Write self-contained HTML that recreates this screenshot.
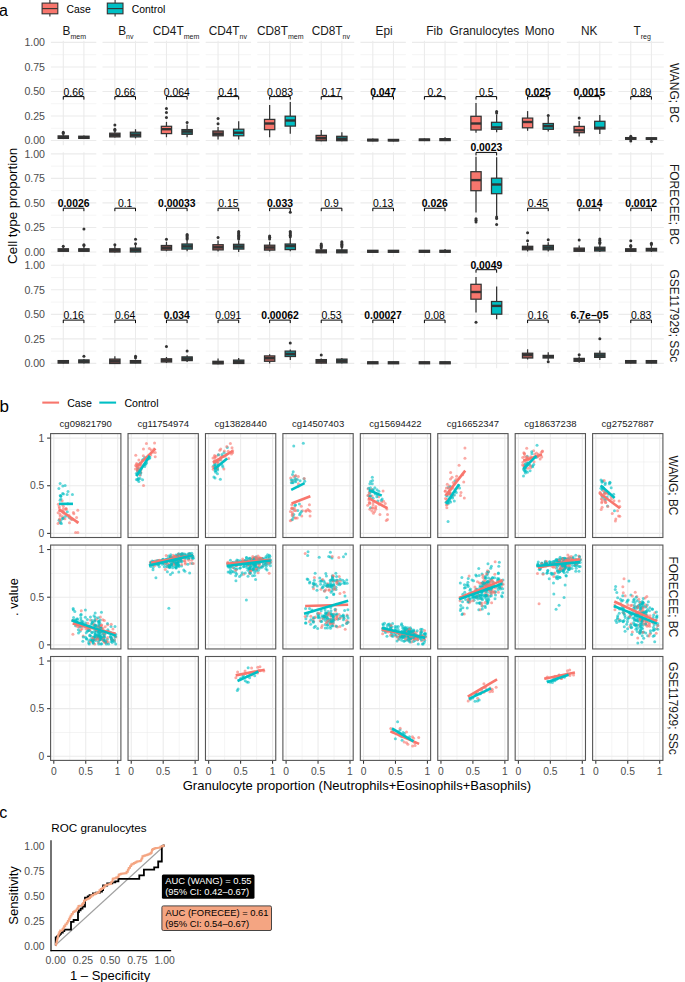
<!DOCTYPE html>
<html><head><meta charset="utf-8"><style>
html,body{margin:0;padding:0;background:#fff;}
svg{display:block;}
text{font-family:"Liberation Sans",sans-serif;}
.r{fill:#F8766D;fill-opacity:.62}
.t{fill:#00BFC4;fill-opacity:.62}
</style></head><body>
<svg width="685" height="982" viewBox="0 0 685 982">
<rect width="685" height="982" fill="#fff"/>
<path d="M50.9 140.5H96.3M50.9 115.97H96.3M50.9 91.45H96.3M50.9 66.92H96.3M50.9 42.4H96.3M63.28 40.7V145.3M83.92 40.7V145.3M102.49 140.5H147.89M102.49 115.97H147.89M102.49 91.45H147.89M102.49 66.92H147.89M102.49 42.4H147.89M114.87 40.7V145.3M135.51 40.7V145.3M154.08 140.5H199.48M154.08 115.97H199.48M154.08 91.45H199.48M154.08 66.92H199.48M154.08 42.4H199.48M166.46 40.7V145.3M187.1 40.7V145.3M205.67 140.5H251.07M205.67 115.97H251.07M205.67 91.45H251.07M205.67 66.92H251.07M205.67 42.4H251.07M218.05 40.7V145.3M238.69 40.7V145.3M257.26 140.5H302.66M257.26 115.97H302.66M257.26 91.45H302.66M257.26 66.92H302.66M257.26 42.4H302.66M269.64 40.7V145.3M290.28 40.7V145.3M308.85 140.5H354.25M308.85 115.97H354.25M308.85 91.45H354.25M308.85 66.92H354.25M308.85 42.4H354.25M321.23 40.7V145.3M341.87 40.7V145.3M360.44 140.5H405.84M360.44 115.97H405.84M360.44 91.45H405.84M360.44 66.92H405.84M360.44 42.4H405.84M372.82 40.7V145.3M393.46 40.7V145.3M412.03 140.5H457.43M412.03 115.97H457.43M412.03 91.45H457.43M412.03 66.92H457.43M412.03 42.4H457.43M424.41 40.7V145.3M445.05 40.7V145.3M463.62 140.5H509.02M463.62 115.97H509.02M463.62 91.45H509.02M463.62 66.92H509.02M463.62 42.4H509.02M476 40.7V145.3M496.64 40.7V145.3M515.21 140.5H560.61M515.21 115.97H560.61M515.21 91.45H560.61M515.21 66.92H560.61M515.21 42.4H560.61M527.59 40.7V145.3M548.23 40.7V145.3M566.8 140.5H612.2M566.8 115.97H612.2M566.8 91.45H612.2M566.8 66.92H612.2M566.8 42.4H612.2M579.18 40.7V145.3M599.82 40.7V145.3M618.39 140.5H663.79M618.39 115.97H663.79M618.39 91.45H663.79M618.39 66.92H663.79M618.39 42.4H663.79M630.77 40.7V145.3M651.41 40.7V145.3M50.9 251.95H96.3M50.9 227.42H96.3M50.9 202.9H96.3M50.9 178.38H96.3M50.9 153.85H96.3M63.28 152.15V256.75M83.92 152.15V256.75M102.49 251.95H147.89M102.49 227.42H147.89M102.49 202.9H147.89M102.49 178.38H147.89M102.49 153.85H147.89M114.87 152.15V256.75M135.51 152.15V256.75M154.08 251.95H199.48M154.08 227.42H199.48M154.08 202.9H199.48M154.08 178.38H199.48M154.08 153.85H199.48M166.46 152.15V256.75M187.1 152.15V256.75M205.67 251.95H251.07M205.67 227.42H251.07M205.67 202.9H251.07M205.67 178.38H251.07M205.67 153.85H251.07M218.05 152.15V256.75M238.69 152.15V256.75M257.26 251.95H302.66M257.26 227.42H302.66M257.26 202.9H302.66M257.26 178.38H302.66M257.26 153.85H302.66M269.64 152.15V256.75M290.28 152.15V256.75M308.85 251.95H354.25M308.85 227.42H354.25M308.85 202.9H354.25M308.85 178.38H354.25M308.85 153.85H354.25M321.23 152.15V256.75M341.87 152.15V256.75M360.44 251.95H405.84M360.44 227.42H405.84M360.44 202.9H405.84M360.44 178.38H405.84M360.44 153.85H405.84M372.82 152.15V256.75M393.46 152.15V256.75M412.03 251.95H457.43M412.03 227.42H457.43M412.03 202.9H457.43M412.03 178.38H457.43M412.03 153.85H457.43M424.41 152.15V256.75M445.05 152.15V256.75M463.62 251.95H509.02M463.62 227.42H509.02M463.62 202.9H509.02M463.62 178.38H509.02M463.62 153.85H509.02M476 152.15V256.75M496.64 152.15V256.75M515.21 251.95H560.61M515.21 227.42H560.61M515.21 202.9H560.61M515.21 178.38H560.61M515.21 153.85H560.61M527.59 152.15V256.75M548.23 152.15V256.75M566.8 251.95H612.2M566.8 227.42H612.2M566.8 202.9H612.2M566.8 178.38H612.2M566.8 153.85H612.2M579.18 152.15V256.75M599.82 152.15V256.75M618.39 251.95H663.79M618.39 227.42H663.79M618.39 202.9H663.79M618.39 178.38H663.79M618.39 153.85H663.79M630.77 152.15V256.75M651.41 152.15V256.75M50.9 363.4H96.3M50.9 338.88H96.3M50.9 314.35H96.3M50.9 289.82H96.3M50.9 265.3H96.3M63.28 263.6V368.2M83.92 263.6V368.2M102.49 363.4H147.89M102.49 338.88H147.89M102.49 314.35H147.89M102.49 289.82H147.89M102.49 265.3H147.89M114.87 263.6V368.2M135.51 263.6V368.2M154.08 363.4H199.48M154.08 338.88H199.48M154.08 314.35H199.48M154.08 289.82H199.48M154.08 265.3H199.48M166.46 263.6V368.2M187.1 263.6V368.2M205.67 363.4H251.07M205.67 338.88H251.07M205.67 314.35H251.07M205.67 289.82H251.07M205.67 265.3H251.07M218.05 263.6V368.2M238.69 263.6V368.2M257.26 363.4H302.66M257.26 338.88H302.66M257.26 314.35H302.66M257.26 289.82H302.66M257.26 265.3H302.66M269.64 263.6V368.2M290.28 263.6V368.2M308.85 363.4H354.25M308.85 338.88H354.25M308.85 314.35H354.25M308.85 289.82H354.25M308.85 265.3H354.25M321.23 263.6V368.2M341.87 263.6V368.2M360.44 363.4H405.84M360.44 338.88H405.84M360.44 314.35H405.84M360.44 289.82H405.84M360.44 265.3H405.84M372.82 263.6V368.2M393.46 263.6V368.2M412.03 363.4H457.43M412.03 338.88H457.43M412.03 314.35H457.43M412.03 289.82H457.43M412.03 265.3H457.43M424.41 263.6V368.2M445.05 263.6V368.2M463.62 363.4H509.02M463.62 338.88H509.02M463.62 314.35H509.02M463.62 289.82H509.02M463.62 265.3H509.02M476 263.6V368.2M496.64 263.6V368.2M515.21 363.4H560.61M515.21 338.88H560.61M515.21 314.35H560.61M515.21 289.82H560.61M515.21 265.3H560.61M527.59 263.6V368.2M548.23 263.6V368.2M566.8 363.4H612.2M566.8 338.88H612.2M566.8 314.35H612.2M566.8 289.82H612.2M566.8 265.3H612.2M579.18 263.6V368.2M599.82 263.6V368.2M618.39 363.4H663.79M618.39 338.88H663.79M618.39 314.35H663.79M618.39 289.82H663.79M618.39 265.3H663.79M630.77 263.6V368.2M651.41 263.6V368.2M50.6 533.4H120.9M53.8 433.6V537.5M50.6 485.75H120.9M85.75 433.6V537.5M50.6 438.1H120.9M117.7 433.6V537.5M128.03 533.4H198.33M131.23 433.6V537.5M128.03 485.75H198.33M163.18 433.6V537.5M128.03 438.1H198.33M195.13 433.6V537.5M205.46 533.4H275.76M208.66 433.6V537.5M205.46 485.75H275.76M240.61 433.6V537.5M205.46 438.1H275.76M272.56 433.6V537.5M282.89 533.4H353.19M286.09 433.6V537.5M282.89 485.75H353.19M318.04 433.6V537.5M282.89 438.1H353.19M349.99 433.6V537.5M360.32 533.4H430.62M363.52 433.6V537.5M360.32 485.75H430.62M395.47 433.6V537.5M360.32 438.1H430.62M427.42 433.6V537.5M437.75 533.4H508.05M440.95 433.6V537.5M437.75 485.75H508.05M472.9 433.6V537.5M437.75 438.1H508.05M504.85 433.6V537.5M515.18 533.4H585.48M518.38 433.6V537.5M515.18 485.75H585.48M550.33 433.6V537.5M515.18 438.1H585.48M582.28 433.6V537.5M592.61 533.4H662.91M595.81 433.6V537.5M592.61 485.75H662.91M627.76 433.6V537.5M592.61 438.1H662.91M659.71 433.6V537.5M50.6 644.85H120.9M53.8 545.05V648.95M50.6 597.2H120.9M85.75 545.05V648.95M50.6 549.55H120.9M117.7 545.05V648.95M128.03 644.85H198.33M131.23 545.05V648.95M128.03 597.2H198.33M163.18 545.05V648.95M128.03 549.55H198.33M195.13 545.05V648.95M205.46 644.85H275.76M208.66 545.05V648.95M205.46 597.2H275.76M240.61 545.05V648.95M205.46 549.55H275.76M272.56 545.05V648.95M282.89 644.85H353.19M286.09 545.05V648.95M282.89 597.2H353.19M318.04 545.05V648.95M282.89 549.55H353.19M349.99 545.05V648.95M360.32 644.85H430.62M363.52 545.05V648.95M360.32 597.2H430.62M395.47 545.05V648.95M360.32 549.55H430.62M427.42 545.05V648.95M437.75 644.85H508.05M440.95 545.05V648.95M437.75 597.2H508.05M472.9 545.05V648.95M437.75 549.55H508.05M504.85 545.05V648.95M515.18 644.85H585.48M518.38 545.05V648.95M515.18 597.2H585.48M550.33 545.05V648.95M515.18 549.55H585.48M582.28 545.05V648.95M592.61 644.85H662.91M595.81 545.05V648.95M592.61 597.2H662.91M627.76 545.05V648.95M592.61 549.55H662.91M659.71 545.05V648.95M50.6 756.3H120.9M53.8 656.5V760.4M50.6 708.65H120.9M85.75 656.5V760.4M50.6 661H120.9M117.7 656.5V760.4M128.03 756.3H198.33M131.23 656.5V760.4M128.03 708.65H198.33M163.18 656.5V760.4M128.03 661H198.33M195.13 656.5V760.4M205.46 756.3H275.76M208.66 656.5V760.4M205.46 708.65H275.76M240.61 656.5V760.4M205.46 661H275.76M272.56 656.5V760.4M282.89 756.3H353.19M286.09 656.5V760.4M282.89 708.65H353.19M318.04 656.5V760.4M282.89 661H353.19M349.99 656.5V760.4M360.32 756.3H430.62M363.52 656.5V760.4M360.32 708.65H430.62M395.47 656.5V760.4M360.32 661H430.62M427.42 656.5V760.4M437.75 756.3H508.05M440.95 656.5V760.4M437.75 708.65H508.05M472.9 656.5V760.4M437.75 661H508.05M504.85 656.5V760.4M515.18 756.3H585.48M518.38 656.5V760.4M515.18 708.65H585.48M550.33 656.5V760.4M515.18 661H585.48M582.28 656.5V760.4M592.61 756.3H662.91M595.81 656.5V760.4M592.61 708.65H662.91M627.76 656.5V760.4M592.61 661H662.91M659.71 656.5V760.4" fill="none" stroke="#EBEBEB" stroke-width="1.07"/>
<path d="M50.9 128.24H96.3M50.9 103.71H96.3M50.9 79.19H96.3M50.9 54.66H96.3M102.49 128.24H147.89M102.49 103.71H147.89M102.49 79.19H147.89M102.49 54.66H147.89M154.08 128.24H199.48M154.08 103.71H199.48M154.08 79.19H199.48M154.08 54.66H199.48M205.67 128.24H251.07M205.67 103.71H251.07M205.67 79.19H251.07M205.67 54.66H251.07M257.26 128.24H302.66M257.26 103.71H302.66M257.26 79.19H302.66M257.26 54.66H302.66M308.85 128.24H354.25M308.85 103.71H354.25M308.85 79.19H354.25M308.85 54.66H354.25M360.44 128.24H405.84M360.44 103.71H405.84M360.44 79.19H405.84M360.44 54.66H405.84M412.03 128.24H457.43M412.03 103.71H457.43M412.03 79.19H457.43M412.03 54.66H457.43M463.62 128.24H509.02M463.62 103.71H509.02M463.62 79.19H509.02M463.62 54.66H509.02M515.21 128.24H560.61M515.21 103.71H560.61M515.21 79.19H560.61M515.21 54.66H560.61M566.8 128.24H612.2M566.8 103.71H612.2M566.8 79.19H612.2M566.8 54.66H612.2M618.39 128.24H663.79M618.39 103.71H663.79M618.39 79.19H663.79M618.39 54.66H663.79M50.9 239.69H96.3M50.9 215.16H96.3M50.9 190.64H96.3M50.9 166.11H96.3M102.49 239.69H147.89M102.49 215.16H147.89M102.49 190.64H147.89M102.49 166.11H147.89M154.08 239.69H199.48M154.08 215.16H199.48M154.08 190.64H199.48M154.08 166.11H199.48M205.67 239.69H251.07M205.67 215.16H251.07M205.67 190.64H251.07M205.67 166.11H251.07M257.26 239.69H302.66M257.26 215.16H302.66M257.26 190.64H302.66M257.26 166.11H302.66M308.85 239.69H354.25M308.85 215.16H354.25M308.85 190.64H354.25M308.85 166.11H354.25M360.44 239.69H405.84M360.44 215.16H405.84M360.44 190.64H405.84M360.44 166.11H405.84M412.03 239.69H457.43M412.03 215.16H457.43M412.03 190.64H457.43M412.03 166.11H457.43M463.62 239.69H509.02M463.62 215.16H509.02M463.62 190.64H509.02M463.62 166.11H509.02M515.21 239.69H560.61M515.21 215.16H560.61M515.21 190.64H560.61M515.21 166.11H560.61M566.8 239.69H612.2M566.8 215.16H612.2M566.8 190.64H612.2M566.8 166.11H612.2M618.39 239.69H663.79M618.39 215.16H663.79M618.39 190.64H663.79M618.39 166.11H663.79M50.9 351.14H96.3M50.9 326.61H96.3M50.9 302.09H96.3M50.9 277.56H96.3M102.49 351.14H147.89M102.49 326.61H147.89M102.49 302.09H147.89M102.49 277.56H147.89M154.08 351.14H199.48M154.08 326.61H199.48M154.08 302.09H199.48M154.08 277.56H199.48M205.67 351.14H251.07M205.67 326.61H251.07M205.67 302.09H251.07M205.67 277.56H251.07M257.26 351.14H302.66M257.26 326.61H302.66M257.26 302.09H302.66M257.26 277.56H302.66M308.85 351.14H354.25M308.85 326.61H354.25M308.85 302.09H354.25M308.85 277.56H354.25M360.44 351.14H405.84M360.44 326.61H405.84M360.44 302.09H405.84M360.44 277.56H405.84M412.03 351.14H457.43M412.03 326.61H457.43M412.03 302.09H457.43M412.03 277.56H457.43M463.62 351.14H509.02M463.62 326.61H509.02M463.62 302.09H509.02M463.62 277.56H509.02M515.21 351.14H560.61M515.21 326.61H560.61M515.21 302.09H560.61M515.21 277.56H560.61M566.8 351.14H612.2M566.8 326.61H612.2M566.8 302.09H612.2M566.8 277.56H612.2M618.39 351.14H663.79M618.39 326.61H663.79M618.39 302.09H663.79M618.39 277.56H663.79M50.6 509.58H120.9M69.78 433.6V537.5M50.6 461.93H120.9M101.72 433.6V537.5M128.03 509.58H198.33M147.2 433.6V537.5M128.03 461.93H198.33M179.15 433.6V537.5M205.46 509.58H275.76M224.63 433.6V537.5M205.46 461.93H275.76M256.58 433.6V537.5M282.89 509.58H353.19M302.07 433.6V537.5M282.89 461.93H353.19M334.02 433.6V537.5M360.32 509.58H430.62M379.5 433.6V537.5M360.32 461.93H430.62M411.45 433.6V537.5M437.75 509.58H508.05M456.93 433.6V537.5M437.75 461.93H508.05M488.88 433.6V537.5M515.18 509.58H585.48M534.36 433.6V537.5M515.18 461.93H585.48M566.31 433.6V537.5M592.61 509.58H662.91M611.79 433.6V537.5M592.61 461.93H662.91M643.74 433.6V537.5M50.6 621.03H120.9M69.78 545.05V648.95M50.6 573.38H120.9M101.72 545.05V648.95M128.03 621.03H198.33M147.2 545.05V648.95M128.03 573.38H198.33M179.15 545.05V648.95M205.46 621.03H275.76M224.63 545.05V648.95M205.46 573.38H275.76M256.58 545.05V648.95M282.89 621.03H353.19M302.07 545.05V648.95M282.89 573.38H353.19M334.02 545.05V648.95M360.32 621.03H430.62M379.5 545.05V648.95M360.32 573.38H430.62M411.45 545.05V648.95M437.75 621.03H508.05M456.93 545.05V648.95M437.75 573.38H508.05M488.88 545.05V648.95M515.18 621.03H585.48M534.36 545.05V648.95M515.18 573.38H585.48M566.31 545.05V648.95M592.61 621.03H662.91M611.79 545.05V648.95M592.61 573.38H662.91M643.74 545.05V648.95M50.6 732.48H120.9M69.78 656.5V760.4M50.6 684.83H120.9M101.72 656.5V760.4M128.03 732.48H198.33M147.2 656.5V760.4M128.03 684.83H198.33M179.15 656.5V760.4M205.46 732.48H275.76M224.63 656.5V760.4M205.46 684.83H275.76M256.58 656.5V760.4M282.89 732.48H353.19M302.07 656.5V760.4M282.89 684.83H353.19M334.02 656.5V760.4M360.32 732.48H430.62M379.5 656.5V760.4M360.32 684.83H430.62M411.45 656.5V760.4M437.75 732.48H508.05M456.93 656.5V760.4M437.75 684.83H508.05M488.88 656.5V760.4M515.18 732.48H585.48M534.36 656.5V760.4M515.18 684.83H585.48M566.31 656.5V760.4M592.61 732.48H662.91M611.79 656.5V760.4M592.61 684.83H662.91M643.74 656.5V760.4" fill="none" stroke="#EBEBEB" stroke-width="0.55"/>
<text x="45" y="144.3" font-size="10.6" fill="#4D4D4D" text-anchor="end">0.00</text>
<text x="45" y="119.77" font-size="10.6" fill="#4D4D4D" text-anchor="end">0.25</text>
<text x="45" y="95.25" font-size="10.6" fill="#4D4D4D" text-anchor="end">0.50</text>
<text x="45" y="70.72" font-size="10.6" fill="#4D4D4D" text-anchor="end">0.75</text>
<text x="45" y="46.2" font-size="10.6" fill="#4D4D4D" text-anchor="end">1.00</text>
<text x="45" y="255.75" font-size="10.6" fill="#4D4D4D" text-anchor="end">0.00</text>
<text x="45" y="231.22" font-size="10.6" fill="#4D4D4D" text-anchor="end">0.25</text>
<text x="45" y="206.7" font-size="10.6" fill="#4D4D4D" text-anchor="end">0.50</text>
<text x="45" y="182.18" font-size="10.6" fill="#4D4D4D" text-anchor="end">0.75</text>
<text x="45" y="157.65" font-size="10.6" fill="#4D4D4D" text-anchor="end">1.00</text>
<text x="45" y="367.2" font-size="10.6" fill="#4D4D4D" text-anchor="end">0.00</text>
<text x="45" y="342.68" font-size="10.6" fill="#4D4D4D" text-anchor="end">0.25</text>
<text x="45" y="318.15" font-size="10.6" fill="#4D4D4D" text-anchor="end">0.50</text>
<text x="45" y="293.62" font-size="10.6" fill="#4D4D4D" text-anchor="end">0.75</text>
<text x="45" y="269.1" font-size="10.6" fill="#4D4D4D" text-anchor="end">1.00</text>
<text x="74.3" y="34.5" font-size="11.85" fill="#1A1A1A" text-anchor="middle">B<tspan font-size="7" dy="4.3">mem</tspan></text>
<text x="125.8" y="34.5" font-size="11.85" fill="#1A1A1A" text-anchor="middle">B<tspan font-size="7" dy="4.3">nv</tspan></text>
<text x="176" y="34.5" font-size="11.85" fill="#1A1A1A" text-anchor="middle">CD4T<tspan font-size="7" dy="4.3">mem</tspan></text>
<text x="227.8" y="34.5" font-size="11.85" fill="#1A1A1A" text-anchor="middle">CD4T<tspan font-size="7" dy="4.3">nv</tspan></text>
<text x="280.25" y="34.5" font-size="11.85" fill="#1A1A1A" text-anchor="middle">CD8T<tspan font-size="7" dy="4.3">mem</tspan></text>
<text x="330.8" y="34.5" font-size="11.85" fill="#1A1A1A" text-anchor="middle">CD8T<tspan font-size="7" dy="4.3">nv</tspan></text>
<text x="384.05" y="34.5" font-size="11.85" fill="#1A1A1A" text-anchor="middle">Epi</text>
<text x="434.6" y="34.5" font-size="11.85" fill="#1A1A1A" text-anchor="middle">Fib</text>
<text x="484.4" y="34.5" font-size="11.85" fill="#1A1A1A" text-anchor="middle">Granulocytes</text>
<text x="539.5" y="34.5" font-size="11.85" fill="#1A1A1A" text-anchor="middle">Mono</text>
<text x="589.2" y="34.5" font-size="11.85" fill="#1A1A1A" text-anchor="middle">NK</text>
<text x="642.1" y="34.5" font-size="11.85" fill="#1A1A1A" text-anchor="middle">T<tspan font-size="7" dy="4.3">reg</tspan></text>
<text x="670.1" y="93" font-size="11.95" fill="#1A1A1A" text-anchor="middle" transform="rotate(90 670.1 93)">WANG; BC</text>
<text x="670.1" y="204.45" font-size="11.95" fill="#1A1A1A" text-anchor="middle" transform="rotate(90 670.1 204.45)">FORECEE; BC</text>
<text x="670.1" y="315.9" font-size="11.95" fill="#1A1A1A" text-anchor="middle" transform="rotate(90 670.1 315.9)">GSE117929; SSc</text>
<text x="17.2" y="205.9" font-size="13.4" fill="#000" text-anchor="middle" transform="rotate(-90 17.2 205.9)">Cell type proportion</text>
<text x="-1.1" y="15.5" font-size="16" fill="#000" text-anchor="start">a</text>
<line x1="63.28" y1="135" x2="63.28" y2="135.9" stroke="#333" stroke-width="1.25"/>
<line x1="63.28" y1="138.4" x2="63.28" y2="138.9" stroke="#333" stroke-width="1.25"/>
<rect x="58.13" y="135.9" width="10.3" height="2.5" fill="#814D4A" stroke="#333" stroke-width="1.25"/>
<line x1="58.13" y1="137.2" x2="68.43" y2="137.2" stroke="#333" stroke-width="2.4"/>
<circle cx="63.28" cy="132.3" r="1.5" fill="#333"/>
<circle cx="63.28" cy="133.6" r="1.5" fill="#333"/>
<line x1="83.92" y1="135.4" x2="83.92" y2="136.2" stroke="#333" stroke-width="1.25"/>
<line x1="83.92" y1="138.4" x2="83.92" y2="138.9" stroke="#333" stroke-width="1.25"/>
<rect x="78.77" y="136.2" width="10.3" height="2.2" fill="#1E6B6D" stroke="#333" stroke-width="1.25"/>
<line x1="78.77" y1="137.3" x2="89.07" y2="137.3" stroke="#333" stroke-width="2.4"/>
<line x1="114.87" y1="132" x2="114.87" y2="133.2" stroke="#333" stroke-width="1.25"/>
<line x1="114.87" y1="136.9" x2="114.87" y2="137.6" stroke="#333" stroke-width="1.25"/>
<rect x="109.72" y="133.2" width="10.3" height="3.7" fill="#814D4A" stroke="#333" stroke-width="1.25"/>
<line x1="109.72" y1="135.2" x2="120.02" y2="135.2" stroke="#333" stroke-width="2.4"/>
<circle cx="114.87" cy="124.9" r="1.5" fill="#333"/>
<circle cx="114.87" cy="129.2" r="1.5" fill="#333"/>
<circle cx="114.87" cy="130.4" r="1.5" fill="#333"/>
<line x1="135.51" y1="129.2" x2="135.51" y2="132.2" stroke="#333" stroke-width="1.25"/>
<line x1="135.51" y1="136.9" x2="135.51" y2="138.4" stroke="#333" stroke-width="1.25"/>
<rect x="130.36" y="132.2" width="10.3" height="4.7" fill="#1A7779" stroke="#333" stroke-width="1.25"/>
<line x1="130.36" y1="134.8" x2="140.66" y2="134.8" stroke="#333" stroke-width="2.4"/>
<line x1="166.46" y1="121.9" x2="166.46" y2="126.3" stroke="#333" stroke-width="1.25"/>
<line x1="166.46" y1="133.6" x2="166.46" y2="137.2" stroke="#333" stroke-width="1.25"/>
<rect x="161.31" y="126.3" width="10.3" height="7.3" fill="#F8766D" stroke="#333" stroke-width="1.25"/>
<line x1="161.31" y1="129.2" x2="171.61" y2="129.2" stroke="#333" stroke-width="2.4"/>
<circle cx="166.46" cy="108.5" r="1.5" fill="#333"/>
<circle cx="166.46" cy="112.4" r="1.5" fill="#333"/>
<circle cx="166.46" cy="117.5" r="1.5" fill="#333"/>
<line x1="187.1" y1="124.5" x2="187.1" y2="129.6" stroke="#333" stroke-width="1.25"/>
<line x1="187.1" y1="134.3" x2="187.1" y2="137.2" stroke="#333" stroke-width="1.25"/>
<rect x="181.95" y="129.6" width="10.3" height="4.7" fill="#1A7779" stroke="#333" stroke-width="1.25"/>
<line x1="181.95" y1="131.5" x2="192.25" y2="131.5" stroke="#333" stroke-width="2.4"/>
<circle cx="187.1" cy="122.6" r="1.5" fill="#333"/>
<line x1="218.05" y1="127" x2="218.05" y2="131" stroke="#333" stroke-width="1.25"/>
<line x1="218.05" y1="135.8" x2="218.05" y2="139.4" stroke="#333" stroke-width="1.25"/>
<rect x="212.9" y="131" width="10.3" height="4.8" fill="#985550" stroke="#333" stroke-width="1.25"/>
<line x1="212.9" y1="133.9" x2="223.2" y2="133.9" stroke="#333" stroke-width="2.4"/>
<circle cx="218.05" cy="118.5" r="1.5" fill="#333"/>
<circle cx="218.05" cy="123.8" r="1.5" fill="#333"/>
<line x1="238.69" y1="121.2" x2="238.69" y2="129.2" stroke="#333" stroke-width="1.25"/>
<line x1="238.69" y1="135.8" x2="238.69" y2="139.4" stroke="#333" stroke-width="1.25"/>
<rect x="233.54" y="129.2" width="10.3" height="6.6" fill="#00BFC4" stroke="#333" stroke-width="1.25"/>
<line x1="233.54" y1="132.7" x2="243.84" y2="132.7" stroke="#333" stroke-width="2.4"/>
<line x1="269.64" y1="104.9" x2="269.64" y2="119.4" stroke="#333" stroke-width="1.25"/>
<line x1="269.64" y1="129.7" x2="269.64" y2="137.3" stroke="#333" stroke-width="1.25"/>
<rect x="264.49" y="119.4" width="10.3" height="10.3" fill="#F8766D" stroke="#333" stroke-width="1.25"/>
<line x1="264.49" y1="123.5" x2="274.79" y2="123.5" stroke="#333" stroke-width="2.4"/>
<line x1="290.28" y1="102" x2="290.28" y2="116.2" stroke="#333" stroke-width="1.25"/>
<line x1="290.28" y1="126.1" x2="290.28" y2="133.7" stroke="#333" stroke-width="1.25"/>
<rect x="285.13" y="116.2" width="10.3" height="9.9" fill="#00BFC4" stroke="#333" stroke-width="1.25"/>
<line x1="285.13" y1="120.5" x2="295.43" y2="120.5" stroke="#333" stroke-width="2.4"/>
<line x1="321.23" y1="130" x2="321.23" y2="135.4" stroke="#333" stroke-width="1.25"/>
<line x1="321.23" y1="140.7" x2="321.23" y2="141.2" stroke="#333" stroke-width="1.25"/>
<rect x="316.08" y="135.4" width="10.3" height="5.3" fill="#B45F59" stroke="#333" stroke-width="1.25"/>
<line x1="316.08" y1="138.2" x2="326.38" y2="138.2" stroke="#333" stroke-width="2.4"/>
<line x1="341.87" y1="132.2" x2="341.87" y2="136.3" stroke="#333" stroke-width="1.25"/>
<line x1="341.87" y1="140.7" x2="341.87" y2="141.2" stroke="#333" stroke-width="1.25"/>
<rect x="336.72" y="136.3" width="10.3" height="4.4" fill="#1E6B6D" stroke="#333" stroke-width="1.25"/>
<line x1="336.72" y1="139.2" x2="347.02" y2="139.2" stroke="#333" stroke-width="2.4"/>
<line x1="372.82" y1="138.4" x2="372.82" y2="139.2" stroke="#333" stroke-width="1.25"/>
<line x1="372.82" y1="140.9" x2="372.82" y2="141.3" stroke="#333" stroke-width="1.25"/>
<rect x="367.67" y="139.2" width="10.3" height="1.7" fill="#814D4A" stroke="#333" stroke-width="1.25"/>
<line x1="367.67" y1="140.1" x2="377.97" y2="140.1" stroke="#333" stroke-width="2.4"/>
<line x1="393.46" y1="139.1" x2="393.46" y2="139.4" stroke="#333" stroke-width="1.25"/>
<line x1="393.46" y1="140.9" x2="393.46" y2="141.3" stroke="#333" stroke-width="1.25"/>
<rect x="388.31" y="139.4" width="10.3" height="1.5" fill="#1E6B6D" stroke="#333" stroke-width="1.25"/>
<line x1="388.31" y1="140.2" x2="398.61" y2="140.2" stroke="#333" stroke-width="2.4"/>
<line x1="424.41" y1="138.5" x2="424.41" y2="139" stroke="#333" stroke-width="1.25"/>
<line x1="424.41" y1="140.6" x2="424.41" y2="141.1" stroke="#333" stroke-width="1.25"/>
<rect x="419.26" y="139" width="10.3" height="1.6" fill="#814D4A" stroke="#333" stroke-width="1.25"/>
<line x1="419.26" y1="139.8" x2="429.56" y2="139.8" stroke="#333" stroke-width="2.4"/>
<line x1="445.05" y1="137.3" x2="445.05" y2="138.7" stroke="#333" stroke-width="1.25"/>
<line x1="445.05" y1="140.6" x2="445.05" y2="141.1" stroke="#333" stroke-width="1.25"/>
<rect x="439.9" y="138.7" width="10.3" height="1.9" fill="#1E6B6D" stroke="#333" stroke-width="1.25"/>
<line x1="439.9" y1="139.6" x2="450.2" y2="139.6" stroke="#333" stroke-width="2.4"/>
<line x1="476" y1="103" x2="476" y2="116.3" stroke="#333" stroke-width="1.25"/>
<line x1="476" y1="130" x2="476" y2="132.7" stroke="#333" stroke-width="1.25"/>
<rect x="470.85" y="116.3" width="10.3" height="13.7" fill="#F8766D" stroke="#333" stroke-width="1.25"/>
<line x1="470.85" y1="123.5" x2="481.15" y2="123.5" stroke="#333" stroke-width="2.4"/>
<line x1="496.64" y1="114.5" x2="496.64" y2="122.3" stroke="#333" stroke-width="1.25"/>
<line x1="496.64" y1="129.3" x2="496.64" y2="132.2" stroke="#333" stroke-width="1.25"/>
<rect x="491.49" y="122.3" width="10.3" height="7" fill="#00BFC4" stroke="#333" stroke-width="1.25"/>
<line x1="491.49" y1="127.4" x2="501.79" y2="127.4" stroke="#333" stroke-width="2.4"/>
<circle cx="496.64" cy="111.6" r="1.5" fill="#333"/>
<circle cx="496.64" cy="113" r="1.5" fill="#333"/>
<line x1="527.59" y1="111.1" x2="527.59" y2="118.1" stroke="#333" stroke-width="1.25"/>
<line x1="527.59" y1="127.8" x2="527.59" y2="130.8" stroke="#333" stroke-width="1.25"/>
<rect x="522.44" y="118.1" width="10.3" height="9.7" fill="#F8766D" stroke="#333" stroke-width="1.25"/>
<line x1="522.44" y1="122" x2="532.74" y2="122" stroke="#333" stroke-width="2.4"/>
<line x1="548.23" y1="117" x2="548.23" y2="123.5" stroke="#333" stroke-width="1.25"/>
<line x1="548.23" y1="129.3" x2="548.23" y2="131.5" stroke="#333" stroke-width="1.25"/>
<rect x="543.08" y="123.5" width="10.3" height="5.8" fill="#0AA3A7" stroke="#333" stroke-width="1.25"/>
<line x1="543.08" y1="126.1" x2="553.38" y2="126.1" stroke="#333" stroke-width="2.4"/>
<circle cx="548.23" cy="115.4" r="1.5" fill="#333"/>
<line x1="579.18" y1="121" x2="579.18" y2="126.4" stroke="#333" stroke-width="1.25"/>
<line x1="579.18" y1="132.7" x2="579.18" y2="136.6" stroke="#333" stroke-width="1.25"/>
<rect x="574.03" y="126.4" width="10.3" height="6.3" fill="#EC7269" stroke="#333" stroke-width="1.25"/>
<line x1="574.03" y1="130.3" x2="584.33" y2="130.3" stroke="#333" stroke-width="2.4"/>
<circle cx="579.18" cy="118.1" r="1.5" fill="#333"/>
<line x1="599.82" y1="115.1" x2="599.82" y2="121.3" stroke="#333" stroke-width="1.25"/>
<line x1="599.82" y1="129" x2="599.82" y2="134.1" stroke="#333" stroke-width="1.25"/>
<rect x="594.67" y="121.3" width="10.3" height="7.7" fill="#00BFC4" stroke="#333" stroke-width="1.25"/>
<line x1="594.67" y1="127.8" x2="604.97" y2="127.8" stroke="#333" stroke-width="2.4"/>
<line x1="630.77" y1="136.8" x2="630.77" y2="137.6" stroke="#333" stroke-width="1.25"/>
<line x1="630.77" y1="139.3" x2="630.77" y2="140.5" stroke="#333" stroke-width="1.25"/>
<rect x="625.62" y="137.6" width="10.3" height="1.7" fill="#814D4A" stroke="#333" stroke-width="1.25"/>
<line x1="625.62" y1="138.4" x2="635.92" y2="138.4" stroke="#333" stroke-width="2.4"/>
<circle cx="630.77" cy="136.3" r="1.5" fill="#333"/>
<circle cx="630.77" cy="141" r="1.5" fill="#333"/>
<line x1="651.41" y1="137.6" x2="651.41" y2="137.8" stroke="#333" stroke-width="1.25"/>
<line x1="651.41" y1="139.3" x2="651.41" y2="140.8" stroke="#333" stroke-width="1.25"/>
<rect x="646.26" y="137.8" width="10.3" height="1.5" fill="#1E6B6D" stroke="#333" stroke-width="1.25"/>
<line x1="646.26" y1="138.6" x2="656.56" y2="138.6" stroke="#333" stroke-width="2.4"/>
<circle cx="651.41" cy="141.4" r="1.5" fill="#333"/>
<line x1="63.28" y1="247" x2="63.28" y2="248.8" stroke="#333" stroke-width="1.25"/>
<line x1="63.28" y1="251.3" x2="63.28" y2="251.8" stroke="#333" stroke-width="1.25"/>
<rect x="58.13" y="248.8" width="10.3" height="2.5" fill="#814D4A" stroke="#333" stroke-width="1.25"/>
<line x1="58.13" y1="250" x2="68.43" y2="250" stroke="#333" stroke-width="2.4"/>
<circle cx="63.28" cy="246.2" r="1.5" fill="#333"/>
<line x1="83.92" y1="246.5" x2="83.92" y2="248.8" stroke="#333" stroke-width="1.25"/>
<line x1="83.92" y1="251.3" x2="83.92" y2="251.8" stroke="#333" stroke-width="1.25"/>
<rect x="78.77" y="248.8" width="10.3" height="2.5" fill="#1E6B6D" stroke="#333" stroke-width="1.25"/>
<line x1="78.77" y1="250" x2="89.07" y2="250" stroke="#333" stroke-width="2.4"/>
<circle cx="83.92" cy="229" r="1.5" fill="#333"/>
<circle cx="83.92" cy="244.7" r="1.5" fill="#333"/>
<circle cx="83.92" cy="245.5" r="1.5" fill="#333"/>
<line x1="114.87" y1="246" x2="114.87" y2="248.8" stroke="#333" stroke-width="1.25"/>
<line x1="114.87" y1="252" x2="114.87" y2="252.4" stroke="#333" stroke-width="1.25"/>
<rect x="109.72" y="248.8" width="10.3" height="3.2" fill="#814D4A" stroke="#333" stroke-width="1.25"/>
<line x1="109.72" y1="250.3" x2="120.02" y2="250.3" stroke="#333" stroke-width="2.4"/>
<circle cx="114.87" cy="244.7" r="1.5" fill="#333"/>
<line x1="135.51" y1="245" x2="135.51" y2="248.1" stroke="#333" stroke-width="1.25"/>
<line x1="135.51" y1="252" x2="135.51" y2="252.4" stroke="#333" stroke-width="1.25"/>
<rect x="130.36" y="248.1" width="10.3" height="3.9" fill="#1E6B6D" stroke="#333" stroke-width="1.25"/>
<line x1="130.36" y1="250" x2="140.66" y2="250" stroke="#333" stroke-width="2.4"/>
<circle cx="135.51" cy="239.3" r="1.5" fill="#333"/>
<circle cx="135.51" cy="243.7" r="1.5" fill="#333"/>
<line x1="166.46" y1="241.8" x2="166.46" y2="245.5" stroke="#333" stroke-width="1.25"/>
<line x1="166.46" y1="250.1" x2="166.46" y2="251.3" stroke="#333" stroke-width="1.25"/>
<rect x="161.31" y="245.5" width="10.3" height="4.6" fill="#8D514D" stroke="#333" stroke-width="1.25"/>
<line x1="161.31" y1="247.8" x2="171.61" y2="247.8" stroke="#333" stroke-width="2.4"/>
<circle cx="166.46" cy="239.3" r="1.5" fill="#333"/>
<line x1="187.1" y1="240" x2="187.1" y2="244" stroke="#333" stroke-width="1.25"/>
<line x1="187.1" y1="249.1" x2="187.1" y2="251.3" stroke="#333" stroke-width="1.25"/>
<rect x="181.95" y="244" width="10.3" height="5.1" fill="#148689" stroke="#333" stroke-width="1.25"/>
<line x1="181.95" y1="246.4" x2="192.25" y2="246.4" stroke="#333" stroke-width="2.4"/>
<circle cx="187.1" cy="234.5" r="1.5" fill="#333"/>
<circle cx="187.1" cy="235.6" r="1.5" fill="#333"/>
<circle cx="187.1" cy="236.8" r="1.5" fill="#333"/>
<circle cx="187.1" cy="237.9" r="1.5" fill="#333"/>
<circle cx="187.1" cy="238.9" r="1.5" fill="#333"/>
<line x1="218.05" y1="240.4" x2="218.05" y2="244.7" stroke="#333" stroke-width="1.25"/>
<line x1="218.05" y1="249.9" x2="218.05" y2="251.5" stroke="#333" stroke-width="1.25"/>
<rect x="212.9" y="244.7" width="10.3" height="5.2" fill="#AE5D57" stroke="#333" stroke-width="1.25"/>
<line x1="212.9" y1="247.3" x2="223.2" y2="247.3" stroke="#333" stroke-width="2.4"/>
<circle cx="218.05" cy="237.4" r="1.5" fill="#333"/>
<line x1="238.69" y1="240.5" x2="238.69" y2="244.3" stroke="#333" stroke-width="1.25"/>
<line x1="238.69" y1="249.1" x2="238.69" y2="252" stroke="#333" stroke-width="1.25"/>
<rect x="233.54" y="244.3" width="10.3" height="4.8" fill="#187A7D" stroke="#333" stroke-width="1.25"/>
<line x1="233.54" y1="246.6" x2="243.84" y2="246.6" stroke="#333" stroke-width="2.4"/>
<circle cx="238.69" cy="231.6" r="1.5" fill="#333"/>
<circle cx="238.69" cy="232.8" r="1.5" fill="#333"/>
<circle cx="238.69" cy="234" r="1.5" fill="#333"/>
<circle cx="238.69" cy="235.3" r="1.5" fill="#333"/>
<circle cx="238.69" cy="236.5" r="1.5" fill="#333"/>
<circle cx="238.69" cy="237.8" r="1.5" fill="#333"/>
<circle cx="238.69" cy="239" r="1.5" fill="#333"/>
<line x1="269.64" y1="241.8" x2="269.64" y2="245.2" stroke="#333" stroke-width="1.25"/>
<line x1="269.64" y1="250.1" x2="269.64" y2="251.5" stroke="#333" stroke-width="1.25"/>
<rect x="264.49" y="245.2" width="10.3" height="4.9" fill="#9D5752" stroke="#333" stroke-width="1.25"/>
<line x1="264.49" y1="247.5" x2="274.79" y2="247.5" stroke="#333" stroke-width="2.4"/>
<circle cx="269.64" cy="236" r="1.5" fill="#333"/>
<circle cx="269.64" cy="237.3" r="1.5" fill="#333"/>
<circle cx="269.64" cy="238.9" r="1.5" fill="#333"/>
<line x1="290.28" y1="238" x2="290.28" y2="244" stroke="#333" stroke-width="1.25"/>
<line x1="290.28" y1="249.6" x2="290.28" y2="251.3" stroke="#333" stroke-width="1.25"/>
<rect x="285.13" y="244" width="10.3" height="5.6" fill="#0D9A9E" stroke="#333" stroke-width="1.25"/>
<line x1="285.13" y1="246" x2="295.43" y2="246" stroke="#333" stroke-width="2.4"/>
<circle cx="290.28" cy="212.2" r="1.5" fill="#333"/>
<circle cx="290.28" cy="231.6" r="1.5" fill="#333"/>
<circle cx="290.28" cy="232.8" r="1.5" fill="#333"/>
<circle cx="290.28" cy="234" r="1.5" fill="#333"/>
<circle cx="290.28" cy="235.3" r="1.5" fill="#333"/>
<circle cx="290.28" cy="236.7" r="1.5" fill="#333"/>
<line x1="321.23" y1="247.5" x2="321.23" y2="249.9" stroke="#333" stroke-width="1.25"/>
<line x1="321.23" y1="252.8" x2="321.23" y2="253" stroke="#333" stroke-width="1.25"/>
<rect x="316.08" y="249.9" width="10.3" height="2.9" fill="#814D4A" stroke="#333" stroke-width="1.25"/>
<line x1="316.08" y1="251.3" x2="326.38" y2="251.3" stroke="#333" stroke-width="2.4"/>
<circle cx="321.23" cy="244" r="1.5" fill="#333"/>
<circle cx="321.23" cy="245.3" r="1.5" fill="#333"/>
<circle cx="321.23" cy="246.5" r="1.5" fill="#333"/>
<circle cx="321.23" cy="247.8" r="1.5" fill="#333"/>
<line x1="341.87" y1="247.5" x2="341.87" y2="249.9" stroke="#333" stroke-width="1.25"/>
<line x1="341.87" y1="252.8" x2="341.87" y2="253" stroke="#333" stroke-width="1.25"/>
<rect x="336.72" y="249.9" width="10.3" height="2.9" fill="#1E6B6D" stroke="#333" stroke-width="1.25"/>
<line x1="336.72" y1="251.3" x2="347.02" y2="251.3" stroke="#333" stroke-width="2.4"/>
<circle cx="341.87" cy="241.8" r="1.5" fill="#333"/>
<circle cx="341.87" cy="243" r="1.5" fill="#333"/>
<circle cx="341.87" cy="244.3" r="1.5" fill="#333"/>
<circle cx="341.87" cy="245.5" r="1.5" fill="#333"/>
<circle cx="341.87" cy="246.8" r="1.5" fill="#333"/>
<line x1="372.82" y1="250.1" x2="372.82" y2="250.3" stroke="#333" stroke-width="1.25"/>
<line x1="372.82" y1="252.3" x2="372.82" y2="252.5" stroke="#333" stroke-width="1.25"/>
<rect x="367.67" y="250.3" width="10.3" height="2" fill="#814D4A" stroke="#333" stroke-width="1.25"/>
<line x1="367.67" y1="251.3" x2="377.97" y2="251.3" stroke="#333" stroke-width="2.4"/>
<line x1="393.46" y1="250.1" x2="393.46" y2="250.3" stroke="#333" stroke-width="1.25"/>
<line x1="393.46" y1="252.3" x2="393.46" y2="252.5" stroke="#333" stroke-width="1.25"/>
<rect x="388.31" y="250.3" width="10.3" height="2" fill="#1E6B6D" stroke="#333" stroke-width="1.25"/>
<line x1="388.31" y1="251.3" x2="398.61" y2="251.3" stroke="#333" stroke-width="2.4"/>
<line x1="424.41" y1="250.1" x2="424.41" y2="250.3" stroke="#333" stroke-width="1.25"/>
<line x1="424.41" y1="252.3" x2="424.41" y2="252.5" stroke="#333" stroke-width="1.25"/>
<rect x="419.26" y="250.3" width="10.3" height="2" fill="#814D4A" stroke="#333" stroke-width="1.25"/>
<line x1="419.26" y1="251.3" x2="429.56" y2="251.3" stroke="#333" stroke-width="2.4"/>
<line x1="445.05" y1="249.1" x2="445.05" y2="250.3" stroke="#333" stroke-width="1.25"/>
<line x1="445.05" y1="252.3" x2="445.05" y2="252.5" stroke="#333" stroke-width="1.25"/>
<rect x="439.9" y="250.3" width="10.3" height="2" fill="#1E6B6D" stroke="#333" stroke-width="1.25"/>
<line x1="439.9" y1="251.3" x2="450.2" y2="251.3" stroke="#333" stroke-width="2.4"/>
<line x1="476" y1="156.8" x2="476" y2="171.7" stroke="#333" stroke-width="1.25"/>
<line x1="476" y1="190.7" x2="476" y2="212.6" stroke="#333" stroke-width="1.25"/>
<rect x="470.85" y="171.7" width="10.3" height="19" fill="#F8766D" stroke="#333" stroke-width="1.25"/>
<line x1="470.85" y1="180.1" x2="481.15" y2="180.1" stroke="#333" stroke-width="2.4"/>
<circle cx="476" cy="218.8" r="1.5" fill="#333"/>
<circle cx="476" cy="220.2" r="1.5" fill="#333"/>
<circle cx="476" cy="222" r="1.5" fill="#333"/>
<line x1="496.64" y1="157.2" x2="496.64" y2="178.2" stroke="#333" stroke-width="1.25"/>
<line x1="496.64" y1="193.7" x2="496.64" y2="215.9" stroke="#333" stroke-width="1.25"/>
<rect x="491.49" y="178.2" width="10.3" height="15.5" fill="#00BFC4" stroke="#333" stroke-width="1.25"/>
<line x1="491.49" y1="184.5" x2="501.79" y2="184.5" stroke="#333" stroke-width="2.4"/>
<circle cx="496.64" cy="216.9" r="1.5" fill="#333"/>
<circle cx="496.64" cy="218.5" r="1.5" fill="#333"/>
<circle cx="496.64" cy="224.4" r="1.5" fill="#333"/>
<line x1="527.59" y1="242.9" x2="527.59" y2="246.3" stroke="#333" stroke-width="1.25"/>
<line x1="527.59" y1="249.8" x2="527.59" y2="251.5" stroke="#333" stroke-width="1.25"/>
<rect x="522.44" y="246.3" width="10.3" height="3.5" fill="#814D4A" stroke="#333" stroke-width="1.25"/>
<line x1="522.44" y1="248" x2="532.74" y2="248" stroke="#333" stroke-width="2.4"/>
<circle cx="527.59" cy="232.7" r="1.5" fill="#333"/>
<circle cx="527.59" cy="240.7" r="1.5" fill="#333"/>
<line x1="548.23" y1="242.2" x2="548.23" y2="245.4" stroke="#333" stroke-width="1.25"/>
<line x1="548.23" y1="249.8" x2="548.23" y2="251.5" stroke="#333" stroke-width="1.25"/>
<rect x="543.08" y="245.4" width="10.3" height="4.4" fill="#1E6B6D" stroke="#333" stroke-width="1.25"/>
<line x1="543.08" y1="247.6" x2="553.38" y2="247.6" stroke="#333" stroke-width="2.4"/>
<circle cx="548.23" cy="239.7" r="1.5" fill="#333"/>
<line x1="579.18" y1="245.5" x2="579.18" y2="248.1" stroke="#333" stroke-width="1.25"/>
<line x1="579.18" y1="251.3" x2="579.18" y2="252" stroke="#333" stroke-width="1.25"/>
<rect x="574.03" y="248.1" width="10.3" height="3.2" fill="#814D4A" stroke="#333" stroke-width="1.25"/>
<line x1="574.03" y1="249.7" x2="584.33" y2="249.7" stroke="#333" stroke-width="2.4"/>
<circle cx="579.18" cy="240.1" r="1.5" fill="#333"/>
<line x1="599.82" y1="245" x2="599.82" y2="247.2" stroke="#333" stroke-width="1.25"/>
<line x1="599.82" y1="251" x2="599.82" y2="252" stroke="#333" stroke-width="1.25"/>
<rect x="594.67" y="247.2" width="10.3" height="3.8" fill="#1E6B6D" stroke="#333" stroke-width="1.25"/>
<line x1="594.67" y1="249.1" x2="604.97" y2="249.1" stroke="#333" stroke-width="2.4"/>
<circle cx="599.82" cy="238.9" r="1.5" fill="#333"/>
<circle cx="599.82" cy="240.5" r="1.5" fill="#333"/>
<circle cx="599.82" cy="242.2" r="1.5" fill="#333"/>
<circle cx="599.82" cy="243.5" r="1.5" fill="#333"/>
<line x1="630.77" y1="247.2" x2="630.77" y2="248.8" stroke="#333" stroke-width="1.25"/>
<line x1="630.77" y1="251.3" x2="630.77" y2="252" stroke="#333" stroke-width="1.25"/>
<rect x="625.62" y="248.8" width="10.3" height="2.5" fill="#814D4A" stroke="#333" stroke-width="1.25"/>
<line x1="625.62" y1="250" x2="635.92" y2="250" stroke="#333" stroke-width="2.4"/>
<circle cx="630.77" cy="240.8" r="1.5" fill="#333"/>
<circle cx="630.77" cy="245.5" r="1.5" fill="#333"/>
<circle cx="630.77" cy="246.5" r="1.5" fill="#333"/>
<line x1="651.41" y1="245.5" x2="651.41" y2="248.4" stroke="#333" stroke-width="1.25"/>
<line x1="651.41" y1="251" x2="651.41" y2="252" stroke="#333" stroke-width="1.25"/>
<rect x="646.26" y="248.4" width="10.3" height="2.6" fill="#1E6B6D" stroke="#333" stroke-width="1.25"/>
<line x1="646.26" y1="249.7" x2="656.56" y2="249.7" stroke="#333" stroke-width="2.4"/>
<circle cx="651.41" cy="243.3" r="1.5" fill="#333"/>
<circle cx="651.41" cy="244.6" r="1.5" fill="#333"/>
<line x1="63.28" y1="360" x2="63.28" y2="360.6" stroke="#333" stroke-width="1.25"/>
<line x1="63.28" y1="363.1" x2="63.28" y2="363.5" stroke="#333" stroke-width="1.25"/>
<rect x="58.13" y="360.6" width="10.3" height="2.5" fill="#814D4A" stroke="#333" stroke-width="1.25"/>
<line x1="58.13" y1="361.9" x2="68.43" y2="361.9" stroke="#333" stroke-width="2.4"/>
<line x1="83.92" y1="359" x2="83.92" y2="359.9" stroke="#333" stroke-width="1.25"/>
<line x1="83.92" y1="362.8" x2="83.92" y2="363.5" stroke="#333" stroke-width="1.25"/>
<rect x="78.77" y="359.9" width="10.3" height="2.9" fill="#1E6B6D" stroke="#333" stroke-width="1.25"/>
<line x1="78.77" y1="361.4" x2="89.07" y2="361.4" stroke="#333" stroke-width="2.4"/>
<circle cx="83.92" cy="356.2" r="1.5" fill="#333"/>
<line x1="114.87" y1="356.2" x2="114.87" y2="359.1" stroke="#333" stroke-width="1.25"/>
<line x1="114.87" y1="363.5" x2="114.87" y2="363.8" stroke="#333" stroke-width="1.25"/>
<rect x="109.72" y="359.1" width="10.3" height="4.4" fill="#814D4A" stroke="#333" stroke-width="1.25"/>
<line x1="109.72" y1="361.3" x2="120.02" y2="361.3" stroke="#333" stroke-width="2.4"/>
<line x1="135.51" y1="359.5" x2="135.51" y2="360.6" stroke="#333" stroke-width="1.25"/>
<line x1="135.51" y1="363.1" x2="135.51" y2="363.5" stroke="#333" stroke-width="1.25"/>
<rect x="130.36" y="360.6" width="10.3" height="2.5" fill="#1E6B6D" stroke="#333" stroke-width="1.25"/>
<line x1="130.36" y1="361.8" x2="140.66" y2="361.8" stroke="#333" stroke-width="2.4"/>
<circle cx="135.51" cy="356.2" r="1.5" fill="#333"/>
<circle cx="135.51" cy="357.7" r="1.5" fill="#333"/>
<line x1="166.46" y1="357" x2="166.46" y2="358.8" stroke="#333" stroke-width="1.25"/>
<line x1="166.46" y1="362" x2="166.46" y2="363.1" stroke="#333" stroke-width="1.25"/>
<rect x="161.31" y="358.8" width="10.3" height="3.2" fill="#814D4A" stroke="#333" stroke-width="1.25"/>
<line x1="161.31" y1="360.4" x2="171.61" y2="360.4" stroke="#333" stroke-width="2.4"/>
<circle cx="166.46" cy="346.4" r="1.5" fill="#333"/>
<line x1="187.1" y1="355.2" x2="187.1" y2="356.9" stroke="#333" stroke-width="1.25"/>
<line x1="187.1" y1="360.6" x2="187.1" y2="362" stroke="#333" stroke-width="1.25"/>
<rect x="181.95" y="356.9" width="10.3" height="3.7" fill="#1E6B6D" stroke="#333" stroke-width="1.25"/>
<line x1="181.95" y1="358.7" x2="192.25" y2="358.7" stroke="#333" stroke-width="2.4"/>
<circle cx="187.1" cy="351.1" r="1.5" fill="#333"/>
<line x1="218.05" y1="358.4" x2="218.05" y2="361.3" stroke="#333" stroke-width="1.25"/>
<line x1="218.05" y1="363.9" x2="218.05" y2="364.2" stroke="#333" stroke-width="1.25"/>
<rect x="212.9" y="361.3" width="10.3" height="2.6" fill="#814D4A" stroke="#333" stroke-width="1.25"/>
<line x1="212.9" y1="362.6" x2="223.2" y2="362.6" stroke="#333" stroke-width="2.4"/>
<line x1="238.69" y1="358.1" x2="238.69" y2="360.1" stroke="#333" stroke-width="1.25"/>
<line x1="238.69" y1="363.5" x2="238.69" y2="364" stroke="#333" stroke-width="1.25"/>
<rect x="233.54" y="360.1" width="10.3" height="3.4" fill="#1E6B6D" stroke="#333" stroke-width="1.25"/>
<line x1="233.54" y1="361.8" x2="243.84" y2="361.8" stroke="#333" stroke-width="2.4"/>
<line x1="269.64" y1="354.3" x2="269.64" y2="355.9" stroke="#333" stroke-width="1.25"/>
<line x1="269.64" y1="361.3" x2="269.64" y2="363.5" stroke="#333" stroke-width="1.25"/>
<rect x="264.49" y="355.9" width="10.3" height="5.4" fill="#BA605A" stroke="#333" stroke-width="1.25"/>
<line x1="264.49" y1="358.2" x2="274.79" y2="358.2" stroke="#333" stroke-width="2.4"/>
<line x1="290.28" y1="349.6" x2="290.28" y2="351.1" stroke="#333" stroke-width="1.25"/>
<line x1="290.28" y1="356.5" x2="290.28" y2="360.1" stroke="#333" stroke-width="1.25"/>
<rect x="285.13" y="351.1" width="10.3" height="5.4" fill="#109296" stroke="#333" stroke-width="1.25"/>
<line x1="285.13" y1="354" x2="295.43" y2="354" stroke="#333" stroke-width="2.4"/>
<circle cx="290.28" cy="343.1" r="1.5" fill="#333"/>
<line x1="321.23" y1="358.4" x2="321.23" y2="359.6" stroke="#333" stroke-width="1.25"/>
<line x1="321.23" y1="363.1" x2="321.23" y2="363.6" stroke="#333" stroke-width="1.25"/>
<rect x="316.08" y="359.6" width="10.3" height="3.5" fill="#814D4A" stroke="#333" stroke-width="1.25"/>
<line x1="316.08" y1="361.3" x2="326.38" y2="361.3" stroke="#333" stroke-width="2.4"/>
<circle cx="321.23" cy="355" r="1.5" fill="#333"/>
<line x1="341.87" y1="358.1" x2="341.87" y2="359.1" stroke="#333" stroke-width="1.25"/>
<line x1="341.87" y1="362.8" x2="341.87" y2="363.5" stroke="#333" stroke-width="1.25"/>
<rect x="336.72" y="359.1" width="10.3" height="3.7" fill="#1E6B6D" stroke="#333" stroke-width="1.25"/>
<line x1="336.72" y1="360.9" x2="347.02" y2="360.9" stroke="#333" stroke-width="2.4"/>
<line x1="372.82" y1="361.6" x2="372.82" y2="361.8" stroke="#333" stroke-width="1.25"/>
<line x1="372.82" y1="363.8" x2="372.82" y2="364" stroke="#333" stroke-width="1.25"/>
<rect x="367.67" y="361.8" width="10.3" height="2" fill="#814D4A" stroke="#333" stroke-width="1.25"/>
<line x1="367.67" y1="362.8" x2="377.97" y2="362.8" stroke="#333" stroke-width="2.4"/>
<line x1="393.46" y1="361.6" x2="393.46" y2="361.8" stroke="#333" stroke-width="1.25"/>
<line x1="393.46" y1="363.8" x2="393.46" y2="364" stroke="#333" stroke-width="1.25"/>
<rect x="388.31" y="361.8" width="10.3" height="2" fill="#1E6B6D" stroke="#333" stroke-width="1.25"/>
<line x1="388.31" y1="362.8" x2="398.61" y2="362.8" stroke="#333" stroke-width="2.4"/>
<line x1="424.41" y1="361.6" x2="424.41" y2="361.8" stroke="#333" stroke-width="1.25"/>
<line x1="424.41" y1="363.8" x2="424.41" y2="364" stroke="#333" stroke-width="1.25"/>
<rect x="419.26" y="361.8" width="10.3" height="2" fill="#814D4A" stroke="#333" stroke-width="1.25"/>
<line x1="419.26" y1="362.8" x2="429.56" y2="362.8" stroke="#333" stroke-width="2.4"/>
<line x1="445.05" y1="361.6" x2="445.05" y2="361.8" stroke="#333" stroke-width="1.25"/>
<line x1="445.05" y1="363.8" x2="445.05" y2="364" stroke="#333" stroke-width="1.25"/>
<rect x="439.9" y="361.8" width="10.3" height="2" fill="#1E6B6D" stroke="#333" stroke-width="1.25"/>
<line x1="439.9" y1="362.8" x2="450.2" y2="362.8" stroke="#333" stroke-width="2.4"/>
<line x1="476" y1="277" x2="476" y2="284.3" stroke="#333" stroke-width="1.25"/>
<line x1="476" y1="299.2" x2="476" y2="312.5" stroke="#333" stroke-width="1.25"/>
<rect x="470.85" y="284.3" width="10.3" height="14.9" fill="#F8766D" stroke="#333" stroke-width="1.25"/>
<line x1="470.85" y1="292" x2="481.15" y2="292" stroke="#333" stroke-width="2.4"/>
<circle cx="476" cy="322.3" r="1.5" fill="#333"/>
<line x1="496.64" y1="286.5" x2="496.64" y2="301.5" stroke="#333" stroke-width="1.25"/>
<line x1="496.64" y1="314.2" x2="496.64" y2="319.3" stroke="#333" stroke-width="1.25"/>
<rect x="491.49" y="301.5" width="10.3" height="12.7" fill="#00BFC4" stroke="#333" stroke-width="1.25"/>
<line x1="491.49" y1="305.9" x2="501.79" y2="305.9" stroke="#333" stroke-width="2.4"/>
<line x1="527.59" y1="349.3" x2="527.59" y2="353.2" stroke="#333" stroke-width="1.25"/>
<line x1="527.59" y1="358" x2="527.59" y2="359.5" stroke="#333" stroke-width="1.25"/>
<rect x="522.44" y="353.2" width="10.3" height="4.8" fill="#985550" stroke="#333" stroke-width="1.25"/>
<line x1="522.44" y1="354.8" x2="532.74" y2="354.8" stroke="#333" stroke-width="2.4"/>
<line x1="548.23" y1="352.2" x2="548.23" y2="355.4" stroke="#333" stroke-width="1.25"/>
<line x1="548.23" y1="358" x2="548.23" y2="360.5" stroke="#333" stroke-width="1.25"/>
<rect x="543.08" y="355.4" width="10.3" height="2.6" fill="#1E6B6D" stroke="#333" stroke-width="1.25"/>
<line x1="543.08" y1="356.7" x2="553.38" y2="356.7" stroke="#333" stroke-width="2.4"/>
<circle cx="548.23" cy="361.7" r="1.5" fill="#333"/>
<line x1="579.18" y1="356.5" x2="579.18" y2="358.4" stroke="#333" stroke-width="1.25"/>
<line x1="579.18" y1="361.3" x2="579.18" y2="362.8" stroke="#333" stroke-width="1.25"/>
<rect x="574.03" y="358.4" width="10.3" height="2.9" fill="#814D4A" stroke="#333" stroke-width="1.25"/>
<line x1="574.03" y1="360" x2="584.33" y2="360" stroke="#333" stroke-width="2.4"/>
<circle cx="579.18" cy="354.7" r="1.5" fill="#333"/>
<line x1="599.82" y1="350.4" x2="599.82" y2="353.3" stroke="#333" stroke-width="1.25"/>
<line x1="599.82" y1="357.4" x2="599.82" y2="360.1" stroke="#333" stroke-width="1.25"/>
<rect x="594.67" y="353.3" width="10.3" height="4.1" fill="#1E6B6D" stroke="#333" stroke-width="1.25"/>
<line x1="594.67" y1="355.5" x2="604.97" y2="355.5" stroke="#333" stroke-width="2.4"/>
<circle cx="599.82" cy="338.7" r="1.5" fill="#333"/>
<line x1="630.77" y1="360" x2="630.77" y2="360.6" stroke="#333" stroke-width="1.25"/>
<line x1="630.77" y1="363.1" x2="630.77" y2="363.5" stroke="#333" stroke-width="1.25"/>
<rect x="625.62" y="360.6" width="10.3" height="2.5" fill="#814D4A" stroke="#333" stroke-width="1.25"/>
<line x1="625.62" y1="361.9" x2="635.92" y2="361.9" stroke="#333" stroke-width="2.4"/>
<line x1="651.41" y1="360" x2="651.41" y2="360.6" stroke="#333" stroke-width="1.25"/>
<line x1="651.41" y1="363.1" x2="651.41" y2="363.5" stroke="#333" stroke-width="1.25"/>
<rect x="646.26" y="360.6" width="10.3" height="2.5" fill="#1E6B6D" stroke="#333" stroke-width="1.25"/>
<line x1="646.26" y1="361.9" x2="656.56" y2="361.9" stroke="#333" stroke-width="2.4"/>
<path d="M63.28 99.6V96.6H83.92V99.6" fill="none" stroke="#000" stroke-width="1"/>
<text x="73.6" y="95.6" font-size="10.4" fill="#000" text-anchor="middle">0.66</text>
<path d="M114.87 99.6V96.6H135.51V99.6" fill="none" stroke="#000" stroke-width="1"/>
<text x="125.19" y="95.6" font-size="10.4" fill="#000" text-anchor="middle">0.66</text>
<path d="M166.46 99.6V96.6H187.1V99.6" fill="none" stroke="#000" stroke-width="1"/>
<text x="176.78" y="95.6" font-size="10.4" fill="#000" text-anchor="middle">0.064</text>
<path d="M218.05 99.6V96.6H238.69V99.6" fill="none" stroke="#000" stroke-width="1"/>
<text x="228.37" y="95.6" font-size="10.4" fill="#000" text-anchor="middle">0.41</text>
<path d="M269.64 99.6V96.6H290.28V99.6" fill="none" stroke="#000" stroke-width="1"/>
<text x="279.96" y="95.6" font-size="10.4" fill="#000" text-anchor="middle">0.083</text>
<path d="M321.23 99.6V96.6H341.87V99.6" fill="none" stroke="#000" stroke-width="1"/>
<text x="331.55" y="95.6" font-size="10.4" fill="#000" text-anchor="middle">0.17</text>
<path d="M372.82 99.6V96.6H393.46V99.6" fill="none" stroke="#000" stroke-width="1"/>
<text x="383.14" y="95.6" font-size="10.4" fill="#000" text-anchor="middle" font-weight="bold">0.047</text>
<path d="M424.41 99.6V96.6H445.05V99.6" fill="none" stroke="#000" stroke-width="1"/>
<text x="434.73" y="95.6" font-size="10.4" fill="#000" text-anchor="middle">0.2</text>
<path d="M476 99.6V96.6H496.64V99.6" fill="none" stroke="#000" stroke-width="1"/>
<text x="486.32" y="95.6" font-size="10.4" fill="#000" text-anchor="middle">0.5</text>
<path d="M527.59 99.6V96.6H548.23V99.6" fill="none" stroke="#000" stroke-width="1"/>
<text x="537.91" y="95.6" font-size="10.4" fill="#000" text-anchor="middle" font-weight="bold">0.025</text>
<path d="M579.18 99.6V96.6H599.82V99.6" fill="none" stroke="#000" stroke-width="1"/>
<text x="589.5" y="95.6" font-size="10.4" fill="#000" text-anchor="middle" font-weight="bold">0.0015</text>
<path d="M630.77 99.6V96.6H651.41V99.6" fill="none" stroke="#000" stroke-width="1"/>
<text x="641.09" y="95.6" font-size="10.4" fill="#000" text-anchor="middle">0.89</text>
<path d="M63.28 211.2V208.2H83.92V211.2" fill="none" stroke="#000" stroke-width="1"/>
<text x="73.6" y="207.2" font-size="10.4" fill="#000" text-anchor="middle" font-weight="bold">0.0026</text>
<path d="M114.87 211.2V208.2H135.51V211.2" fill="none" stroke="#000" stroke-width="1"/>
<text x="125.19" y="207.2" font-size="10.4" fill="#000" text-anchor="middle">0.1</text>
<path d="M166.46 211.2V208.2H187.1V211.2" fill="none" stroke="#000" stroke-width="1"/>
<text x="176.78" y="207.2" font-size="10.4" fill="#000" text-anchor="middle" font-weight="bold">0.00033</text>
<path d="M218.05 211.2V208.2H238.69V211.2" fill="none" stroke="#000" stroke-width="1"/>
<text x="228.37" y="207.2" font-size="10.4" fill="#000" text-anchor="middle">0.15</text>
<path d="M269.64 211.2V208.2H290.28V211.2" fill="none" stroke="#000" stroke-width="1"/>
<text x="279.96" y="207.2" font-size="10.4" fill="#000" text-anchor="middle" font-weight="bold">0.033</text>
<path d="M321.23 211.2V208.2H341.87V211.2" fill="none" stroke="#000" stroke-width="1"/>
<text x="331.55" y="207.2" font-size="10.4" fill="#000" text-anchor="middle">0.9</text>
<path d="M372.82 211.2V208.2H393.46V211.2" fill="none" stroke="#000" stroke-width="1"/>
<text x="383.14" y="207.2" font-size="10.4" fill="#000" text-anchor="middle">0.13</text>
<path d="M424.41 211.2V208.2H445.05V211.2" fill="none" stroke="#000" stroke-width="1"/>
<text x="434.73" y="207.2" font-size="10.4" fill="#000" text-anchor="middle" font-weight="bold">0.026</text>
<path d="M476 155.4V152.4H496.64V155.4" fill="none" stroke="#000" stroke-width="1"/>
<text x="486.32" y="151.4" font-size="10.4" fill="#000" text-anchor="middle" font-weight="bold">0.0023</text>
<path d="M527.59 211.2V208.2H548.23V211.2" fill="none" stroke="#000" stroke-width="1"/>
<text x="537.91" y="207.2" font-size="10.4" fill="#000" text-anchor="middle">0.45</text>
<path d="M579.18 211.2V208.2H599.82V211.2" fill="none" stroke="#000" stroke-width="1"/>
<text x="589.5" y="207.2" font-size="10.4" fill="#000" text-anchor="middle" font-weight="bold">0.014</text>
<path d="M630.77 211.2V208.2H651.41V211.2" fill="none" stroke="#000" stroke-width="1"/>
<text x="641.09" y="207.2" font-size="10.4" fill="#000" text-anchor="middle" font-weight="bold">0.0012</text>
<path d="M63.28 323.1V320.1H83.92V323.1" fill="none" stroke="#000" stroke-width="1"/>
<text x="73.6" y="319.1" font-size="10.4" fill="#000" text-anchor="middle">0.16</text>
<path d="M114.87 323.1V320.1H135.51V323.1" fill="none" stroke="#000" stroke-width="1"/>
<text x="125.19" y="319.1" font-size="10.4" fill="#000" text-anchor="middle">0.64</text>
<path d="M166.46 323.1V320.1H187.1V323.1" fill="none" stroke="#000" stroke-width="1"/>
<text x="176.78" y="319.1" font-size="10.4" fill="#000" text-anchor="middle" font-weight="bold">0.034</text>
<path d="M218.05 323.1V320.1H238.69V323.1" fill="none" stroke="#000" stroke-width="1"/>
<text x="228.37" y="319.1" font-size="10.4" fill="#000" text-anchor="middle">0.091</text>
<path d="M269.64 323.1V320.1H290.28V323.1" fill="none" stroke="#000" stroke-width="1"/>
<text x="279.96" y="319.1" font-size="10.4" fill="#000" text-anchor="middle" font-weight="bold">0.00062</text>
<path d="M321.23 323.1V320.1H341.87V323.1" fill="none" stroke="#000" stroke-width="1"/>
<text x="331.55" y="319.1" font-size="10.4" fill="#000" text-anchor="middle">0.53</text>
<path d="M372.82 323.1V320.1H393.46V323.1" fill="none" stroke="#000" stroke-width="1"/>
<text x="383.14" y="319.1" font-size="10.4" fill="#000" text-anchor="middle" font-weight="bold">0.00027</text>
<path d="M424.41 323.1V320.1H445.05V323.1" fill="none" stroke="#000" stroke-width="1"/>
<text x="434.73" y="319.1" font-size="10.4" fill="#000" text-anchor="middle">0.08</text>
<path d="M476 272.7V269.7H496.64V272.7" fill="none" stroke="#000" stroke-width="1"/>
<text x="486.32" y="268.7" font-size="10.4" fill="#000" text-anchor="middle" font-weight="bold">0.0049</text>
<path d="M527.59 323.1V320.1H548.23V323.1" fill="none" stroke="#000" stroke-width="1"/>
<text x="537.91" y="319.1" font-size="10.4" fill="#000" text-anchor="middle">0.16</text>
<path d="M579.18 323.1V320.1H599.82V323.1" fill="none" stroke="#000" stroke-width="1"/>
<text x="589.5" y="319.1" font-size="10.4" fill="#000" text-anchor="middle" font-weight="bold">6.7e−05</text>
<path d="M630.77 323.1V320.1H651.41V323.1" fill="none" stroke="#000" stroke-width="1"/>
<text x="641.09" y="319.1" font-size="10.4" fill="#000" text-anchor="middle">0.83</text>
<line x1="49.9" y1="0" x2="49.9" y2="16.5" stroke="#333" stroke-width="1.1"/>
<rect x="42.1" y="3.1" width="15.7" height="10.7" fill="#F8766D" stroke="#333" stroke-width="1.1"/>
<line x1="42.1" y1="8.6" x2="57.8" y2="8.6" stroke="#333" stroke-width="1.1"/>
<text x="66.5" y="12.5" font-size="10.4" fill="#000" text-anchor="start">Case</text>
<line x1="115.1" y1="0" x2="115.1" y2="16.5" stroke="#333" stroke-width="1.1"/>
<rect x="107.3" y="3.1" width="15.7" height="10.7" fill="#00BFC4" stroke="#333" stroke-width="1.1"/>
<line x1="107.3" y1="8.6" x2="123" y2="8.6" stroke="#333" stroke-width="1.1"/>
<text x="131.8" y="12.5" font-size="10.4" fill="#000" text-anchor="start">Control</text>
<line x1="47.1" y1="533.4" x2="50.5" y2="533.4" stroke="#333" stroke-width="1.07"/>
<text x="44.3" y="537.1" font-size="10.3" fill="#4D4D4D" text-anchor="end">0</text>
<line x1="47.1" y1="485.75" x2="50.5" y2="485.75" stroke="#333" stroke-width="1.07"/>
<text x="44.3" y="489.45" font-size="10.3" fill="#4D4D4D" text-anchor="end">0.5</text>
<line x1="47.1" y1="438.1" x2="50.5" y2="438.1" stroke="#333" stroke-width="1.07"/>
<text x="44.3" y="441.8" font-size="10.3" fill="#4D4D4D" text-anchor="end">1</text>
<line x1="47.1" y1="644.85" x2="50.5" y2="644.85" stroke="#333" stroke-width="1.07"/>
<text x="44.3" y="648.55" font-size="10.3" fill="#4D4D4D" text-anchor="end">0</text>
<line x1="47.1" y1="597.2" x2="50.5" y2="597.2" stroke="#333" stroke-width="1.07"/>
<text x="44.3" y="600.9" font-size="10.3" fill="#4D4D4D" text-anchor="end">0.5</text>
<line x1="47.1" y1="549.55" x2="50.5" y2="549.55" stroke="#333" stroke-width="1.07"/>
<text x="44.3" y="553.25" font-size="10.3" fill="#4D4D4D" text-anchor="end">1</text>
<line x1="47.1" y1="756.3" x2="50.5" y2="756.3" stroke="#333" stroke-width="1.07"/>
<text x="44.3" y="760" font-size="10.3" fill="#4D4D4D" text-anchor="end">0</text>
<line x1="47.1" y1="708.65" x2="50.5" y2="708.65" stroke="#333" stroke-width="1.07"/>
<text x="44.3" y="712.35" font-size="10.3" fill="#4D4D4D" text-anchor="end">0.5</text>
<line x1="47.1" y1="661" x2="50.5" y2="661" stroke="#333" stroke-width="1.07"/>
<text x="44.3" y="664.7" font-size="10.3" fill="#4D4D4D" text-anchor="end">1</text>
<line x1="53.8" y1="760.4" x2="53.8" y2="763.8" stroke="#333" stroke-width="1.07"/>
<text x="53.8" y="775" font-size="10.3" fill="#4D4D4D" text-anchor="middle">0</text>
<line x1="85.75" y1="760.4" x2="85.75" y2="763.8" stroke="#333" stroke-width="1.07"/>
<text x="85.75" y="775" font-size="10.3" fill="#4D4D4D" text-anchor="middle">0.5</text>
<line x1="117.7" y1="760.4" x2="117.7" y2="763.8" stroke="#333" stroke-width="1.07"/>
<text x="117.7" y="775" font-size="10.3" fill="#4D4D4D" text-anchor="middle">1</text>
<line x1="131.23" y1="760.4" x2="131.23" y2="763.8" stroke="#333" stroke-width="1.07"/>
<text x="131.23" y="775" font-size="10.3" fill="#4D4D4D" text-anchor="middle">0</text>
<line x1="163.18" y1="760.4" x2="163.18" y2="763.8" stroke="#333" stroke-width="1.07"/>
<text x="163.18" y="775" font-size="10.3" fill="#4D4D4D" text-anchor="middle">0.5</text>
<line x1="195.13" y1="760.4" x2="195.13" y2="763.8" stroke="#333" stroke-width="1.07"/>
<text x="195.13" y="775" font-size="10.3" fill="#4D4D4D" text-anchor="middle">1</text>
<line x1="208.66" y1="760.4" x2="208.66" y2="763.8" stroke="#333" stroke-width="1.07"/>
<text x="208.66" y="775" font-size="10.3" fill="#4D4D4D" text-anchor="middle">0</text>
<line x1="240.61" y1="760.4" x2="240.61" y2="763.8" stroke="#333" stroke-width="1.07"/>
<text x="240.61" y="775" font-size="10.3" fill="#4D4D4D" text-anchor="middle">0.5</text>
<line x1="272.56" y1="760.4" x2="272.56" y2="763.8" stroke="#333" stroke-width="1.07"/>
<text x="272.56" y="775" font-size="10.3" fill="#4D4D4D" text-anchor="middle">1</text>
<line x1="286.09" y1="760.4" x2="286.09" y2="763.8" stroke="#333" stroke-width="1.07"/>
<text x="286.09" y="775" font-size="10.3" fill="#4D4D4D" text-anchor="middle">0</text>
<line x1="318.04" y1="760.4" x2="318.04" y2="763.8" stroke="#333" stroke-width="1.07"/>
<text x="318.04" y="775" font-size="10.3" fill="#4D4D4D" text-anchor="middle">0.5</text>
<line x1="349.99" y1="760.4" x2="349.99" y2="763.8" stroke="#333" stroke-width="1.07"/>
<text x="349.99" y="775" font-size="10.3" fill="#4D4D4D" text-anchor="middle">1</text>
<line x1="363.52" y1="760.4" x2="363.52" y2="763.8" stroke="#333" stroke-width="1.07"/>
<text x="363.52" y="775" font-size="10.3" fill="#4D4D4D" text-anchor="middle">0</text>
<line x1="395.47" y1="760.4" x2="395.47" y2="763.8" stroke="#333" stroke-width="1.07"/>
<text x="395.47" y="775" font-size="10.3" fill="#4D4D4D" text-anchor="middle">0.5</text>
<line x1="427.42" y1="760.4" x2="427.42" y2="763.8" stroke="#333" stroke-width="1.07"/>
<text x="427.42" y="775" font-size="10.3" fill="#4D4D4D" text-anchor="middle">1</text>
<line x1="440.95" y1="760.4" x2="440.95" y2="763.8" stroke="#333" stroke-width="1.07"/>
<text x="440.95" y="775" font-size="10.3" fill="#4D4D4D" text-anchor="middle">0</text>
<line x1="472.9" y1="760.4" x2="472.9" y2="763.8" stroke="#333" stroke-width="1.07"/>
<text x="472.9" y="775" font-size="10.3" fill="#4D4D4D" text-anchor="middle">0.5</text>
<line x1="504.85" y1="760.4" x2="504.85" y2="763.8" stroke="#333" stroke-width="1.07"/>
<text x="504.85" y="775" font-size="10.3" fill="#4D4D4D" text-anchor="middle">1</text>
<line x1="518.38" y1="760.4" x2="518.38" y2="763.8" stroke="#333" stroke-width="1.07"/>
<text x="518.38" y="775" font-size="10.3" fill="#4D4D4D" text-anchor="middle">0</text>
<line x1="550.33" y1="760.4" x2="550.33" y2="763.8" stroke="#333" stroke-width="1.07"/>
<text x="550.33" y="775" font-size="10.3" fill="#4D4D4D" text-anchor="middle">0.5</text>
<line x1="582.28" y1="760.4" x2="582.28" y2="763.8" stroke="#333" stroke-width="1.07"/>
<text x="582.28" y="775" font-size="10.3" fill="#4D4D4D" text-anchor="middle">1</text>
<line x1="595.81" y1="760.4" x2="595.81" y2="763.8" stroke="#333" stroke-width="1.07"/>
<text x="595.81" y="775" font-size="10.3" fill="#4D4D4D" text-anchor="middle">0</text>
<line x1="627.76" y1="760.4" x2="627.76" y2="763.8" stroke="#333" stroke-width="1.07"/>
<text x="627.76" y="775" font-size="10.3" fill="#4D4D4D" text-anchor="middle">0.5</text>
<line x1="659.71" y1="760.4" x2="659.71" y2="763.8" stroke="#333" stroke-width="1.07"/>
<text x="659.71" y="775" font-size="10.3" fill="#4D4D4D" text-anchor="middle">1</text>
<text x="85.75" y="426.8" font-size="9.5" fill="#1A1A1A" text-anchor="middle">cg09821790</text>
<text x="163.18" y="426.8" font-size="9.5" fill="#1A1A1A" text-anchor="middle">cg11754974</text>
<text x="240.61" y="426.8" font-size="9.5" fill="#1A1A1A" text-anchor="middle">cg13828440</text>
<text x="318.04" y="426.8" font-size="9.5" fill="#1A1A1A" text-anchor="middle">cg14507403</text>
<text x="395.47" y="426.8" font-size="9.5" fill="#1A1A1A" text-anchor="middle">cg15694422</text>
<text x="472.9" y="426.8" font-size="9.5" fill="#1A1A1A" text-anchor="middle">cg16652347</text>
<text x="550.33" y="426.8" font-size="9.5" fill="#1A1A1A" text-anchor="middle">cg18637238</text>
<text x="627.76" y="426.8" font-size="9.5" fill="#1A1A1A" text-anchor="middle">cg27527887</text>
<text x="669.1" y="485.55" font-size="11.95" fill="#1A1A1A" text-anchor="middle" transform="rotate(90 669.1 485.55)">WANG; BC</text>
<text x="669.1" y="597" font-size="11.95" fill="#1A1A1A" text-anchor="middle" transform="rotate(90 669.1 597)">FORECEE; BC</text>
<text x="669.1" y="708.45" font-size="11.95" fill="#1A1A1A" text-anchor="middle" transform="rotate(90 669.1 708.45)">GSE117929; SSc</text>
<text x="356.9" y="789.7" font-size="13" fill="#000" text-anchor="middle">Granulocyte proportion (Neutrophils+Eosinophils+Basophils)</text>
<text x="18.3" y="597.1" font-size="12.8" fill="#000" text-anchor="middle" transform="rotate(-90 18.3 597.1)">. value</text>
<text x="-0.5" y="412.1" font-size="17" fill="#000" text-anchor="start">b</text>
<line x1="42.3" y1="402.6" x2="59.1" y2="402.6" stroke="#F8766D" stroke-width="2.1"/>
<text x="67.2" y="406.7" font-size="10.6" fill="#000" text-anchor="start">Case</text>
<line x1="99.3" y1="402.6" x2="116.1" y2="402.6" stroke="#00BFC4" stroke-width="2.1"/>
<text x="124.4" y="406.7" font-size="10.6" fill="#000" text-anchor="start">Control</text>
<circle class="r" cx="76.58" cy="517.4" r="1.5"/>
<circle class="r" cx="58.12" cy="512.87" r="1.5"/>
<circle class="r" cx="62.18" cy="500.64" r="1.5"/>
<circle class="r" cx="63.37" cy="508.77" r="1.5"/>
<circle class="t" cx="62.83" cy="485.97" r="1.5"/>
<circle class="t" cx="58.89" cy="488.6" r="1.5"/>
<circle class="t" cx="71.65" cy="519.06" r="1.5"/>
<circle class="t" cx="62.55" cy="518.2" r="1.5"/>
<circle class="r" cx="69.48" cy="522.84" r="1.5"/>
<circle class="r" cx="59.71" cy="522.35" r="1.5"/>
<circle class="r" cx="73.36" cy="512.5" r="1.5"/>
<circle class="t" cx="67.3" cy="511.66" r="1.5"/>
<circle class="t" cx="61.44" cy="523.61" r="1.5"/>
<circle class="t" cx="60.91" cy="520.52" r="1.5"/>
<circle class="r" cx="59.2" cy="506.5" r="1.5"/>
<circle class="t" cx="72.44" cy="494.45" r="1.5"/>
<circle class="r" cx="60.09" cy="514.22" r="1.5"/>
<circle class="t" cx="63.04" cy="518.61" r="1.5"/>
<circle class="r" cx="59.5" cy="519.11" r="1.5"/>
<circle class="t" cx="60.15" cy="483.61" r="1.5"/>
<circle class="r" cx="62.41" cy="516.56" r="1.5"/>
<circle class="r" cx="61.46" cy="510.7" r="1.5"/>
<circle class="r" cx="69" cy="515.53" r="1.5"/>
<circle class="r" cx="60.13" cy="516" r="1.5"/>
<circle class="t" cx="68.01" cy="491.46" r="1.5"/>
<circle class="t" cx="60.91" cy="498.67" r="1.5"/>
<circle class="t" cx="60.87" cy="495.73" r="1.5"/>
<circle class="t" cx="67.15" cy="494.5" r="1.5"/>
<circle class="r" cx="70.23" cy="518.32" r="1.5"/>
<circle class="t" cx="67.8" cy="503.8" r="1.5"/>
<circle class="t" cx="60.08" cy="500.29" r="1.5"/>
<circle class="t" cx="59.01" cy="520.14" r="1.5"/>
<circle class="t" cx="60.22" cy="495.51" r="1.5"/>
<circle class="r" cx="59.84" cy="510.78" r="1.5"/>
<circle class="r" cx="58.01" cy="523.45" r="1.5"/>
<circle class="r" cx="71.94" cy="519.55" r="1.5"/>
<circle class="r" cx="63.72" cy="513.14" r="1.5"/>
<circle class="r" cx="77.8" cy="532.45" r="1.5"/>
<circle class="t" cx="62.62" cy="493.38" r="1.5"/>
<circle class="t" cx="60.44" cy="523.12" r="1.5"/>
<circle class="t" cx="65.5" cy="516.2" r="1.5"/>
<circle class="r" cx="62.63" cy="511.7" r="1.5"/>
<circle class="r" cx="59.95" cy="519.65" r="1.5"/>
<circle class="r" cx="59.99" cy="510.71" r="1.5"/>
<circle class="r" cx="75.54" cy="532.45" r="1.5"/>
<circle class="r" cx="66.03" cy="509.18" r="1.5"/>
<circle class="r" cx="63.41" cy="506.14" r="1.5"/>
<circle class="t" cx="65.14" cy="485.52" r="1.5"/>
<circle class="t" cx="63.5" cy="494.07" r="1.5"/>
<circle class="r" cx="66.1" cy="508.59" r="1.5"/>
<circle class="r" cx="62.15" cy="504.21" r="1.5"/>
<circle class="r" cx="65.86" cy="508.93" r="1.5"/>
<circle class="r" cx="73.82" cy="513.72" r="1.5"/>
<circle class="r" cx="77.14" cy="521.98" r="1.5"/>
<circle class="t" cx="60.75" cy="496.3" r="1.5"/>
<circle class="r" cx="58.33" cy="504.22" r="1.5"/>
<circle class="t" cx="63.36" cy="517.98" r="1.5"/>
<circle class="r" cx="59.27" cy="507.99" r="1.5"/>
<circle class="r" cx="63.45" cy="511.22" r="1.5"/>
<circle class="t" cx="69.17" cy="517.31" r="1.5"/>
<circle class="r" cx="64.93" cy="518.81" r="1.5"/>
<circle class="r" cx="77.79" cy="510.32" r="1.5"/>
<line x1="58.91" y1="509.29" x2="78.4" y2="522.92" stroke="#F8766D" stroke-width="2.6" stroke-linecap="butt"/>
<line x1="58.91" y1="503.86" x2="72.97" y2="503.86" stroke="#00BFC4" stroke-width="2.6" stroke-linecap="butt"/>
<circle class="r" cx="136.93" cy="464.32" r="1.5"/>
<circle class="t" cx="149.87" cy="457.63" r="1.5"/>
<circle class="r" cx="139.61" cy="464.9" r="1.5"/>
<circle class="r" cx="147.66" cy="458.63" r="1.5"/>
<circle class="r" cx="142.36" cy="460.42" r="1.5"/>
<circle class="t" cx="140.26" cy="475.06" r="1.5"/>
<circle class="t" cx="145.23" cy="464.57" r="1.5"/>
<circle class="r" cx="137.56" cy="469.24" r="1.5"/>
<circle class="r" cx="152.97" cy="452.18" r="1.5"/>
<circle class="r" cx="136.7" cy="465.94" r="1.5"/>
<circle class="t" cx="138.34" cy="471.2" r="1.5"/>
<circle class="t" cx="145.44" cy="464" r="1.5"/>
<circle class="r" cx="137.14" cy="465.71" r="1.5"/>
<circle class="t" cx="138.18" cy="479.18" r="1.5"/>
<circle class="t" cx="136.44" cy="479.5" r="1.5"/>
<circle class="r" cx="149.37" cy="448.57" r="1.5"/>
<circle class="r" cx="151.25" cy="450.12" r="1.5"/>
<circle class="r" cx="140.06" cy="468.83" r="1.5"/>
<circle class="r" cx="139.84" cy="474.92" r="1.5"/>
<circle class="r" cx="154.57" cy="442.88" r="1.5"/>
<circle class="r" cx="155.22" cy="456.73" r="1.5"/>
<circle class="r" cx="140.84" cy="465.69" r="1.5"/>
<circle class="r" cx="146.43" cy="443.56" r="1.5"/>
<circle class="t" cx="140.05" cy="478.51" r="1.5"/>
<circle class="t" cx="142.57" cy="479.63" r="1.5"/>
<circle class="r" cx="150.79" cy="455" r="1.5"/>
<circle class="t" cx="138.3" cy="470.24" r="1.5"/>
<circle class="t" cx="138.34" cy="478.28" r="1.5"/>
<circle class="t" cx="137.51" cy="473.52" r="1.5"/>
<circle class="t" cx="140.93" cy="468.68" r="1.5"/>
<circle class="t" cx="136.32" cy="473.43" r="1.5"/>
<circle class="r" cx="135.76" cy="455.23" r="1.5"/>
<circle class="t" cx="149.08" cy="458.68" r="1.5"/>
<circle class="r" cx="137.38" cy="470.11" r="1.5"/>
<circle class="r" cx="138.89" cy="460.05" r="1.5"/>
<circle class="t" cx="146.6" cy="463.04" r="1.5"/>
<circle class="t" cx="137.58" cy="470.95" r="1.5"/>
<circle class="t" cx="138.87" cy="481.38" r="1.5"/>
<circle class="t" cx="137.65" cy="479.96" r="1.5"/>
<circle class="t" cx="140.79" cy="472.97" r="1.5"/>
<circle class="r" cx="137.52" cy="470.81" r="1.5"/>
<circle class="r" cx="137.42" cy="468.5" r="1.5"/>
<circle class="t" cx="137.87" cy="467.79" r="1.5"/>
<circle class="r" cx="135.44" cy="469.03" r="1.5"/>
<circle class="t" cx="142.93" cy="459.53" r="1.5"/>
<circle class="t" cx="139.98" cy="463.31" r="1.5"/>
<circle class="r" cx="140.88" cy="470.1" r="1.5"/>
<circle class="t" cx="144.73" cy="466.57" r="1.5"/>
<circle class="r" cx="155.23" cy="452.56" r="1.5"/>
<circle class="t" cx="144.58" cy="457.55" r="1.5"/>
<circle class="r" cx="143.29" cy="455.83" r="1.5"/>
<circle class="r" cx="143.53" cy="485.57" r="1.5"/>
<circle class="r" cx="154.01" cy="449.12" r="1.5"/>
<circle class="r" cx="139.58" cy="467.88" r="1.5"/>
<circle class="r" cx="143.46" cy="449.08" r="1.5"/>
<circle class="r" cx="137.27" cy="467.43" r="1.5"/>
<circle class="r" cx="141.15" cy="463.89" r="1.5"/>
<circle class="r" cx="135.55" cy="465.6" r="1.5"/>
<circle class="r" cx="146.91" cy="459.92" r="1.5"/>
<circle class="r" cx="140.8" cy="472.58" r="1.5"/>
<circle class="t" cx="140.47" cy="472.55" r="1.5"/>
<circle class="r" cx="136.63" cy="463.46" r="1.5"/>
<line x1="136.34" y1="467.17" x2="155.51" y2="448.58" stroke="#F8766D" stroke-width="2.6" stroke-linecap="butt"/>
<line x1="136.34" y1="476.22" x2="149.76" y2="455.73" stroke="#00BFC4" stroke-width="2.6" stroke-linecap="butt"/>
<circle class="r" cx="232" cy="447.81" r="1.5"/>
<circle class="t" cx="217.9" cy="466.54" r="1.5"/>
<circle class="t" cx="216.3" cy="461.99" r="1.5"/>
<circle class="r" cx="214.57" cy="455.46" r="1.5"/>
<circle class="r" cx="228.68" cy="458.43" r="1.5"/>
<circle class="r" cx="213.19" cy="469.29" r="1.5"/>
<circle class="r" cx="212.87" cy="466.78" r="1.5"/>
<circle class="r" cx="218.58" cy="454.71" r="1.5"/>
<circle class="r" cx="218.27" cy="461.78" r="1.5"/>
<circle class="t" cx="217.69" cy="469.98" r="1.5"/>
<circle class="r" cx="232.65" cy="452.64" r="1.5"/>
<circle class="t" cx="227.3" cy="447.62" r="1.5"/>
<circle class="r" cx="219.79" cy="450.27" r="1.5"/>
<circle class="r" cx="218.31" cy="459.86" r="1.5"/>
<circle class="r" cx="220.72" cy="448.88" r="1.5"/>
<circle class="r" cx="214.06" cy="467.98" r="1.5"/>
<circle class="t" cx="213.75" cy="465.69" r="1.5"/>
<circle class="t" cx="215.01" cy="470.67" r="1.5"/>
<circle class="r" cx="217.49" cy="468.41" r="1.5"/>
<circle class="t" cx="224.03" cy="452.62" r="1.5"/>
<circle class="t" cx="220" cy="459.74" r="1.5"/>
<circle class="r" cx="225.09" cy="456.16" r="1.5"/>
<circle class="r" cx="214.81" cy="466.25" r="1.5"/>
<circle class="r" cx="218.23" cy="463.95" r="1.5"/>
<circle class="r" cx="232.66" cy="450.71" r="1.5"/>
<circle class="t" cx="213.87" cy="477.06" r="1.5"/>
<circle class="t" cx="218.22" cy="464.99" r="1.5"/>
<circle class="r" cx="216.32" cy="456.23" r="1.5"/>
<circle class="r" cx="228.22" cy="451.32" r="1.5"/>
<circle class="t" cx="218.36" cy="454.81" r="1.5"/>
<circle class="t" cx="222.01" cy="454.55" r="1.5"/>
<circle class="t" cx="217.41" cy="468.76" r="1.5"/>
<circle class="r" cx="214.99" cy="460.83" r="1.5"/>
<circle class="r" cx="217.01" cy="467.38" r="1.5"/>
<circle class="r" cx="217.27" cy="462.07" r="1.5"/>
<circle class="t" cx="226.51" cy="454.3" r="1.5"/>
<circle class="r" cx="214.85" cy="456.67" r="1.5"/>
<circle class="t" cx="222.66" cy="456.31" r="1.5"/>
<circle class="t" cx="220.36" cy="479.14" r="1.5"/>
<circle class="r" cx="224.34" cy="450.99" r="1.5"/>
<circle class="t" cx="215.77" cy="472.22" r="1.5"/>
<circle class="r" cx="214.95" cy="458.12" r="1.5"/>
<circle class="t" cx="215.77" cy="470.68" r="1.5"/>
<circle class="r" cx="214.7" cy="462.58" r="1.5"/>
<circle class="t" cx="222.87" cy="467.06" r="1.5"/>
<circle class="r" cx="220.89" cy="456.92" r="1.5"/>
<circle class="r" cx="220.96" cy="459.91" r="1.5"/>
<circle class="r" cx="212.98" cy="458" r="1.5"/>
<circle class="r" cx="223.86" cy="468.95" r="1.5"/>
<circle class="r" cx="231.44" cy="454.01" r="1.5"/>
<circle class="t" cx="217.48" cy="473.87" r="1.5"/>
<circle class="r" cx="217.04" cy="460.97" r="1.5"/>
<circle class="t" cx="222.16" cy="465.29" r="1.5"/>
<circle class="r" cx="214.13" cy="461.18" r="1.5"/>
<circle class="t" cx="215.73" cy="467.94" r="1.5"/>
<circle class="t" cx="214.94" cy="464.54" r="1.5"/>
<circle class="r" cx="214.36" cy="462.34" r="1.5"/>
<circle class="r" cx="230.4" cy="443.51" r="1.5"/>
<circle class="t" cx="215.08" cy="477.91" r="1.5"/>
<circle class="t" cx="215.61" cy="466.71" r="1.5"/>
<circle class="r" cx="226.8" cy="446.38" r="1.5"/>
<circle class="t" cx="215.3" cy="464.84" r="1.5"/>
<line x1="213.01" y1="462.59" x2="232.94" y2="450.77" stroke="#F8766D" stroke-width="2.6" stroke-linecap="butt"/>
<line x1="214.09" y1="469.36" x2="227.19" y2="458.49" stroke="#00BFC4" stroke-width="2.6" stroke-linecap="butt"/>
<circle class="r" cx="298.39" cy="483.67" r="1.5"/>
<circle class="t" cx="295.33" cy="476.24" r="1.5"/>
<circle class="t" cx="291.3" cy="482.7" r="1.5"/>
<circle class="t" cx="300.09" cy="480.74" r="1.5"/>
<circle class="r" cx="308.87" cy="510.45" r="1.5"/>
<circle class="r" cx="307.83" cy="509.47" r="1.5"/>
<circle class="t" cx="304.73" cy="481.25" r="1.5"/>
<circle class="r" cx="292.28" cy="512.5" r="1.5"/>
<circle class="r" cx="294.7" cy="517.9" r="1.5"/>
<circle class="t" cx="292.37" cy="482.49" r="1.5"/>
<circle class="t" cx="293.2" cy="471.64" r="1.5"/>
<circle class="r" cx="298.32" cy="476.44" r="1.5"/>
<circle class="r" cx="309.43" cy="504.77" r="1.5"/>
<circle class="r" cx="290.62" cy="477.88" r="1.5"/>
<circle class="r" cx="290.3" cy="520.76" r="1.5"/>
<circle class="r" cx="292.13" cy="481.07" r="1.5"/>
<circle class="t" cx="293.04" cy="482.8" r="1.5"/>
<circle class="t" cx="293.16" cy="509.02" r="1.5"/>
<circle class="t" cx="297.79" cy="510.52" r="1.5"/>
<circle class="t" cx="303.94" cy="478.69" r="1.5"/>
<circle class="r" cx="304.23" cy="478.55" r="1.5"/>
<circle class="r" cx="296.01" cy="479.37" r="1.5"/>
<circle class="t" cx="295.65" cy="505.01" r="1.5"/>
<circle class="r" cx="305.65" cy="511.08" r="1.5"/>
<circle class="t" cx="295.79" cy="481.71" r="1.5"/>
<circle class="t" cx="297.43" cy="479.56" r="1.5"/>
<circle class="t" cx="294.84" cy="505.46" r="1.5"/>
<circle class="r" cx="294.47" cy="510.52" r="1.5"/>
<circle class="r" cx="301.77" cy="515.96" r="1.5"/>
<circle class="r" cx="291.79" cy="504.8" r="1.5"/>
<circle class="r" cx="310.08" cy="516.11" r="1.5"/>
<circle class="r" cx="291.49" cy="519.96" r="1.5"/>
<circle class="t" cx="292.51" cy="474.39" r="1.5"/>
<circle class="t" cx="299.44" cy="503.88" r="1.5"/>
<circle class="t" cx="293.2" cy="516.88" r="1.5"/>
<circle class="r" cx="297.22" cy="518.09" r="1.5"/>
<circle class="r" cx="294.44" cy="507.98" r="1.5"/>
<circle class="r" cx="293.75" cy="476.42" r="1.5"/>
<circle class="r" cx="292.24" cy="515.5" r="1.5"/>
<circle class="r" cx="302.52" cy="510.69" r="1.5"/>
<circle class="t" cx="300.3" cy="513.25" r="1.5"/>
<circle class="r" cx="292" cy="507.91" r="1.5"/>
<circle class="t" cx="291.18" cy="479.88" r="1.5"/>
<circle class="r" cx="295.66" cy="475.51" r="1.5"/>
<circle class="r" cx="306.11" cy="510.91" r="1.5"/>
<circle class="r" cx="301.29" cy="506.3" r="1.5"/>
<circle class="r" cx="292.42" cy="508.61" r="1.5"/>
<circle class="t" cx="299.59" cy="514.84" r="1.5"/>
<circle class="t" cx="295.12" cy="478.68" r="1.5"/>
<circle class="t" cx="293.76" cy="446.01" r="1.5"/>
<circle class="r" cx="298.15" cy="486.49" r="1.5"/>
<circle class="r" cx="290.41" cy="511.53" r="1.5"/>
<circle class="t" cx="293.73" cy="514.49" r="1.5"/>
<circle class="r" cx="291.56" cy="508.53" r="1.5"/>
<circle class="t" cx="294.91" cy="481" r="1.5"/>
<circle class="r" cx="295.74" cy="510.41" r="1.5"/>
<circle class="t" cx="292.73" cy="480.01" r="1.5"/>
<circle class="t" cx="303.34" cy="443.25" r="1.5"/>
<circle class="r" cx="295.7" cy="517.88" r="1.5"/>
<circle class="r" cx="292.38" cy="514.15" r="1.5"/>
<circle class="t" cx="292.44" cy="519.58" r="1.5"/>
<circle class="r" cx="294.92" cy="502.37" r="1.5"/>
<circle class="r" cx="310.09" cy="511.32" r="1.5"/>
<circle class="t" cx="301.46" cy="511.54" r="1.5"/>
<line x1="291.59" y1="503.57" x2="310.37" y2="496.23" stroke="#F8766D" stroke-width="2.6" stroke-linecap="butt"/>
<line x1="291.2" y1="489.94" x2="304.62" y2="483.18" stroke="#00BFC4" stroke-width="2.6" stroke-linecap="butt"/>
<circle class="t" cx="370.63" cy="481.53" r="1.5"/>
<circle class="r" cx="375.82" cy="506.58" r="1.5"/>
<circle class="r" cx="368.05" cy="488.76" r="1.5"/>
<circle class="r" cx="369.56" cy="496.32" r="1.5"/>
<circle class="t" cx="377.02" cy="489.71" r="1.5"/>
<circle class="r" cx="383.54" cy="501.17" r="1.5"/>
<circle class="t" cx="374.86" cy="487.78" r="1.5"/>
<circle class="r" cx="386.86" cy="508.91" r="1.5"/>
<circle class="t" cx="369.8" cy="496.17" r="1.5"/>
<circle class="r" cx="385.26" cy="503.49" r="1.5"/>
<circle class="t" cx="372.27" cy="483.78" r="1.5"/>
<circle class="t" cx="372.34" cy="477.14" r="1.5"/>
<circle class="r" cx="387.52" cy="519.51" r="1.5"/>
<circle class="r" cx="373.17" cy="502.56" r="1.5"/>
<circle class="t" cx="368.61" cy="488.3" r="1.5"/>
<circle class="r" cx="387.51" cy="514.47" r="1.5"/>
<circle class="r" cx="368.99" cy="494.6" r="1.5"/>
<circle class="r" cx="375.75" cy="509.32" r="1.5"/>
<circle class="t" cx="375.22" cy="494.02" r="1.5"/>
<circle class="r" cx="373.09" cy="505.06" r="1.5"/>
<circle class="r" cx="375.58" cy="507.96" r="1.5"/>
<circle class="r" cx="381.66" cy="502.01" r="1.5"/>
<circle class="t" cx="371.16" cy="498.83" r="1.5"/>
<circle class="t" cx="369.94" cy="492.57" r="1.5"/>
<circle class="r" cx="368.92" cy="499.68" r="1.5"/>
<circle class="r" cx="379.95" cy="514.48" r="1.5"/>
<circle class="r" cx="372.13" cy="496" r="1.5"/>
<circle class="r" cx="383.08" cy="491.1" r="1.5"/>
<circle class="r" cx="379.2" cy="504.22" r="1.5"/>
<circle class="t" cx="377.73" cy="501.09" r="1.5"/>
<circle class="t" cx="370.59" cy="507.74" r="1.5"/>
<circle class="t" cx="370.63" cy="495.78" r="1.5"/>
<circle class="r" cx="371.87" cy="510.96" r="1.5"/>
<circle class="r" cx="374.65" cy="511.54" r="1.5"/>
<circle class="t" cx="378.89" cy="491.19" r="1.5"/>
<circle class="t" cx="368.73" cy="495.84" r="1.5"/>
<circle class="t" cx="377.52" cy="494.79" r="1.5"/>
<circle class="r" cx="378.72" cy="496.77" r="1.5"/>
<circle class="r" cx="369.81" cy="498.4" r="1.5"/>
<circle class="t" cx="370.47" cy="487.76" r="1.5"/>
<circle class="r" cx="369.71" cy="503.26" r="1.5"/>
<circle class="t" cx="373.22" cy="490.05" r="1.5"/>
<circle class="r" cx="371.18" cy="490.52" r="1.5"/>
<circle class="t" cx="382.16" cy="498.91" r="1.5"/>
<circle class="t" cx="373.08" cy="498.3" r="1.5"/>
<circle class="r" cx="369.67" cy="503.14" r="1.5"/>
<circle class="r" cx="367.84" cy="495.39" r="1.5"/>
<circle class="r" cx="372.35" cy="507.65" r="1.5"/>
<circle class="r" cx="371.9" cy="489.59" r="1.5"/>
<circle class="r" cx="369.85" cy="509.22" r="1.5"/>
<circle class="t" cx="370.16" cy="491.93" r="1.5"/>
<circle class="r" cx="373.44" cy="513.35" r="1.5"/>
<circle class="r" cx="367.73" cy="505.32" r="1.5"/>
<circle class="t" cx="369.87" cy="483.8" r="1.5"/>
<circle class="r" cx="369.22" cy="492.58" r="1.5"/>
<circle class="t" cx="381.37" cy="500.25" r="1.5"/>
<circle class="t" cx="372.55" cy="480.4" r="1.5"/>
<circle class="r" cx="386.3" cy="520.43" r="1.5"/>
<circle class="r" cx="369.43" cy="502.33" r="1.5"/>
<circle class="r" cx="373.13" cy="508.23" r="1.5"/>
<circle class="t" cx="372.76" cy="489.72" r="1.5"/>
<circle class="t" cx="376.87" cy="496.64" r="1.5"/>
<line x1="368.12" y1="497.95" x2="387.42" y2="508.24" stroke="#F8766D" stroke-width="2.6" stroke-linecap="butt"/>
<line x1="368.82" y1="489.94" x2="381.73" y2="495.66" stroke="#00BFC4" stroke-width="2.6" stroke-linecap="butt"/>
<circle class="t" cx="447.3" cy="496.07" r="1.5"/>
<circle class="r" cx="447.28" cy="484.21" r="1.5"/>
<circle class="t" cx="449.98" cy="498.08" r="1.5"/>
<circle class="r" cx="460.97" cy="492.62" r="1.5"/>
<circle class="r" cx="446.99" cy="499.32" r="1.5"/>
<circle class="t" cx="454.95" cy="480.91" r="1.5"/>
<circle class="t" cx="458.8" cy="485.45" r="1.5"/>
<circle class="t" cx="448.59" cy="503.28" r="1.5"/>
<circle class="r" cx="464.95" cy="458.23" r="1.5"/>
<circle class="r" cx="450.52" cy="478.95" r="1.5"/>
<circle class="r" cx="446.35" cy="505.04" r="1.5"/>
<circle class="t" cx="459.59" cy="488.06" r="1.5"/>
<circle class="t" cx="448.02" cy="493.26" r="1.5"/>
<circle class="t" cx="448.06" cy="487.51" r="1.5"/>
<circle class="r" cx="449.33" cy="486.08" r="1.5"/>
<circle class="r" cx="464.29" cy="497.9" r="1.5"/>
<circle class="r" cx="445.48" cy="498.56" r="1.5"/>
<circle class="t" cx="454.3" cy="501.12" r="1.5"/>
<circle class="r" cx="449.3" cy="491.92" r="1.5"/>
<circle class="t" cx="447.37" cy="502.05" r="1.5"/>
<circle class="r" cx="446.65" cy="501.75" r="1.5"/>
<circle class="t" cx="448.06" cy="521.59" r="1.5"/>
<circle class="t" cx="446.04" cy="502.27" r="1.5"/>
<circle class="r" cx="457.38" cy="487.98" r="1.5"/>
<circle class="r" cx="447.24" cy="504.44" r="1.5"/>
<circle class="r" cx="453.25" cy="482.47" r="1.5"/>
<circle class="r" cx="462.69" cy="474.72" r="1.5"/>
<circle class="r" cx="446.86" cy="507.63" r="1.5"/>
<circle class="t" cx="450.51" cy="486.81" r="1.5"/>
<circle class="t" cx="447.23" cy="503.3" r="1.5"/>
<circle class="r" cx="445.27" cy="491.32" r="1.5"/>
<circle class="r" cx="460.51" cy="495.58" r="1.5"/>
<circle class="r" cx="453.18" cy="495.15" r="1.5"/>
<circle class="r" cx="450.6" cy="472.38" r="1.5"/>
<circle class="r" cx="447.14" cy="494.2" r="1.5"/>
<circle class="t" cx="450.65" cy="501.91" r="1.5"/>
<circle class="r" cx="452.08" cy="477.34" r="1.5"/>
<circle class="t" cx="447.59" cy="501.5" r="1.5"/>
<circle class="t" cx="455.16" cy="491.36" r="1.5"/>
<circle class="t" cx="449.77" cy="493.58" r="1.5"/>
<circle class="t" cx="452.65" cy="497.9" r="1.5"/>
<circle class="r" cx="449.78" cy="494.11" r="1.5"/>
<circle class="r" cx="453.01" cy="488.28" r="1.5"/>
<circle class="t" cx="456.32" cy="492.46" r="1.5"/>
<circle class="r" cx="448.61" cy="488.13" r="1.5"/>
<circle class="r" cx="450.56" cy="492.69" r="1.5"/>
<circle class="r" cx="456.63" cy="476.26" r="1.5"/>
<circle class="t" cx="454.45" cy="495.06" r="1.5"/>
<circle class="t" cx="452.29" cy="496.69" r="1.5"/>
<circle class="r" cx="445.16" cy="490.97" r="1.5"/>
<circle class="r" cx="456.15" cy="479.62" r="1.5"/>
<circle class="r" cx="450.87" cy="489.42" r="1.5"/>
<circle class="t" cx="450.19" cy="498.35" r="1.5"/>
<circle class="t" cx="447.9" cy="502.45" r="1.5"/>
<circle class="t" cx="449.7" cy="500.69" r="1.5"/>
<circle class="r" cx="446.42" cy="488.03" r="1.5"/>
<circle class="r" cx="459.09" cy="465.29" r="1.5"/>
<circle class="r" cx="464.94" cy="448.07" r="1.5"/>
<circle class="r" cx="447.1" cy="501.31" r="1.5"/>
<circle class="r" cx="463.73" cy="481.94" r="1.5"/>
<circle class="r" cx="449.56" cy="494.27" r="1.5"/>
<circle class="t" cx="446.16" cy="495.35" r="1.5"/>
<line x1="445.55" y1="495.66" x2="465.23" y2="470.6" stroke="#F8766D" stroke-width="2.6" stroke-linecap="butt"/>
<line x1="446.25" y1="503.57" x2="459.1" y2="484.23" stroke="#00BFC4" stroke-width="2.6" stroke-linecap="butt"/>
<circle class="r" cx="526.04" cy="462.08" r="1.5"/>
<circle class="r" cx="540.12" cy="458.94" r="1.5"/>
<circle class="t" cx="532.38" cy="466" r="1.5"/>
<circle class="r" cx="524.08" cy="468.4" r="1.5"/>
<circle class="r" cx="542.37" cy="451.07" r="1.5"/>
<circle class="t" cx="525.02" cy="467.26" r="1.5"/>
<circle class="r" cx="522.7" cy="457.41" r="1.5"/>
<circle class="r" cx="537.94" cy="456.67" r="1.5"/>
<circle class="t" cx="536.23" cy="457.58" r="1.5"/>
<circle class="t" cx="525.49" cy="468.4" r="1.5"/>
<circle class="r" cx="526.76" cy="458.32" r="1.5"/>
<circle class="r" cx="524.67" cy="456.48" r="1.5"/>
<circle class="t" cx="527.2" cy="456.35" r="1.5"/>
<circle class="t" cx="527.94" cy="464.07" r="1.5"/>
<circle class="t" cx="527.62" cy="462.96" r="1.5"/>
<circle class="r" cx="524.57" cy="459.93" r="1.5"/>
<circle class="r" cx="527.95" cy="463.96" r="1.5"/>
<circle class="r" cx="541.72" cy="456.98" r="1.5"/>
<circle class="r" cx="524.71" cy="466.25" r="1.5"/>
<circle class="r" cx="524.53" cy="454.03" r="1.5"/>
<circle class="t" cx="524.8" cy="470.71" r="1.5"/>
<circle class="r" cx="529.51" cy="459.31" r="1.5"/>
<circle class="r" cx="534.06" cy="461.72" r="1.5"/>
<circle class="r" cx="526.73" cy="448.16" r="1.5"/>
<circle class="r" cx="534.81" cy="454.35" r="1.5"/>
<circle class="r" cx="530.68" cy="456.83" r="1.5"/>
<circle class="t" cx="523.59" cy="469.38" r="1.5"/>
<circle class="t" cx="525.33" cy="472.95" r="1.5"/>
<circle class="r" cx="524.42" cy="467.08" r="1.5"/>
<circle class="r" cx="533.58" cy="450.72" r="1.5"/>
<circle class="t" cx="524.66" cy="464.75" r="1.5"/>
<circle class="t" cx="525.45" cy="467.18" r="1.5"/>
<circle class="r" cx="523.85" cy="452.83" r="1.5"/>
<circle class="r" cx="541.16" cy="452.45" r="1.5"/>
<circle class="t" cx="537.02" cy="445.14" r="1.5"/>
<circle class="t" cx="527.13" cy="465.5" r="1.5"/>
<circle class="t" cx="533.75" cy="464.62" r="1.5"/>
<circle class="t" cx="528.08" cy="463.09" r="1.5"/>
<circle class="t" cx="531.73" cy="451.67" r="1.5"/>
<circle class="t" cx="530.08" cy="470.73" r="1.5"/>
<circle class="r" cx="522.91" cy="462.35" r="1.5"/>
<circle class="r" cx="530.61" cy="467.82" r="1.5"/>
<circle class="r" cx="538.4" cy="454.23" r="1.5"/>
<circle class="r" cx="528.3" cy="458.76" r="1.5"/>
<circle class="r" cx="542.38" cy="451.58" r="1.5"/>
<circle class="r" cx="527.99" cy="459.51" r="1.5"/>
<circle class="t" cx="524.73" cy="470.98" r="1.5"/>
<circle class="r" cx="522.59" cy="464.93" r="1.5"/>
<circle class="t" cx="529.72" cy="465" r="1.5"/>
<circle class="r" cx="523.78" cy="465.67" r="1.5"/>
<circle class="t" cx="532.59" cy="466.77" r="1.5"/>
<circle class="t" cx="527.41" cy="472.18" r="1.5"/>
<circle class="t" cx="525.49" cy="463.96" r="1.5"/>
<circle class="t" cx="531.88" cy="453.73" r="1.5"/>
<circle class="r" cx="530.44" cy="465.74" r="1.5"/>
<circle class="t" cx="523.47" cy="476.08" r="1.5"/>
<circle class="r" cx="526.99" cy="456.83" r="1.5"/>
<circle class="r" cx="536.52" cy="452.93" r="1.5"/>
<circle class="r" cx="524.29" cy="453.43" r="1.5"/>
<circle class="r" cx="528.03" cy="468.35" r="1.5"/>
<circle class="t" cx="526.02" cy="471.28" r="1.5"/>
<circle class="r" cx="527.21" cy="457.78" r="1.5"/>
<line x1="523.24" y1="460.78" x2="542.02" y2="454.59" stroke="#F8766D" stroke-width="2.6" stroke-linecap="butt"/>
<line x1="523.24" y1="468.98" x2="536.4" y2="455.83" stroke="#00BFC4" stroke-width="2.6" stroke-linecap="butt"/>
<circle class="t" cx="605.37" cy="482.89" r="1.5"/>
<circle class="r" cx="608.04" cy="493.89" r="1.5"/>
<circle class="r" cx="611.49" cy="498.72" r="1.5"/>
<circle class="r" cx="617.55" cy="510.82" r="1.5"/>
<circle class="r" cx="601.96" cy="501.75" r="1.5"/>
<circle class="t" cx="604.56" cy="498.7" r="1.5"/>
<circle class="t" cx="602.88" cy="480.93" r="1.5"/>
<circle class="r" cx="600.13" cy="492.18" r="1.5"/>
<circle class="r" cx="602.1" cy="507.2" r="1.5"/>
<circle class="t" cx="602.09" cy="482.2" r="1.5"/>
<circle class="t" cx="603.45" cy="488.21" r="1.5"/>
<circle class="t" cx="602.16" cy="481.29" r="1.5"/>
<circle class="t" cx="602.45" cy="487.2" r="1.5"/>
<circle class="t" cx="609.31" cy="483.64" r="1.5"/>
<circle class="t" cx="604.63" cy="493.07" r="1.5"/>
<circle class="r" cx="605.42" cy="493.3" r="1.5"/>
<circle class="t" cx="609.16" cy="494.01" r="1.5"/>
<circle class="r" cx="602" cy="496.09" r="1.5"/>
<circle class="t" cx="600.9" cy="488.26" r="1.5"/>
<circle class="t" cx="614.45" cy="510.71" r="1.5"/>
<circle class="r" cx="601.72" cy="502.79" r="1.5"/>
<circle class="r" cx="619.8" cy="516.28" r="1.5"/>
<circle class="r" cx="601.85" cy="495.51" r="1.5"/>
<circle class="t" cx="609.81" cy="482.16" r="1.5"/>
<circle class="r" cx="618.59" cy="516.11" r="1.5"/>
<circle class="t" cx="602.92" cy="488.51" r="1.5"/>
<circle class="r" cx="601.51" cy="494.57" r="1.5"/>
<circle class="r" cx="604.19" cy="494.09" r="1.5"/>
<circle class="t" cx="610.02" cy="482.85" r="1.5"/>
<circle class="r" cx="604.16" cy="480.5" r="1.5"/>
<circle class="t" cx="605.51" cy="500.11" r="1.5"/>
<circle class="r" cx="606.94" cy="492.77" r="1.5"/>
<circle class="r" cx="613.95" cy="500.65" r="1.5"/>
<circle class="r" cx="619.81" cy="506.48" r="1.5"/>
<circle class="t" cx="607.15" cy="497.1" r="1.5"/>
<circle class="t" cx="611.18" cy="487.7" r="1.5"/>
<circle class="r" cx="605.73" cy="502.41" r="1.5"/>
<circle class="t" cx="613.66" cy="494.16" r="1.5"/>
<circle class="t" cx="604.84" cy="491.58" r="1.5"/>
<circle class="t" cx="602.23" cy="489.67" r="1.5"/>
<circle class="r" cx="605.38" cy="492.72" r="1.5"/>
<circle class="r" cx="601.21" cy="509.49" r="1.5"/>
<circle class="t" cx="605.05" cy="484.52" r="1.5"/>
<circle class="r" cx="601.28" cy="498.72" r="1.5"/>
<circle class="r" cx="600.34" cy="493.69" r="1.5"/>
<circle class="r" cx="604.64" cy="500.58" r="1.5"/>
<circle class="r" cx="615.37" cy="521.06" r="1.5"/>
<circle class="t" cx="602.76" cy="496.94" r="1.5"/>
<circle class="r" cx="619.15" cy="501.1" r="1.5"/>
<circle class="t" cx="607.51" cy="506.03" r="1.5"/>
<circle class="r" cx="615.83" cy="518.99" r="1.5"/>
<circle class="r" cx="612.24" cy="513.53" r="1.5"/>
<circle class="t" cx="602.92" cy="487.18" r="1.5"/>
<circle class="r" cx="607.87" cy="506.53" r="1.5"/>
<circle class="r" cx="608.11" cy="492.54" r="1.5"/>
<circle class="t" cx="601.02" cy="479.93" r="1.5"/>
<circle class="r" cx="604.42" cy="496.62" r="1.5"/>
<circle class="r" cx="611.01" cy="496.62" r="1.5"/>
<circle class="r" cx="600.02" cy="493.29" r="1.5"/>
<circle class="r" cx="602.14" cy="499.52" r="1.5"/>
<circle class="r" cx="605.46" cy="502.24" r="1.5"/>
<circle class="r" cx="603.47" cy="490.81" r="1.5"/>
<line x1="600.67" y1="494.04" x2="619.96" y2="508.24" stroke="#F8766D" stroke-width="2.6" stroke-linecap="butt"/>
<line x1="600.67" y1="485.37" x2="614.66" y2="497.95" stroke="#00BFC4" stroke-width="2.6" stroke-linecap="butt"/>
<circle class="t" cx="94.12" cy="636.64" r="1.5"/>
<circle class="r" cx="101.28" cy="639.14" r="1.5"/>
<circle class="t" cx="95.18" cy="636.89" r="1.5"/>
<circle class="t" cx="111.18" cy="641.42" r="1.5"/>
<circle class="t" cx="100.21" cy="629.3" r="1.5"/>
<circle class="t" cx="86.21" cy="632.82" r="1.5"/>
<circle class="t" cx="91.06" cy="636.21" r="1.5"/>
<circle class="r" cx="115.89" cy="637.12" r="1.5"/>
<circle class="t" cx="95.76" cy="638.67" r="1.5"/>
<circle class="t" cx="75.55" cy="625.66" r="1.5"/>
<circle class="t" cx="95.48" cy="635.4" r="1.5"/>
<circle class="r" cx="89.23" cy="629.92" r="1.5"/>
<circle class="t" cx="101.52" cy="631.46" r="1.5"/>
<circle class="t" cx="80.07" cy="631.32" r="1.5"/>
<circle class="r" cx="103.28" cy="633.89" r="1.5"/>
<circle class="t" cx="93.15" cy="642.99" r="1.5"/>
<circle class="t" cx="101.65" cy="638.33" r="1.5"/>
<circle class="t" cx="88.3" cy="629.36" r="1.5"/>
<circle class="t" cx="100.96" cy="643.9" r="1.5"/>
<circle class="t" cx="105.21" cy="631.96" r="1.5"/>
<circle class="t" cx="95.75" cy="640.38" r="1.5"/>
<circle class="t" cx="103.71" cy="639.58" r="1.5"/>
<circle class="t" cx="111.37" cy="638.95" r="1.5"/>
<circle class="t" cx="100.29" cy="637.44" r="1.5"/>
<circle class="t" cx="88.62" cy="643.08" r="1.5"/>
<circle class="t" cx="110.32" cy="636.4" r="1.5"/>
<circle class="t" cx="102.77" cy="633.64" r="1.5"/>
<circle class="t" cx="99.69" cy="636.5" r="1.5"/>
<circle class="t" cx="94.46" cy="625.07" r="1.5"/>
<circle class="r" cx="106.52" cy="642.56" r="1.5"/>
<circle class="t" cx="100.3" cy="620.12" r="1.5"/>
<circle class="t" cx="115.02" cy="626.46" r="1.5"/>
<circle class="r" cx="95.7" cy="628.84" r="1.5"/>
<circle class="t" cx="92.49" cy="622.32" r="1.5"/>
<circle class="t" cx="101.32" cy="628" r="1.5"/>
<circle class="r" cx="102.11" cy="628.11" r="1.5"/>
<circle class="t" cx="100.66" cy="631.58" r="1.5"/>
<circle class="t" cx="112.18" cy="642.58" r="1.5"/>
<circle class="r" cx="97.9" cy="637.4" r="1.5"/>
<circle class="t" cx="100.94" cy="638.84" r="1.5"/>
<circle class="t" cx="87.36" cy="619.44" r="1.5"/>
<circle class="r" cx="96.76" cy="635.77" r="1.5"/>
<circle class="t" cx="112.71" cy="633.81" r="1.5"/>
<circle class="t" cx="93.82" cy="637.59" r="1.5"/>
<circle class="t" cx="110.99" cy="626.58" r="1.5"/>
<circle class="t" cx="88.89" cy="640.78" r="1.5"/>
<circle class="r" cx="89.93" cy="630.46" r="1.5"/>
<circle class="t" cx="93.51" cy="637.3" r="1.5"/>
<circle class="r" cx="103.18" cy="640.85" r="1.5"/>
<circle class="r" cx="101.72" cy="624.89" r="1.5"/>
<circle class="t" cx="97.62" cy="638.01" r="1.5"/>
<circle class="t" cx="103.75" cy="640.06" r="1.5"/>
<circle class="t" cx="103.7" cy="631.23" r="1.5"/>
<circle class="t" cx="74.7" cy="623.27" r="1.5"/>
<circle class="t" cx="115.58" cy="634.22" r="1.5"/>
<circle class="t" cx="97.67" cy="636.39" r="1.5"/>
<circle class="t" cx="82.25" cy="623.71" r="1.5"/>
<circle class="t" cx="87.84" cy="630.71" r="1.5"/>
<circle class="t" cx="111.78" cy="637.44" r="1.5"/>
<circle class="t" cx="97.91" cy="627.22" r="1.5"/>
<circle class="t" cx="107.87" cy="629.63" r="1.5"/>
<circle class="t" cx="99.08" cy="629.55" r="1.5"/>
<circle class="t" cx="85.69" cy="622.89" r="1.5"/>
<circle class="t" cx="103.33" cy="638.35" r="1.5"/>
<circle class="t" cx="87.48" cy="631.25" r="1.5"/>
<circle class="t" cx="93.18" cy="639.37" r="1.5"/>
<circle class="t" cx="104.65" cy="637.44" r="1.5"/>
<circle class="t" cx="100.62" cy="637.21" r="1.5"/>
<circle class="t" cx="96.92" cy="635.38" r="1.5"/>
<circle class="t" cx="91.99" cy="624.24" r="1.5"/>
<circle class="t" cx="100.52" cy="626.85" r="1.5"/>
<circle class="t" cx="98.44" cy="621.45" r="1.5"/>
<circle class="r" cx="99.93" cy="625.14" r="1.5"/>
<circle class="t" cx="89.71" cy="635.83" r="1.5"/>
<circle class="t" cx="108.37" cy="631.22" r="1.5"/>
<circle class="r" cx="102.92" cy="628.66" r="1.5"/>
<circle class="r" cx="100.56" cy="626.12" r="1.5"/>
<circle class="t" cx="80.78" cy="615.22" r="1.5"/>
<circle class="t" cx="100.73" cy="636.12" r="1.5"/>
<circle class="t" cx="93.04" cy="639.41" r="1.5"/>
<circle class="r" cx="114.8" cy="636.43" r="1.5"/>
<circle class="r" cx="104.49" cy="641.97" r="1.5"/>
<circle class="t" cx="73.18" cy="608.62" r="1.5"/>
<circle class="t" cx="104.26" cy="635.63" r="1.5"/>
<circle class="t" cx="95.54" cy="634.27" r="1.5"/>
<circle class="t" cx="100.22" cy="636.59" r="1.5"/>
<circle class="t" cx="77.24" cy="623.23" r="1.5"/>
<circle class="t" cx="110.48" cy="636.68" r="1.5"/>
<circle class="r" cx="95.85" cy="630.94" r="1.5"/>
<circle class="t" cx="75.67" cy="619.87" r="1.5"/>
<circle class="r" cx="104.76" cy="642.17" r="1.5"/>
<circle class="t" cx="111.2" cy="638.39" r="1.5"/>
<circle class="t" cx="114.41" cy="639.43" r="1.5"/>
<circle class="t" cx="98.03" cy="636.88" r="1.5"/>
<circle class="t" cx="101.24" cy="638.08" r="1.5"/>
<circle class="r" cx="82.09" cy="628.78" r="1.5"/>
<circle class="t" cx="95.16" cy="612.99" r="1.5"/>
<circle class="t" cx="86.41" cy="638.82" r="1.5"/>
<circle class="r" cx="93.6" cy="639.67" r="1.5"/>
<circle class="t" cx="75.75" cy="624.05" r="1.5"/>
<circle class="t" cx="94.25" cy="625.9" r="1.5"/>
<circle class="r" cx="95.73" cy="639.46" r="1.5"/>
<circle class="t" cx="98.72" cy="637.74" r="1.5"/>
<circle class="t" cx="107.29" cy="639.14" r="1.5"/>
<circle class="t" cx="96.41" cy="631.09" r="1.5"/>
<circle class="r" cx="112.92" cy="628.99" r="1.5"/>
<circle class="t" cx="91.58" cy="641.07" r="1.5"/>
<circle class="r" cx="95.85" cy="625.75" r="1.5"/>
<circle class="t" cx="113.41" cy="633.35" r="1.5"/>
<circle class="t" cx="98.09" cy="631.76" r="1.5"/>
<circle class="t" cx="78.34" cy="629.72" r="1.5"/>
<circle class="t" cx="79.63" cy="627.07" r="1.5"/>
<circle class="t" cx="94.51" cy="631.25" r="1.5"/>
<circle class="r" cx="105.21" cy="641.88" r="1.5"/>
<circle class="t" cx="98.15" cy="635.29" r="1.5"/>
<circle class="r" cx="114.3" cy="640.55" r="1.5"/>
<circle class="t" cx="89.57" cy="625.88" r="1.5"/>
<circle class="t" cx="92.99" cy="641.1" r="1.5"/>
<circle class="r" cx="107.7" cy="624.79" r="1.5"/>
<circle class="r" cx="94.82" cy="620.76" r="1.5"/>
<circle class="r" cx="98.3" cy="642.58" r="1.5"/>
<circle class="t" cx="91.64" cy="640.31" r="1.5"/>
<circle class="r" cx="114.2" cy="633.41" r="1.5"/>
<circle class="r" cx="100.82" cy="639.6" r="1.5"/>
<circle class="t" cx="112.7" cy="640.33" r="1.5"/>
<circle class="t" cx="89.93" cy="635.1" r="1.5"/>
<circle class="t" cx="82.85" cy="641.35" r="1.5"/>
<circle class="t" cx="92" cy="632.14" r="1.5"/>
<circle class="t" cx="103.99" cy="640.38" r="1.5"/>
<circle class="t" cx="98.67" cy="630.55" r="1.5"/>
<circle class="r" cx="99.38" cy="629.72" r="1.5"/>
<circle class="r" cx="108.01" cy="642.2" r="1.5"/>
<circle class="r" cx="111.23" cy="624.2" r="1.5"/>
<circle class="t" cx="81.07" cy="614.24" r="1.5"/>
<circle class="t" cx="78.49" cy="633.11" r="1.5"/>
<circle class="t" cx="92.45" cy="640.81" r="1.5"/>
<circle class="t" cx="94.99" cy="634.55" r="1.5"/>
<circle class="r" cx="100.86" cy="631.53" r="1.5"/>
<circle class="t" cx="98.64" cy="631.45" r="1.5"/>
<circle class="t" cx="98.61" cy="641.33" r="1.5"/>
<circle class="r" cx="88.76" cy="626.54" r="1.5"/>
<circle class="t" cx="105.56" cy="640.7" r="1.5"/>
<circle class="t" cx="106.35" cy="643.9" r="1.5"/>
<circle class="r" cx="81.25" cy="622.92" r="1.5"/>
<circle class="r" cx="92.35" cy="637.95" r="1.5"/>
<circle class="r" cx="90.39" cy="620.1" r="1.5"/>
<circle class="t" cx="101.38" cy="637.68" r="1.5"/>
<circle class="t" cx="94.87" cy="619.84" r="1.5"/>
<circle class="t" cx="99.69" cy="628.42" r="1.5"/>
<circle class="t" cx="107.47" cy="623.38" r="1.5"/>
<circle class="t" cx="99.92" cy="630.19" r="1.5"/>
<circle class="r" cx="90.37" cy="642.08" r="1.5"/>
<circle class="t" cx="77.58" cy="619.57" r="1.5"/>
<circle class="r" cx="107.63" cy="637.62" r="1.5"/>
<circle class="r" cx="93.21" cy="639.61" r="1.5"/>
<circle class="t" cx="100.68" cy="628.61" r="1.5"/>
<circle class="r" cx="94.71" cy="643.9" r="1.5"/>
<circle class="t" cx="82.07" cy="625.95" r="1.5"/>
<circle class="t" cx="99.43" cy="636.34" r="1.5"/>
<circle class="t" cx="114.86" cy="634.95" r="1.5"/>
<circle class="t" cx="95.27" cy="636.65" r="1.5"/>
<circle class="t" cx="91.97" cy="620.43" r="1.5"/>
<circle class="t" cx="98.78" cy="643.9" r="1.5"/>
<circle class="r" cx="81.99" cy="626.29" r="1.5"/>
<circle class="t" cx="99.08" cy="622" r="1.5"/>
<circle class="t" cx="75.37" cy="620.49" r="1.5"/>
<circle class="r" cx="96.86" cy="618.96" r="1.5"/>
<circle class="r" cx="72.89" cy="634.36" r="1.5"/>
<circle class="t" cx="95.82" cy="626.07" r="1.5"/>
<circle class="t" cx="92.85" cy="622.19" r="1.5"/>
<circle class="r" cx="96.96" cy="629.69" r="1.5"/>
<circle class="r" cx="81.27" cy="610.69" r="1.5"/>
<circle class="r" cx="80.83" cy="629.87" r="1.5"/>
<circle class="r" cx="83.17" cy="635.99" r="1.5"/>
<circle class="t" cx="101.66" cy="643.74" r="1.5"/>
<circle class="t" cx="91.66" cy="623.45" r="1.5"/>
<circle class="r" cx="102.86" cy="619.75" r="1.5"/>
<circle class="r" cx="78.54" cy="626.68" r="1.5"/>
<circle class="t" cx="85.4" cy="609.96" r="1.5"/>
<circle class="t" cx="81.07" cy="620.16" r="1.5"/>
<circle class="t" cx="95.23" cy="617.35" r="1.5"/>
<circle class="r" cx="97.6" cy="637.06" r="1.5"/>
<circle class="r" cx="104.91" cy="634.3" r="1.5"/>
<circle class="t" cx="100.23" cy="634.17" r="1.5"/>
<circle class="t" cx="99.96" cy="639.62" r="1.5"/>
<circle class="t" cx="80.75" cy="626.09" r="1.5"/>
<circle class="t" cx="85.59" cy="637.2" r="1.5"/>
<circle class="t" cx="99.31" cy="635.81" r="1.5"/>
<circle class="r" cx="72.92" cy="620.24" r="1.5"/>
<circle class="r" cx="98.1" cy="639.21" r="1.5"/>
<circle class="t" cx="92.92" cy="640.46" r="1.5"/>
<circle class="t" cx="97.86" cy="636.71" r="1.5"/>
<circle class="t" cx="90.41" cy="617.11" r="1.5"/>
<circle class="t" cx="99.86" cy="623.15" r="1.5"/>
<circle class="t" cx="98.79" cy="621.27" r="1.5"/>
<circle class="t" cx="73.67" cy="620.81" r="1.5"/>
<circle class="t" cx="104.11" cy="636.85" r="1.5"/>
<circle class="t" cx="100.81" cy="628.12" r="1.5"/>
<circle class="r" cx="111.85" cy="639.54" r="1.5"/>
<circle class="t" cx="104.5" cy="633.88" r="1.5"/>
<circle class="r" cx="104.8" cy="631.01" r="1.5"/>
<circle class="t" cx="99.75" cy="632.99" r="1.5"/>
<circle class="t" cx="95.05" cy="621.04" r="1.5"/>
<circle class="t" cx="97.16" cy="628.85" r="1.5"/>
<circle class="t" cx="112.36" cy="640.75" r="1.5"/>
<circle class="t" cx="114.5" cy="641.75" r="1.5"/>
<circle class="t" cx="85.35" cy="617.25" r="1.5"/>
<circle class="r" cx="106.83" cy="640.87" r="1.5"/>
<circle class="t" cx="100.1" cy="639.75" r="1.5"/>
<circle class="t" cx="73.27" cy="609.72" r="1.5"/>
<circle class="t" cx="83.27" cy="637.11" r="1.5"/>
<circle class="t" cx="81.29" cy="625.55" r="1.5"/>
<circle class="r" cx="98.47" cy="638.67" r="1.5"/>
<circle class="t" cx="77.22" cy="618.71" r="1.5"/>
<circle class="r" cx="85.84" cy="628.73" r="1.5"/>
<circle class="t" cx="115.76" cy="643.9" r="1.5"/>
<circle class="r" cx="108.02" cy="631.87" r="1.5"/>
<circle class="t" cx="94.01" cy="615.71" r="1.5"/>
<circle class="r" cx="100.34" cy="616.89" r="1.5"/>
<circle class="t" cx="93.91" cy="640" r="1.5"/>
<circle class="r" cx="103.36" cy="637.85" r="1.5"/>
<circle class="r" cx="93.94" cy="624.38" r="1.5"/>
<circle class="t" cx="98.24" cy="617.73" r="1.5"/>
<circle class="t" cx="110.4" cy="632.17" r="1.5"/>
<circle class="t" cx="73.59" cy="617.5" r="1.5"/>
<circle class="t" cx="74.82" cy="611.59" r="1.5"/>
<circle class="t" cx="80.81" cy="618.01" r="1.5"/>
<circle class="t" cx="105.63" cy="641.79" r="1.5"/>
<circle class="t" cx="84.65" cy="626.29" r="1.5"/>
<circle class="r" cx="98.19" cy="626.5" r="1.5"/>
<circle class="r" cx="87.78" cy="623.16" r="1.5"/>
<circle class="t" cx="86.94" cy="639.05" r="1.5"/>
<circle class="t" cx="108.55" cy="643.9" r="1.5"/>
<circle class="t" cx="95.07" cy="632.93" r="1.5"/>
<circle class="t" cx="95.28" cy="625.03" r="1.5"/>
<circle class="t" cx="98.51" cy="632.66" r="1.5"/>
<circle class="t" cx="89.25" cy="643.9" r="1.5"/>
<circle class="t" cx="81.99" cy="621.81" r="1.5"/>
<circle class="r" cx="104.29" cy="620.61" r="1.5"/>
<circle class="r" cx="77.12" cy="626.35" r="1.5"/>
<circle class="t" cx="92.02" cy="632.47" r="1.5"/>
<circle class="t" cx="83.06" cy="621.84" r="1.5"/>
<circle class="t" cx="98.63" cy="625.85" r="1.5"/>
<circle class="t" cx="100.03" cy="638.61" r="1.5"/>
<circle class="t" cx="89.32" cy="630.61" r="1.5"/>
<circle class="t" cx="111.61" cy="639.19" r="1.5"/>
<circle class="t" cx="98.79" cy="635.95" r="1.5"/>
<circle class="t" cx="84.86" cy="625.12" r="1.5"/>
<circle class="t" cx="101.44" cy="637.34" r="1.5"/>
<circle class="t" cx="93.29" cy="643" r="1.5"/>
<circle class="t" cx="81.89" cy="623.88" r="1.5"/>
<circle class="t" cx="115.56" cy="636.42" r="1.5"/>
<circle class="t" cx="103.56" cy="636.52" r="1.5"/>
<circle class="r" cx="106.97" cy="631.56" r="1.5"/>
<circle class="r" cx="101.31" cy="625.49" r="1.5"/>
<circle class="t" cx="101.44" cy="612.31" r="1.5"/>
<circle class="r" cx="104.47" cy="632.5" r="1.5"/>
<circle class="t" cx="90.65" cy="639.51" r="1.5"/>
<circle class="r" cx="87.88" cy="628.14" r="1.5"/>
<circle class="t" cx="98.7" cy="624.04" r="1.5"/>
<circle class="r" cx="100.89" cy="629.76" r="1.5"/>
<circle class="t" cx="95.58" cy="625.5" r="1.5"/>
<circle class="t" cx="101.36" cy="631.45" r="1.5"/>
<circle class="r" cx="105.14" cy="626.69" r="1.5"/>
<circle class="t" cx="98.65" cy="633.91" r="1.5"/>
<line x1="72.65" y1="623.6" x2="115.66" y2="633.8" stroke="#F8766D" stroke-width="2.6" stroke-linecap="butt"/>
<line x1="71.5" y1="620.17" x2="115.66" y2="635.61" stroke="#00BFC4" stroke-width="2.6" stroke-linecap="butt"/>
<circle class="t" cx="176.51" cy="557.09" r="1.5"/>
<circle class="t" cx="188.61" cy="554.98" r="1.5"/>
<circle class="r" cx="158.26" cy="560.97" r="1.5"/>
<circle class="t" cx="158.72" cy="562.47" r="1.5"/>
<circle class="t" cx="160.28" cy="560.9" r="1.5"/>
<circle class="t" cx="188.42" cy="558.71" r="1.5"/>
<circle class="t" cx="170.35" cy="557.01" r="1.5"/>
<circle class="t" cx="190.14" cy="555.17" r="1.5"/>
<circle class="r" cx="158.68" cy="564.45" r="1.5"/>
<circle class="r" cx="160.6" cy="560.82" r="1.5"/>
<circle class="r" cx="190.35" cy="563.23" r="1.5"/>
<circle class="r" cx="175.9" cy="564.74" r="1.5"/>
<circle class="t" cx="171.34" cy="564.94" r="1.5"/>
<circle class="t" cx="173.01" cy="563.04" r="1.5"/>
<circle class="t" cx="171.44" cy="565.03" r="1.5"/>
<circle class="r" cx="169.78" cy="563.49" r="1.5"/>
<circle class="t" cx="165.73" cy="561.73" r="1.5"/>
<circle class="t" cx="168.49" cy="555.9" r="1.5"/>
<circle class="r" cx="191.63" cy="557.07" r="1.5"/>
<circle class="t" cx="153.18" cy="561.57" r="1.5"/>
<circle class="t" cx="169.09" cy="565.26" r="1.5"/>
<circle class="t" cx="176.86" cy="557.04" r="1.5"/>
<circle class="t" cx="182.08" cy="561.15" r="1.5"/>
<circle class="t" cx="150.61" cy="566.5" r="1.5"/>
<circle class="r" cx="177.99" cy="558.2" r="1.5"/>
<circle class="t" cx="167" cy="561.6" r="1.5"/>
<circle class="t" cx="175.34" cy="559.75" r="1.5"/>
<circle class="t" cx="176.04" cy="568.09" r="1.5"/>
<circle class="t" cx="175.87" cy="567.19" r="1.5"/>
<circle class="t" cx="165.27" cy="561.58" r="1.5"/>
<circle class="t" cx="176.06" cy="559.09" r="1.5"/>
<circle class="r" cx="180.71" cy="560.94" r="1.5"/>
<circle class="t" cx="179.09" cy="566.53" r="1.5"/>
<circle class="t" cx="175.1" cy="561.03" r="1.5"/>
<circle class="t" cx="160.49" cy="561.86" r="1.5"/>
<circle class="r" cx="182.64" cy="556.77" r="1.5"/>
<circle class="r" cx="174.29" cy="562.45" r="1.5"/>
<circle class="t" cx="175.58" cy="557.89" r="1.5"/>
<circle class="t" cx="158.5" cy="563.21" r="1.5"/>
<circle class="r" cx="178.71" cy="556.88" r="1.5"/>
<circle class="t" cx="181.54" cy="565.95" r="1.5"/>
<circle class="t" cx="177.53" cy="559.44" r="1.5"/>
<circle class="t" cx="168.08" cy="559.87" r="1.5"/>
<circle class="t" cx="153.1" cy="567.47" r="1.5"/>
<circle class="t" cx="164.79" cy="564.17" r="1.5"/>
<circle class="t" cx="176.07" cy="558.63" r="1.5"/>
<circle class="t" cx="173.84" cy="557.08" r="1.5"/>
<circle class="r" cx="185.06" cy="560.85" r="1.5"/>
<circle class="t" cx="189.21" cy="553.44" r="1.5"/>
<circle class="r" cx="182.19" cy="554.01" r="1.5"/>
<circle class="r" cx="181.92" cy="554.27" r="1.5"/>
<circle class="t" cx="175.05" cy="563.96" r="1.5"/>
<circle class="t" cx="187.75" cy="555.94" r="1.5"/>
<circle class="t" cx="157.5" cy="564.9" r="1.5"/>
<circle class="t" cx="177.35" cy="564.3" r="1.5"/>
<circle class="r" cx="166.66" cy="562.42" r="1.5"/>
<circle class="t" cx="189.61" cy="573.09" r="1.5"/>
<circle class="t" cx="178.81" cy="572.08" r="1.5"/>
<circle class="r" cx="189.28" cy="553.73" r="1.5"/>
<circle class="r" cx="170.64" cy="557.36" r="1.5"/>
<circle class="r" cx="163.27" cy="562.45" r="1.5"/>
<circle class="t" cx="167.84" cy="558.38" r="1.5"/>
<circle class="t" cx="183.78" cy="569.95" r="1.5"/>
<circle class="t" cx="163.84" cy="561.97" r="1.5"/>
<circle class="r" cx="167.36" cy="567.1" r="1.5"/>
<circle class="t" cx="192.99" cy="556.58" r="1.5"/>
<circle class="t" cx="177.65" cy="557.2" r="1.5"/>
<circle class="t" cx="170.94" cy="557.86" r="1.5"/>
<circle class="t" cx="176.1" cy="567.72" r="1.5"/>
<circle class="t" cx="175.67" cy="562.66" r="1.5"/>
<circle class="t" cx="163.12" cy="559.36" r="1.5"/>
<circle class="t" cx="176.22" cy="562.63" r="1.5"/>
<circle class="t" cx="191.84" cy="553.27" r="1.5"/>
<circle class="r" cx="180.79" cy="560.16" r="1.5"/>
<circle class="t" cx="162.83" cy="562.42" r="1.5"/>
<circle class="t" cx="172.59" cy="560.38" r="1.5"/>
<circle class="t" cx="178.09" cy="558.06" r="1.5"/>
<circle class="t" cx="172.7" cy="565.8" r="1.5"/>
<circle class="r" cx="180.61" cy="556.76" r="1.5"/>
<circle class="r" cx="172.25" cy="557.22" r="1.5"/>
<circle class="r" cx="150.35" cy="562" r="1.5"/>
<circle class="t" cx="172.71" cy="559.46" r="1.5"/>
<circle class="t" cx="178.67" cy="565.05" r="1.5"/>
<circle class="t" cx="176.13" cy="558.69" r="1.5"/>
<circle class="t" cx="177.64" cy="554.92" r="1.5"/>
<circle class="t" cx="170.47" cy="574.59" r="1.5"/>
<circle class="t" cx="155.92" cy="577.68" r="1.5"/>
<circle class="r" cx="184.26" cy="560.76" r="1.5"/>
<circle class="r" cx="173.13" cy="555.17" r="1.5"/>
<circle class="t" cx="162.08" cy="559.97" r="1.5"/>
<circle class="r" cx="180.29" cy="559.1" r="1.5"/>
<circle class="t" cx="151.1" cy="562.76" r="1.5"/>
<circle class="t" cx="173.25" cy="560.88" r="1.5"/>
<circle class="t" cx="152.8" cy="565.02" r="1.5"/>
<circle class="t" cx="176.51" cy="556.72" r="1.5"/>
<circle class="t" cx="171.55" cy="561.01" r="1.5"/>
<circle class="r" cx="180.35" cy="554.76" r="1.5"/>
<circle class="t" cx="178.24" cy="555" r="1.5"/>
<circle class="t" cx="169.4" cy="565.92" r="1.5"/>
<circle class="t" cx="154.67" cy="563.08" r="1.5"/>
<circle class="t" cx="170.58" cy="561.29" r="1.5"/>
<circle class="t" cx="176.74" cy="558.18" r="1.5"/>
<circle class="t" cx="172.3" cy="557.82" r="1.5"/>
<circle class="t" cx="163.02" cy="563.1" r="1.5"/>
<circle class="t" cx="191.93" cy="558.1" r="1.5"/>
<circle class="r" cx="185.44" cy="563.9" r="1.5"/>
<circle class="t" cx="158.21" cy="561.66" r="1.5"/>
<circle class="t" cx="166.05" cy="559.32" r="1.5"/>
<circle class="t" cx="170.61" cy="559.39" r="1.5"/>
<circle class="r" cx="172.14" cy="560.68" r="1.5"/>
<circle class="t" cx="176.21" cy="557.4" r="1.5"/>
<circle class="t" cx="150.7" cy="563.69" r="1.5"/>
<circle class="t" cx="159.5" cy="562.59" r="1.5"/>
<circle class="r" cx="192.23" cy="555.79" r="1.5"/>
<circle class="t" cx="175.94" cy="555" r="1.5"/>
<circle class="t" cx="152.98" cy="569.67" r="1.5"/>
<circle class="t" cx="155.77" cy="563.57" r="1.5"/>
<circle class="r" cx="159.52" cy="560.34" r="1.5"/>
<circle class="r" cx="175.03" cy="556.94" r="1.5"/>
<circle class="r" cx="167.82" cy="560.71" r="1.5"/>
<circle class="t" cx="189.79" cy="554.27" r="1.5"/>
<circle class="t" cx="164.91" cy="560.04" r="1.5"/>
<circle class="r" cx="165.21" cy="563.34" r="1.5"/>
<circle class="r" cx="173.28" cy="564.18" r="1.5"/>
<circle class="r" cx="150.32" cy="564.64" r="1.5"/>
<circle class="t" cx="188.63" cy="558.7" r="1.5"/>
<circle class="t" cx="169.45" cy="566.89" r="1.5"/>
<circle class="t" cx="152.25" cy="562.88" r="1.5"/>
<circle class="t" cx="181.69" cy="556.24" r="1.5"/>
<circle class="t" cx="180.76" cy="555.04" r="1.5"/>
<circle class="t" cx="162.78" cy="559.78" r="1.5"/>
<circle class="t" cx="169.42" cy="566.66" r="1.5"/>
<circle class="t" cx="171.94" cy="560.21" r="1.5"/>
<circle class="t" cx="171.68" cy="563.95" r="1.5"/>
<circle class="t" cx="170.42" cy="556.53" r="1.5"/>
<circle class="r" cx="191.73" cy="560.35" r="1.5"/>
<circle class="t" cx="185.3" cy="557.84" r="1.5"/>
<circle class="t" cx="182.64" cy="556.76" r="1.5"/>
<circle class="t" cx="169.92" cy="567.32" r="1.5"/>
<circle class="t" cx="177.72" cy="559.16" r="1.5"/>
<circle class="t" cx="167.14" cy="564.29" r="1.5"/>
<circle class="t" cx="172.66" cy="567.8" r="1.5"/>
<circle class="t" cx="178.39" cy="558.51" r="1.5"/>
<circle class="t" cx="171.89" cy="563.72" r="1.5"/>
<circle class="t" cx="170.72" cy="554.8" r="1.5"/>
<circle class="r" cx="178.29" cy="557.79" r="1.5"/>
<circle class="r" cx="182.23" cy="555.57" r="1.5"/>
<circle class="t" cx="172.48" cy="572.78" r="1.5"/>
<circle class="t" cx="159.32" cy="566.81" r="1.5"/>
<circle class="t" cx="177.12" cy="558.34" r="1.5"/>
<circle class="t" cx="185.98" cy="558.34" r="1.5"/>
<circle class="t" cx="187.91" cy="554" r="1.5"/>
<circle class="t" cx="172.5" cy="559.18" r="1.5"/>
<circle class="t" cx="181.42" cy="557.47" r="1.5"/>
<circle class="r" cx="171.37" cy="558.8" r="1.5"/>
<circle class="t" cx="151.02" cy="562.45" r="1.5"/>
<circle class="r" cx="175.53" cy="557.24" r="1.5"/>
<circle class="r" cx="173.16" cy="561.65" r="1.5"/>
<circle class="t" cx="178.95" cy="556.28" r="1.5"/>
<circle class="r" cx="154.55" cy="565.76" r="1.5"/>
<circle class="t" cx="192.29" cy="563.47" r="1.5"/>
<circle class="r" cx="177.77" cy="561.38" r="1.5"/>
<circle class="t" cx="162.29" cy="564.35" r="1.5"/>
<circle class="t" cx="178.37" cy="562.93" r="1.5"/>
<circle class="r" cx="175.73" cy="564.7" r="1.5"/>
<circle class="r" cx="185.45" cy="555.97" r="1.5"/>
<circle class="r" cx="171.03" cy="557.37" r="1.5"/>
<circle class="r" cx="167.8" cy="564.17" r="1.5"/>
<circle class="t" cx="177.46" cy="556.67" r="1.5"/>
<circle class="t" cx="184.9" cy="571.34" r="1.5"/>
<circle class="r" cx="178.25" cy="554.1" r="1.5"/>
<circle class="t" cx="177.73" cy="561.46" r="1.5"/>
<circle class="t" cx="166.32" cy="561.64" r="1.5"/>
<circle class="t" cx="172.42" cy="559.48" r="1.5"/>
<circle class="t" cx="177.39" cy="563.2" r="1.5"/>
<circle class="t" cx="175.46" cy="556.18" r="1.5"/>
<circle class="t" cx="181.93" cy="553.66" r="1.5"/>
<circle class="t" cx="164.37" cy="566.63" r="1.5"/>
<circle class="r" cx="185.13" cy="562.72" r="1.5"/>
<circle class="t" cx="179.08" cy="556.68" r="1.5"/>
<circle class="t" cx="189.04" cy="557.88" r="1.5"/>
<circle class="t" cx="176.22" cy="563.42" r="1.5"/>
<circle class="t" cx="169.88" cy="561.25" r="1.5"/>
<circle class="t" cx="178.16" cy="558.28" r="1.5"/>
<circle class="t" cx="177.66" cy="565.72" r="1.5"/>
<circle class="t" cx="187.83" cy="564.25" r="1.5"/>
<circle class="r" cx="166.19" cy="555.62" r="1.5"/>
<circle class="r" cx="193.32" cy="563.6" r="1.5"/>
<circle class="r" cx="159.42" cy="561.13" r="1.5"/>
<circle class="t" cx="172.61" cy="559.23" r="1.5"/>
<circle class="r" cx="178.32" cy="557.35" r="1.5"/>
<circle class="r" cx="175.62" cy="556.4" r="1.5"/>
<circle class="t" cx="177.95" cy="562.51" r="1.5"/>
<circle class="t" cx="159.68" cy="562.93" r="1.5"/>
<circle class="t" cx="192.45" cy="555.85" r="1.5"/>
<circle class="t" cx="175.29" cy="566.42" r="1.5"/>
<circle class="r" cx="177.36" cy="556.49" r="1.5"/>
<circle class="t" cx="190.13" cy="553.44" r="1.5"/>
<circle class="r" cx="184.4" cy="554.93" r="1.5"/>
<circle class="r" cx="165.31" cy="569.42" r="1.5"/>
<circle class="t" cx="154.65" cy="561.14" r="1.5"/>
<circle class="r" cx="179.54" cy="559.82" r="1.5"/>
<circle class="t" cx="166.75" cy="566.42" r="1.5"/>
<circle class="t" cx="178.87" cy="561.39" r="1.5"/>
<circle class="r" cx="173.28" cy="560.24" r="1.5"/>
<circle class="t" cx="159.42" cy="562.05" r="1.5"/>
<circle class="r" cx="182.57" cy="557.7" r="1.5"/>
<circle class="t" cx="169.07" cy="559.29" r="1.5"/>
<circle class="r" cx="181.9" cy="557.31" r="1.5"/>
<circle class="t" cx="178.11" cy="556.71" r="1.5"/>
<circle class="t" cx="193.01" cy="557.96" r="1.5"/>
<circle class="t" cx="174.59" cy="557.75" r="1.5"/>
<circle class="t" cx="178.79" cy="565.31" r="1.5"/>
<circle class="t" cx="176.15" cy="564.04" r="1.5"/>
<circle class="t" cx="175.52" cy="559.17" r="1.5"/>
<circle class="r" cx="178.74" cy="554.85" r="1.5"/>
<circle class="r" cx="175.33" cy="558.8" r="1.5"/>
<circle class="t" cx="180.99" cy="556.89" r="1.5"/>
<circle class="t" cx="185.8" cy="555.11" r="1.5"/>
<circle class="t" cx="163.64" cy="559.97" r="1.5"/>
<circle class="t" cx="177.29" cy="566.04" r="1.5"/>
<circle class="t" cx="181.14" cy="561.64" r="1.5"/>
<circle class="t" cx="193.19" cy="558.19" r="1.5"/>
<circle class="t" cx="173.18" cy="559.64" r="1.5"/>
<circle class="t" cx="167.36" cy="571.85" r="1.5"/>
<circle class="t" cx="188.8" cy="555.73" r="1.5"/>
<circle class="t" cx="176.08" cy="559.83" r="1.5"/>
<circle class="t" cx="169.01" cy="565.4" r="1.5"/>
<circle class="r" cx="179.15" cy="556.53" r="1.5"/>
<circle class="t" cx="177.18" cy="556.88" r="1.5"/>
<circle class="t" cx="173.19" cy="559.42" r="1.5"/>
<circle class="r" cx="174.19" cy="556.45" r="1.5"/>
<circle class="r" cx="188.66" cy="560.24" r="1.5"/>
<circle class="t" cx="152.13" cy="560.96" r="1.5"/>
<circle class="t" cx="183.06" cy="556.14" r="1.5"/>
<circle class="t" cx="182.99" cy="553.86" r="1.5"/>
<circle class="t" cx="190.84" cy="555.49" r="1.5"/>
<circle class="t" cx="178.75" cy="553.87" r="1.5"/>
<circle class="t" cx="178.87" cy="558.72" r="1.5"/>
<circle class="t" cx="155.01" cy="564.12" r="1.5"/>
<circle class="r" cx="155.97" cy="560.67" r="1.5"/>
<circle class="r" cx="181.72" cy="564.41" r="1.5"/>
<circle class="t" cx="166.68" cy="559.44" r="1.5"/>
<circle class="t" cx="181.18" cy="554.02" r="1.5"/>
<circle class="t" cx="160.7" cy="561.22" r="1.5"/>
<circle class="t" cx="178.05" cy="556.88" r="1.5"/>
<circle class="t" cx="181.13" cy="560.05" r="1.5"/>
<circle class="t" cx="171.25" cy="564.25" r="1.5"/>
<circle class="t" cx="157.06" cy="560.81" r="1.5"/>
<circle class="r" cx="174.39" cy="556.56" r="1.5"/>
<circle class="t" cx="172.97" cy="561.66" r="1.5"/>
<circle class="t" cx="184.72" cy="553.9" r="1.5"/>
<circle class="t" cx="168.87" cy="608.25" r="1.5"/>
<circle class="t" cx="169.43" cy="567.23" r="1.5"/>
<circle class="r" cx="176.81" cy="557.15" r="1.5"/>
<circle class="r" cx="183.95" cy="557.95" r="1.5"/>
<circle class="t" cx="170.28" cy="557.53" r="1.5"/>
<circle class="t" cx="174.35" cy="561.55" r="1.5"/>
<circle class="t" cx="158.24" cy="562.15" r="1.5"/>
<circle class="t" cx="158.18" cy="560.52" r="1.5"/>
<circle class="t" cx="180.2" cy="559.94" r="1.5"/>
<circle class="t" cx="172.91" cy="560.39" r="1.5"/>
<circle class="t" cx="177.12" cy="559.27" r="1.5"/>
<circle class="t" cx="158.5" cy="564.19" r="1.5"/>
<circle class="r" cx="182.34" cy="557.25" r="1.5"/>
<circle class="r" cx="158.7" cy="560.54" r="1.5"/>
<line x1="151.1" y1="562.8" x2="193.09" y2="555.27" stroke="#F8766D" stroke-width="2.6" stroke-linecap="butt"/>
<line x1="148.93" y1="565.47" x2="193.09" y2="555.27" stroke="#00BFC4" stroke-width="2.6" stroke-linecap="butt"/>
<circle class="t" cx="240.26" cy="564.38" r="1.5"/>
<circle class="t" cx="249.73" cy="572.79" r="1.5"/>
<circle class="t" cx="255.08" cy="564.42" r="1.5"/>
<circle class="r" cx="257.78" cy="563.32" r="1.5"/>
<circle class="t" cx="254.55" cy="563.69" r="1.5"/>
<circle class="r" cx="269.66" cy="561.97" r="1.5"/>
<circle class="r" cx="261.83" cy="558.2" r="1.5"/>
<circle class="t" cx="252.95" cy="562.74" r="1.5"/>
<circle class="t" cx="234.93" cy="563.76" r="1.5"/>
<circle class="r" cx="244.09" cy="561.1" r="1.5"/>
<circle class="r" cx="269.16" cy="573.33" r="1.5"/>
<circle class="r" cx="245.23" cy="560.52" r="1.5"/>
<circle class="t" cx="253.64" cy="562.71" r="1.5"/>
<circle class="r" cx="255.68" cy="564.39" r="1.5"/>
<circle class="t" cx="247.71" cy="565.29" r="1.5"/>
<circle class="t" cx="243.75" cy="562.93" r="1.5"/>
<circle class="t" cx="258.57" cy="559.31" r="1.5"/>
<circle class="r" cx="253.05" cy="558.05" r="1.5"/>
<circle class="r" cx="251.82" cy="563.66" r="1.5"/>
<circle class="t" cx="248.87" cy="568.27" r="1.5"/>
<circle class="t" cx="255.09" cy="559.45" r="1.5"/>
<circle class="t" cx="256.38" cy="568.57" r="1.5"/>
<circle class="t" cx="253.37" cy="560.44" r="1.5"/>
<circle class="t" cx="236.15" cy="569.6" r="1.5"/>
<circle class="t" cx="244.18" cy="564.33" r="1.5"/>
<circle class="t" cx="232.44" cy="563.82" r="1.5"/>
<circle class="r" cx="266.09" cy="564.2" r="1.5"/>
<circle class="t" cx="250.62" cy="562.96" r="1.5"/>
<circle class="r" cx="231.98" cy="562.53" r="1.5"/>
<circle class="t" cx="254.72" cy="572.45" r="1.5"/>
<circle class="t" cx="266.06" cy="556.6" r="1.5"/>
<circle class="t" cx="253.56" cy="564.01" r="1.5"/>
<circle class="t" cx="247.35" cy="560.65" r="1.5"/>
<circle class="t" cx="256.24" cy="563.45" r="1.5"/>
<circle class="t" cx="237.71" cy="562.33" r="1.5"/>
<circle class="t" cx="253.94" cy="562.21" r="1.5"/>
<circle class="r" cx="248.46" cy="564.61" r="1.5"/>
<circle class="r" cx="255.2" cy="560.33" r="1.5"/>
<circle class="r" cx="262.56" cy="562.35" r="1.5"/>
<circle class="t" cx="249.91" cy="561.45" r="1.5"/>
<circle class="t" cx="270.42" cy="562.9" r="1.5"/>
<circle class="r" cx="243.62" cy="574.32" r="1.5"/>
<circle class="t" cx="255.15" cy="561.97" r="1.5"/>
<circle class="t" cx="257.63" cy="566.93" r="1.5"/>
<circle class="t" cx="237.11" cy="562.68" r="1.5"/>
<circle class="t" cx="253.65" cy="568.14" r="1.5"/>
<circle class="t" cx="254.61" cy="558.7" r="1.5"/>
<circle class="t" cx="244.57" cy="563.48" r="1.5"/>
<circle class="r" cx="250.71" cy="565.42" r="1.5"/>
<circle class="t" cx="253.47" cy="570.1" r="1.5"/>
<circle class="r" cx="270.75" cy="561.62" r="1.5"/>
<circle class="t" cx="253.65" cy="560.06" r="1.5"/>
<circle class="t" cx="256.1" cy="564.62" r="1.5"/>
<circle class="t" cx="258.19" cy="559.16" r="1.5"/>
<circle class="t" cx="252.89" cy="561.47" r="1.5"/>
<circle class="r" cx="262.88" cy="559.05" r="1.5"/>
<circle class="t" cx="240.21" cy="560.83" r="1.5"/>
<circle class="t" cx="244.79" cy="560.56" r="1.5"/>
<circle class="t" cx="235.93" cy="580.75" r="1.5"/>
<circle class="t" cx="254.17" cy="565.46" r="1.5"/>
<circle class="t" cx="242.34" cy="560.88" r="1.5"/>
<circle class="r" cx="247.21" cy="563.24" r="1.5"/>
<circle class="t" cx="243.48" cy="566.73" r="1.5"/>
<circle class="r" cx="227.75" cy="563.6" r="1.5"/>
<circle class="r" cx="262.87" cy="565.8" r="1.5"/>
<circle class="t" cx="267.56" cy="557.14" r="1.5"/>
<circle class="t" cx="236.93" cy="559.91" r="1.5"/>
<circle class="r" cx="245.25" cy="562.07" r="1.5"/>
<circle class="t" cx="270.44" cy="565.83" r="1.5"/>
<circle class="t" cx="252.02" cy="560.84" r="1.5"/>
<circle class="r" cx="251.72" cy="569.93" r="1.5"/>
<circle class="t" cx="249.93" cy="570.86" r="1.5"/>
<circle class="t" cx="242.7" cy="563.11" r="1.5"/>
<circle class="t" cx="249.11" cy="564.15" r="1.5"/>
<circle class="t" cx="259.36" cy="561.46" r="1.5"/>
<circle class="r" cx="252.76" cy="556.56" r="1.5"/>
<circle class="t" cx="255.67" cy="566.95" r="1.5"/>
<circle class="t" cx="253.3" cy="563.79" r="1.5"/>
<circle class="t" cx="253.58" cy="561.62" r="1.5"/>
<circle class="t" cx="258.97" cy="561.14" r="1.5"/>
<circle class="r" cx="260.07" cy="558.22" r="1.5"/>
<circle class="t" cx="255.54" cy="560.44" r="1.5"/>
<circle class="t" cx="248.68" cy="559.32" r="1.5"/>
<circle class="r" cx="261.69" cy="558.78" r="1.5"/>
<circle class="r" cx="258.14" cy="572.86" r="1.5"/>
<circle class="r" cx="227.78" cy="562.29" r="1.5"/>
<circle class="t" cx="256.22" cy="556.82" r="1.5"/>
<circle class="t" cx="239.51" cy="576.61" r="1.5"/>
<circle class="r" cx="262.49" cy="559.31" r="1.5"/>
<circle class="t" cx="245.92" cy="565.7" r="1.5"/>
<circle class="t" cx="268.27" cy="564.26" r="1.5"/>
<circle class="r" cx="258.04" cy="555.99" r="1.5"/>
<circle class="t" cx="267.04" cy="570.04" r="1.5"/>
<circle class="r" cx="236.85" cy="561.42" r="1.5"/>
<circle class="r" cx="257.72" cy="561.53" r="1.5"/>
<circle class="r" cx="267.78" cy="561.45" r="1.5"/>
<circle class="t" cx="253.5" cy="568.54" r="1.5"/>
<circle class="t" cx="263.23" cy="565.84" r="1.5"/>
<circle class="r" cx="260" cy="559.11" r="1.5"/>
<circle class="t" cx="238.13" cy="560.39" r="1.5"/>
<circle class="t" cx="255.38" cy="566.66" r="1.5"/>
<circle class="r" cx="251.62" cy="558.99" r="1.5"/>
<circle class="t" cx="255.82" cy="561.78" r="1.5"/>
<circle class="t" cx="250.02" cy="572.58" r="1.5"/>
<circle class="r" cx="236.11" cy="565.32" r="1.5"/>
<circle class="t" cx="250.44" cy="563.85" r="1.5"/>
<circle class="t" cx="266.23" cy="566.31" r="1.5"/>
<circle class="t" cx="252.48" cy="562.28" r="1.5"/>
<circle class="t" cx="254.82" cy="560.95" r="1.5"/>
<circle class="t" cx="235.67" cy="575.79" r="1.5"/>
<circle class="t" cx="229.68" cy="571.92" r="1.5"/>
<circle class="t" cx="228.13" cy="572.11" r="1.5"/>
<circle class="t" cx="262.73" cy="558.51" r="1.5"/>
<circle class="r" cx="253.33" cy="558.92" r="1.5"/>
<circle class="r" cx="259.66" cy="557.87" r="1.5"/>
<circle class="r" cx="256.14" cy="569.28" r="1.5"/>
<circle class="t" cx="248.04" cy="563.71" r="1.5"/>
<circle class="r" cx="256.17" cy="562.17" r="1.5"/>
<circle class="t" cx="242.22" cy="572.73" r="1.5"/>
<circle class="t" cx="259.51" cy="563.85" r="1.5"/>
<circle class="t" cx="228.45" cy="567.03" r="1.5"/>
<circle class="t" cx="256.52" cy="561.85" r="1.5"/>
<circle class="r" cx="259.35" cy="559.75" r="1.5"/>
<circle class="t" cx="244.43" cy="561.84" r="1.5"/>
<circle class="r" cx="256.58" cy="568.97" r="1.5"/>
<circle class="r" cx="249.57" cy="562.34" r="1.5"/>
<circle class="t" cx="267.57" cy="554.81" r="1.5"/>
<circle class="t" cx="269.27" cy="557.73" r="1.5"/>
<circle class="t" cx="241.07" cy="562.54" r="1.5"/>
<circle class="t" cx="235.64" cy="561.77" r="1.5"/>
<circle class="t" cx="255.07" cy="562.59" r="1.5"/>
<circle class="r" cx="259.62" cy="559.99" r="1.5"/>
<circle class="t" cx="249.32" cy="558.28" r="1.5"/>
<circle class="t" cx="251.78" cy="562.72" r="1.5"/>
<circle class="t" cx="254.78" cy="562.2" r="1.5"/>
<circle class="t" cx="247.9" cy="570.18" r="1.5"/>
<circle class="r" cx="250.59" cy="559.27" r="1.5"/>
<circle class="r" cx="250.71" cy="570.23" r="1.5"/>
<circle class="t" cx="256.51" cy="558.34" r="1.5"/>
<circle class="t" cx="246.86" cy="567.86" r="1.5"/>
<circle class="t" cx="230.41" cy="560.18" r="1.5"/>
<circle class="r" cx="242.64" cy="559.12" r="1.5"/>
<circle class="t" cx="251.27" cy="560.26" r="1.5"/>
<circle class="t" cx="262.15" cy="567.3" r="1.5"/>
<circle class="r" cx="252.46" cy="559.64" r="1.5"/>
<circle class="t" cx="250.61" cy="562.15" r="1.5"/>
<circle class="t" cx="232.08" cy="571.53" r="1.5"/>
<circle class="r" cx="254.24" cy="557.67" r="1.5"/>
<circle class="t" cx="247.31" cy="561.6" r="1.5"/>
<circle class="t" cx="261.21" cy="566.77" r="1.5"/>
<circle class="t" cx="250.09" cy="568.92" r="1.5"/>
<circle class="t" cx="255.52" cy="561.01" r="1.5"/>
<circle class="t" cx="246.44" cy="557.81" r="1.5"/>
<circle class="t" cx="249.37" cy="568.83" r="1.5"/>
<circle class="t" cx="235.61" cy="572.5" r="1.5"/>
<circle class="r" cx="261.38" cy="558.87" r="1.5"/>
<circle class="t" cx="243.16" cy="563.72" r="1.5"/>
<circle class="t" cx="254.55" cy="575.41" r="1.5"/>
<circle class="t" cx="262.33" cy="560.04" r="1.5"/>
<circle class="t" cx="240.45" cy="567.64" r="1.5"/>
<circle class="t" cx="255.48" cy="560.91" r="1.5"/>
<circle class="t" cx="244.11" cy="566.52" r="1.5"/>
<circle class="r" cx="259.33" cy="564.21" r="1.5"/>
<circle class="t" cx="254.29" cy="563.11" r="1.5"/>
<circle class="t" cx="232.1" cy="566.95" r="1.5"/>
<circle class="t" cx="245.51" cy="562.25" r="1.5"/>
<circle class="t" cx="246.83" cy="562.26" r="1.5"/>
<circle class="t" cx="269.72" cy="562.6" r="1.5"/>
<circle class="r" cx="233.4" cy="567.76" r="1.5"/>
<circle class="t" cx="269.36" cy="555.37" r="1.5"/>
<circle class="t" cx="253.51" cy="569.95" r="1.5"/>
<circle class="t" cx="246.88" cy="561.55" r="1.5"/>
<circle class="t" cx="235.93" cy="565.54" r="1.5"/>
<circle class="t" cx="252.72" cy="569.29" r="1.5"/>
<circle class="t" cx="245.27" cy="572.92" r="1.5"/>
<circle class="t" cx="229.56" cy="566.99" r="1.5"/>
<circle class="r" cx="238.03" cy="563.95" r="1.5"/>
<circle class="t" cx="265.34" cy="564.55" r="1.5"/>
<circle class="r" cx="254.79" cy="560.48" r="1.5"/>
<circle class="t" cx="255.16" cy="565.38" r="1.5"/>
<circle class="t" cx="250.68" cy="566.53" r="1.5"/>
<circle class="t" cx="256.3" cy="560.58" r="1.5"/>
<circle class="t" cx="248.15" cy="561.53" r="1.5"/>
<circle class="t" cx="258.61" cy="559.98" r="1.5"/>
<circle class="r" cx="249.68" cy="573.71" r="1.5"/>
<circle class="t" cx="266.64" cy="563.02" r="1.5"/>
<circle class="t" cx="233.2" cy="562.22" r="1.5"/>
<circle class="t" cx="256.3" cy="570.87" r="1.5"/>
<circle class="t" cx="265.18" cy="562.97" r="1.5"/>
<circle class="t" cx="228.53" cy="565.29" r="1.5"/>
<circle class="t" cx="260.42" cy="560.59" r="1.5"/>
<circle class="t" cx="237.92" cy="562.95" r="1.5"/>
<circle class="r" cx="236.95" cy="565.55" r="1.5"/>
<circle class="r" cx="252.96" cy="560.54" r="1.5"/>
<circle class="t" cx="265.85" cy="568.83" r="1.5"/>
<circle class="t" cx="253.1" cy="560.84" r="1.5"/>
<circle class="t" cx="248.77" cy="563.15" r="1.5"/>
<circle class="t" cx="252.77" cy="561.78" r="1.5"/>
<circle class="t" cx="248.01" cy="576.36" r="1.5"/>
<circle class="t" cx="233.35" cy="571.67" r="1.5"/>
<circle class="t" cx="246.36" cy="600.06" r="1.5"/>
<circle class="t" cx="254.96" cy="559.02" r="1.5"/>
<circle class="t" cx="258.56" cy="567.39" r="1.5"/>
<circle class="r" cx="248.07" cy="561" r="1.5"/>
<circle class="t" cx="240.55" cy="562.73" r="1.5"/>
<circle class="r" cx="236.13" cy="562.97" r="1.5"/>
<circle class="t" cx="266.47" cy="560.93" r="1.5"/>
<circle class="t" cx="230.53" cy="570.12" r="1.5"/>
<circle class="r" cx="250.56" cy="571.35" r="1.5"/>
<circle class="t" cx="250.04" cy="564.03" r="1.5"/>
<circle class="t" cx="250.4" cy="573.34" r="1.5"/>
<circle class="t" cx="239.72" cy="568.37" r="1.5"/>
<circle class="t" cx="241.8" cy="562.63" r="1.5"/>
<circle class="t" cx="258.42" cy="570.29" r="1.5"/>
<circle class="r" cx="248.8" cy="565.29" r="1.5"/>
<circle class="t" cx="247.78" cy="563.33" r="1.5"/>
<circle class="t" cx="255.59" cy="579.4" r="1.5"/>
<circle class="r" cx="244.79" cy="562.15" r="1.5"/>
<circle class="t" cx="246.5" cy="557.62" r="1.5"/>
<circle class="t" cx="254.89" cy="557.8" r="1.5"/>
<circle class="t" cx="248.98" cy="562.44" r="1.5"/>
<circle class="t" cx="263.41" cy="563.87" r="1.5"/>
<circle class="t" cx="241.27" cy="575.05" r="1.5"/>
<circle class="t" cx="267.22" cy="559.9" r="1.5"/>
<circle class="t" cx="256.18" cy="561.54" r="1.5"/>
<circle class="r" cx="255.75" cy="557.37" r="1.5"/>
<circle class="t" cx="236.85" cy="568.72" r="1.5"/>
<circle class="t" cx="230.23" cy="567.22" r="1.5"/>
<circle class="t" cx="236.75" cy="573.98" r="1.5"/>
<circle class="r" cx="242.74" cy="561" r="1.5"/>
<circle class="t" cx="265.26" cy="558.27" r="1.5"/>
<circle class="t" cx="228.04" cy="563.73" r="1.5"/>
<circle class="t" cx="246.52" cy="560.61" r="1.5"/>
<circle class="t" cx="260.49" cy="560.1" r="1.5"/>
<circle class="t" cx="260.07" cy="567.96" r="1.5"/>
<circle class="t" cx="250.34" cy="566.76" r="1.5"/>
<circle class="t" cx="253.01" cy="565.94" r="1.5"/>
<circle class="t" cx="250.14" cy="558.22" r="1.5"/>
<circle class="r" cx="269.06" cy="563.35" r="1.5"/>
<circle class="r" cx="256.97" cy="559.61" r="1.5"/>
<circle class="r" cx="259.77" cy="558.21" r="1.5"/>
<circle class="r" cx="266.71" cy="561.73" r="1.5"/>
<circle class="t" cx="250.13" cy="567.91" r="1.5"/>
<circle class="r" cx="240.7" cy="564.84" r="1.5"/>
<circle class="t" cx="253.49" cy="561.04" r="1.5"/>
<circle class="t" cx="258.85" cy="563.05" r="1.5"/>
<circle class="t" cx="249.85" cy="568.14" r="1.5"/>
<circle class="r" cx="253.16" cy="561.85" r="1.5"/>
<circle class="r" cx="255.72" cy="558.3" r="1.5"/>
<circle class="t" cx="259.12" cy="559.45" r="1.5"/>
<circle class="t" cx="255.8" cy="561.4" r="1.5"/>
<circle class="r" cx="258.22" cy="558.36" r="1.5"/>
<circle class="t" cx="230.61" cy="573.23" r="1.5"/>
<circle class="t" cx="248.37" cy="563.93" r="1.5"/>
<circle class="r" cx="255.42" cy="559.83" r="1.5"/>
<circle class="r" cx="235.69" cy="570.35" r="1.5"/>
<circle class="t" cx="253.53" cy="564.05" r="1.5"/>
<circle class="t" cx="234.49" cy="568.37" r="1.5"/>
<circle class="t" cx="246.85" cy="563.91" r="1.5"/>
<circle class="r" cx="259.15" cy="565.9" r="1.5"/>
<circle class="t" cx="269.88" cy="556.22" r="1.5"/>
<circle class="t" cx="253.94" cy="559.62" r="1.5"/>
<circle class="t" cx="252.53" cy="575.68" r="1.5"/>
<circle class="t" cx="247.85" cy="562.9" r="1.5"/>
<circle class="t" cx="270.62" cy="560.02" r="1.5"/>
<circle class="t" cx="266.04" cy="560.91" r="1.5"/>
<line x1="226.55" y1="563.75" x2="270.83" y2="559.84" stroke="#F8766D" stroke-width="2.6" stroke-linecap="butt"/>
<line x1="226.55" y1="566.04" x2="270.83" y2="560.51" stroke="#00BFC4" stroke-width="2.6" stroke-linecap="butt"/>
<circle class="r" cx="321.05" cy="589.17" r="1.5"/>
<circle class="t" cx="309.87" cy="582.01" r="1.5"/>
<circle class="t" cx="327.28" cy="586.17" r="1.5"/>
<circle class="r" cx="314.28" cy="584.91" r="1.5"/>
<circle class="t" cx="313.04" cy="587.05" r="1.5"/>
<circle class="r" cx="334.01" cy="617.5" r="1.5"/>
<circle class="t" cx="326.3" cy="613.19" r="1.5"/>
<circle class="t" cx="332.32" cy="621.68" r="1.5"/>
<circle class="r" cx="327.11" cy="615.19" r="1.5"/>
<circle class="r" cx="346.49" cy="623.3" r="1.5"/>
<circle class="r" cx="340.3" cy="581.03" r="1.5"/>
<circle class="r" cx="339.99" cy="626.5" r="1.5"/>
<circle class="t" cx="312.36" cy="611" r="1.5"/>
<circle class="r" cx="310.83" cy="616.34" r="1.5"/>
<circle class="t" cx="337.92" cy="619.3" r="1.5"/>
<circle class="t" cx="318.5" cy="616.75" r="1.5"/>
<circle class="t" cx="316.94" cy="590.2" r="1.5"/>
<circle class="t" cx="305.88" cy="618.82" r="1.5"/>
<circle class="t" cx="333.23" cy="622.54" r="1.5"/>
<circle class="t" cx="327.16" cy="615.88" r="1.5"/>
<circle class="r" cx="329.89" cy="621.01" r="1.5"/>
<circle class="t" cx="347.15" cy="583.21" r="1.5"/>
<circle class="t" cx="325.21" cy="624.62" r="1.5"/>
<circle class="t" cx="332.81" cy="620.06" r="1.5"/>
<circle class="r" cx="330.59" cy="622.8" r="1.5"/>
<circle class="t" cx="330.53" cy="628.34" r="1.5"/>
<circle class="r" cx="313.12" cy="619.02" r="1.5"/>
<circle class="t" cx="333.95" cy="614.31" r="1.5"/>
<circle class="t" cx="336.28" cy="604.34" r="1.5"/>
<circle class="t" cx="307.84" cy="613.7" r="1.5"/>
<circle class="t" cx="342.69" cy="625.21" r="1.5"/>
<circle class="t" cx="324.74" cy="582.64" r="1.5"/>
<circle class="t" cx="335.99" cy="587.25" r="1.5"/>
<circle class="t" cx="332.58" cy="576.75" r="1.5"/>
<circle class="t" cx="332.15" cy="623.24" r="1.5"/>
<circle class="t" cx="346.7" cy="623.39" r="1.5"/>
<circle class="r" cx="333.57" cy="619.93" r="1.5"/>
<circle class="t" cx="326.2" cy="613.83" r="1.5"/>
<circle class="t" cx="327.47" cy="627.9" r="1.5"/>
<circle class="r" cx="331.67" cy="615.85" r="1.5"/>
<circle class="t" cx="331.01" cy="610.87" r="1.5"/>
<circle class="t" cx="326.8" cy="583.95" r="1.5"/>
<circle class="t" cx="327.87" cy="624.74" r="1.5"/>
<circle class="t" cx="336" cy="589.53" r="1.5"/>
<circle class="t" cx="337.5" cy="580.47" r="1.5"/>
<circle class="t" cx="332.97" cy="585.72" r="1.5"/>
<circle class="r" cx="348.18" cy="621.88" r="1.5"/>
<circle class="t" cx="305.56" cy="608.62" r="1.5"/>
<circle class="r" cx="335.47" cy="611.1" r="1.5"/>
<circle class="t" cx="326.54" cy="617.14" r="1.5"/>
<circle class="t" cx="311.92" cy="610.02" r="1.5"/>
<circle class="r" cx="332.85" cy="614.25" r="1.5"/>
<circle class="t" cx="336.79" cy="579.96" r="1.5"/>
<circle class="t" cx="327.36" cy="618.03" r="1.5"/>
<circle class="t" cx="320.91" cy="621.16" r="1.5"/>
<circle class="r" cx="329.05" cy="590.22" r="1.5"/>
<circle class="t" cx="313.58" cy="583.04" r="1.5"/>
<circle class="t" cx="331.07" cy="615.22" r="1.5"/>
<circle class="t" cx="305.96" cy="623.06" r="1.5"/>
<circle class="t" cx="331.37" cy="621.52" r="1.5"/>
<circle class="r" cx="325.89" cy="589.87" r="1.5"/>
<circle class="r" cx="326.23" cy="623.11" r="1.5"/>
<circle class="t" cx="331.98" cy="558.05" r="1.5"/>
<circle class="t" cx="340.66" cy="583.86" r="1.5"/>
<circle class="r" cx="335.15" cy="588.88" r="1.5"/>
<circle class="t" cx="323.95" cy="616.13" r="1.5"/>
<circle class="r" cx="328.02" cy="583.74" r="1.5"/>
<circle class="t" cx="321.86" cy="580.13" r="1.5"/>
<circle class="t" cx="322.22" cy="587.52" r="1.5"/>
<circle class="t" cx="331.6" cy="615.45" r="1.5"/>
<circle class="r" cx="334.4" cy="586.54" r="1.5"/>
<circle class="t" cx="343.49" cy="556.67" r="1.5"/>
<circle class="t" cx="344.65" cy="610.41" r="1.5"/>
<circle class="t" cx="322.94" cy="587.3" r="1.5"/>
<circle class="r" cx="339.26" cy="576.56" r="1.5"/>
<circle class="t" cx="325.28" cy="627.98" r="1.5"/>
<circle class="r" cx="336.78" cy="614.74" r="1.5"/>
<circle class="t" cx="331.08" cy="592.19" r="1.5"/>
<circle class="t" cx="317.88" cy="614.66" r="1.5"/>
<circle class="r" cx="337.43" cy="581" r="1.5"/>
<circle class="t" cx="332.59" cy="625.42" r="1.5"/>
<circle class="t" cx="327.52" cy="613.87" r="1.5"/>
<circle class="t" cx="332.91" cy="616.29" r="1.5"/>
<circle class="t" cx="328.04" cy="611.61" r="1.5"/>
<circle class="t" cx="332.25" cy="575.75" r="1.5"/>
<circle class="t" cx="336.04" cy="580.83" r="1.5"/>
<circle class="t" cx="314.18" cy="627.55" r="1.5"/>
<circle class="t" cx="317.64" cy="628.44" r="1.5"/>
<circle class="t" cx="338.64" cy="582.97" r="1.5"/>
<circle class="t" cx="343.66" cy="583.31" r="1.5"/>
<circle class="t" cx="329.21" cy="619.13" r="1.5"/>
<circle class="r" cx="336.58" cy="582.03" r="1.5"/>
<circle class="r" cx="346.59" cy="620.56" r="1.5"/>
<circle class="r" cx="335.65" cy="626.12" r="1.5"/>
<circle class="t" cx="333.67" cy="584.18" r="1.5"/>
<circle class="t" cx="325.33" cy="618.25" r="1.5"/>
<circle class="r" cx="337.09" cy="618.85" r="1.5"/>
<circle class="t" cx="309.51" cy="582.94" r="1.5"/>
<circle class="t" cx="324.78" cy="615" r="1.5"/>
<circle class="t" cx="320.59" cy="584.26" r="1.5"/>
<circle class="t" cx="331.98" cy="588.05" r="1.5"/>
<circle class="r" cx="335.57" cy="609.2" r="1.5"/>
<circle class="r" cx="320.17" cy="620.8" r="1.5"/>
<circle class="t" cx="317.69" cy="613.19" r="1.5"/>
<circle class="t" cx="343.28" cy="614.89" r="1.5"/>
<circle class="t" cx="344.47" cy="581.78" r="1.5"/>
<circle class="r" cx="333.11" cy="575.71" r="1.5"/>
<circle class="t" cx="330.8" cy="607.53" r="1.5"/>
<circle class="t" cx="319.77" cy="578.06" r="1.5"/>
<circle class="r" cx="333.18" cy="576.33" r="1.5"/>
<circle class="r" cx="333.15" cy="623.77" r="1.5"/>
<circle class="t" cx="323.35" cy="618.96" r="1.5"/>
<circle class="t" cx="342.77" cy="580.25" r="1.5"/>
<circle class="t" cx="321.18" cy="610.78" r="1.5"/>
<circle class="t" cx="330.2" cy="557.1" r="1.5"/>
<circle class="t" cx="310.63" cy="624.17" r="1.5"/>
<circle class="t" cx="331.72" cy="585.02" r="1.5"/>
<circle class="r" cx="338.81" cy="557.62" r="1.5"/>
<circle class="r" cx="330.39" cy="623.19" r="1.5"/>
<circle class="t" cx="345.7" cy="554.05" r="1.5"/>
<circle class="r" cx="343.52" cy="617.62" r="1.5"/>
<circle class="r" cx="337.2" cy="616.93" r="1.5"/>
<circle class="r" cx="332.22" cy="556.61" r="1.5"/>
<circle class="t" cx="314.36" cy="580.37" r="1.5"/>
<circle class="t" cx="330.96" cy="618.91" r="1.5"/>
<circle class="r" cx="347.09" cy="614.94" r="1.5"/>
<circle class="t" cx="328.05" cy="585.33" r="1.5"/>
<circle class="r" cx="313.56" cy="621.35" r="1.5"/>
<circle class="t" cx="346.79" cy="580.04" r="1.5"/>
<circle class="t" cx="333.61" cy="581.31" r="1.5"/>
<circle class="t" cx="333.81" cy="594.09" r="1.5"/>
<circle class="t" cx="325.47" cy="620.5" r="1.5"/>
<circle class="r" cx="322.22" cy="625.49" r="1.5"/>
<circle class="t" cx="327.77" cy="620.26" r="1.5"/>
<circle class="t" cx="333.1" cy="618.44" r="1.5"/>
<circle class="r" cx="305.18" cy="553.52" r="1.5"/>
<circle class="t" cx="329.45" cy="613.44" r="1.5"/>
<circle class="r" cx="325.5" cy="616.82" r="1.5"/>
<circle class="t" cx="344.07" cy="618.31" r="1.5"/>
<circle class="t" cx="328.7" cy="556.4" r="1.5"/>
<circle class="r" cx="309.41" cy="621.38" r="1.5"/>
<circle class="t" cx="339.58" cy="618.61" r="1.5"/>
<circle class="t" cx="314.54" cy="617.66" r="1.5"/>
<circle class="r" cx="321.52" cy="627.47" r="1.5"/>
<circle class="r" cx="313.54" cy="588.71" r="1.5"/>
<circle class="t" cx="332.5" cy="577.54" r="1.5"/>
<circle class="t" cx="323.93" cy="581.08" r="1.5"/>
<circle class="t" cx="345" cy="583.56" r="1.5"/>
<circle class="t" cx="324.29" cy="616.82" r="1.5"/>
<circle class="r" cx="337.5" cy="626.98" r="1.5"/>
<circle class="t" cx="336.4" cy="626.27" r="1.5"/>
<circle class="t" cx="325.44" cy="612.86" r="1.5"/>
<circle class="t" cx="326.41" cy="576.05" r="1.5"/>
<circle class="t" cx="343.9" cy="616.26" r="1.5"/>
<circle class="r" cx="339.12" cy="614.61" r="1.5"/>
<circle class="r" cx="322.68" cy="579.55" r="1.5"/>
<circle class="t" cx="333.65" cy="588.67" r="1.5"/>
<circle class="r" cx="330.76" cy="619.5" r="1.5"/>
<circle class="t" cx="337.85" cy="584.29" r="1.5"/>
<circle class="t" cx="321.61" cy="621.59" r="1.5"/>
<circle class="t" cx="326.11" cy="585.76" r="1.5"/>
<circle class="r" cx="335.21" cy="619.14" r="1.5"/>
<circle class="t" cx="307.66" cy="555.42" r="1.5"/>
<circle class="t" cx="335.85" cy="573.18" r="1.5"/>
<circle class="r" cx="332.63" cy="581.03" r="1.5"/>
<circle class="t" cx="327.57" cy="618.66" r="1.5"/>
<circle class="t" cx="324.31" cy="590.66" r="1.5"/>
<circle class="r" cx="327.99" cy="586.84" r="1.5"/>
<circle class="t" cx="330.38" cy="552.26" r="1.5"/>
<circle class="t" cx="336.94" cy="614.06" r="1.5"/>
<circle class="t" cx="333.73" cy="620.36" r="1.5"/>
<circle class="t" cx="315.14" cy="573.37" r="1.5"/>
<circle class="t" cx="317.98" cy="617.44" r="1.5"/>
<circle class="t" cx="313.36" cy="622.15" r="1.5"/>
<circle class="t" cx="325.58" cy="617.07" r="1.5"/>
<circle class="t" cx="310.78" cy="619.86" r="1.5"/>
<circle class="t" cx="330.73" cy="620.55" r="1.5"/>
<circle class="t" cx="347.87" cy="622.21" r="1.5"/>
<circle class="t" cx="319.23" cy="557.29" r="1.5"/>
<circle class="t" cx="347.85" cy="609.7" r="1.5"/>
<circle class="t" cx="333.73" cy="585.31" r="1.5"/>
<circle class="r" cx="330.19" cy="624.07" r="1.5"/>
<circle class="t" cx="320.13" cy="581.19" r="1.5"/>
<circle class="r" cx="328.14" cy="620.8" r="1.5"/>
<circle class="t" cx="329.96" cy="584.92" r="1.5"/>
<circle class="t" cx="331.08" cy="613.83" r="1.5"/>
<circle class="r" cx="322.66" cy="618.25" r="1.5"/>
<circle class="t" cx="328.11" cy="585.03" r="1.5"/>
<circle class="t" cx="333.94" cy="579.99" r="1.5"/>
<circle class="t" cx="308.04" cy="551.83" r="1.5"/>
<circle class="t" cx="330.94" cy="586.31" r="1.5"/>
<circle class="t" cx="314.28" cy="584.4" r="1.5"/>
<circle class="t" cx="333.25" cy="616.88" r="1.5"/>
<circle class="t" cx="327.83" cy="622.3" r="1.5"/>
<circle class="r" cx="320.07" cy="613.2" r="1.5"/>
<circle class="r" cx="329.25" cy="589.86" r="1.5"/>
<circle class="r" cx="330.48" cy="616.06" r="1.5"/>
<circle class="r" cx="344.14" cy="592.23" r="1.5"/>
<circle class="t" cx="344.99" cy="595.88" r="1.5"/>
<circle class="r" cx="333.6" cy="589.17" r="1.5"/>
<circle class="t" cx="342.61" cy="616.02" r="1.5"/>
<circle class="r" cx="327" cy="622.05" r="1.5"/>
<circle class="t" cx="315.35" cy="626.27" r="1.5"/>
<circle class="t" cx="339.76" cy="584.76" r="1.5"/>
<circle class="t" cx="305.47" cy="623.06" r="1.5"/>
<circle class="r" cx="345.21" cy="629.2" r="1.5"/>
<circle class="t" cx="319.65" cy="617.78" r="1.5"/>
<circle class="t" cx="313.07" cy="621.17" r="1.5"/>
<circle class="t" cx="332.51" cy="625.92" r="1.5"/>
<circle class="t" cx="313.1" cy="583.75" r="1.5"/>
<circle class="t" cx="322.7" cy="616.92" r="1.5"/>
<circle class="t" cx="325.8" cy="573.54" r="1.5"/>
<circle class="t" cx="332.52" cy="615.03" r="1.5"/>
<circle class="t" cx="348.05" cy="618.01" r="1.5"/>
<circle class="t" cx="327.45" cy="613.45" r="1.5"/>
<circle class="r" cx="340.31" cy="618.02" r="1.5"/>
<circle class="t" cx="333.53" cy="594.51" r="1.5"/>
<circle class="t" cx="330.93" cy="621.7" r="1.5"/>
<circle class="t" cx="330.99" cy="613.72" r="1.5"/>
<circle class="t" cx="321.54" cy="581.13" r="1.5"/>
<circle class="t" cx="313.36" cy="617.78" r="1.5"/>
<circle class="t" cx="330.15" cy="580.57" r="1.5"/>
<circle class="t" cx="332.04" cy="590.81" r="1.5"/>
<circle class="t" cx="335.62" cy="615.11" r="1.5"/>
<circle class="r" cx="328.14" cy="614.76" r="1.5"/>
<circle class="t" cx="330.92" cy="584.65" r="1.5"/>
<circle class="t" cx="307.11" cy="579.02" r="1.5"/>
<circle class="t" cx="347.31" cy="616.02" r="1.5"/>
<circle class="t" cx="332.39" cy="578.68" r="1.5"/>
<circle class="t" cx="324.26" cy="616.2" r="1.5"/>
<circle class="t" cx="343.47" cy="619.84" r="1.5"/>
<circle class="r" cx="315.46" cy="616.95" r="1.5"/>
<circle class="t" cx="330.32" cy="626.52" r="1.5"/>
<circle class="t" cx="331.37" cy="585.88" r="1.5"/>
<circle class="t" cx="309.53" cy="608.56" r="1.5"/>
<circle class="t" cx="335.06" cy="609.51" r="1.5"/>
<circle class="t" cx="318.7" cy="614.88" r="1.5"/>
<circle class="r" cx="337.05" cy="583.13" r="1.5"/>
<circle class="t" cx="332.95" cy="620.84" r="1.5"/>
<circle class="t" cx="315.56" cy="584.05" r="1.5"/>
<circle class="t" cx="307.96" cy="579.61" r="1.5"/>
<circle class="t" cx="340.16" cy="579.19" r="1.5"/>
<circle class="t" cx="323.87" cy="585.34" r="1.5"/>
<circle class="t" cx="306.99" cy="615.89" r="1.5"/>
<circle class="t" cx="322" cy="615.74" r="1.5"/>
<circle class="r" cx="339.92" cy="593.57" r="1.5"/>
<circle class="r" cx="305.21" cy="616.54" r="1.5"/>
<circle class="t" cx="325.14" cy="610.11" r="1.5"/>
<circle class="r" cx="336.76" cy="616.61" r="1.5"/>
<circle class="t" cx="330.44" cy="582.82" r="1.5"/>
<circle class="r" cx="314.38" cy="577.57" r="1.5"/>
<circle class="r" cx="324.64" cy="591.3" r="1.5"/>
<circle class="t" cx="333.02" cy="616.04" r="1.5"/>
<circle class="r" cx="318.13" cy="613.21" r="1.5"/>
<circle class="t" cx="340.84" cy="616.25" r="1.5"/>
<circle class="t" cx="327.56" cy="586.23" r="1.5"/>
<circle class="t" cx="327.34" cy="625.26" r="1.5"/>
<circle class="t" cx="329.91" cy="586.86" r="1.5"/>
<circle class="r" cx="329.15" cy="612.97" r="1.5"/>
<circle class="t" cx="326.75" cy="597.47" r="1.5"/>
<circle class="t" cx="324.28" cy="616.51" r="1.5"/>
<circle class="t" cx="317.15" cy="585.99" r="1.5"/>
<circle class="t" cx="336.55" cy="576.47" r="1.5"/>
<circle class="t" cx="330.9" cy="579.99" r="1.5"/>
<circle class="t" cx="332.21" cy="579.95" r="1.5"/>
<line x1="305.13" y1="605.97" x2="348.2" y2="604.73" stroke="#F8766D" stroke-width="2.6" stroke-linecap="butt"/>
<line x1="304.05" y1="613.78" x2="348.2" y2="600.82" stroke="#00BFC4" stroke-width="2.6" stroke-linecap="butt"/>
<circle class="t" cx="390.5" cy="625.13" r="1.5"/>
<circle class="t" cx="400.78" cy="636.93" r="1.5"/>
<circle class="t" cx="391.71" cy="633.83" r="1.5"/>
<circle class="t" cx="389.35" cy="624.09" r="1.5"/>
<circle class="t" cx="398.34" cy="626.45" r="1.5"/>
<circle class="t" cx="422.42" cy="643.9" r="1.5"/>
<circle class="r" cx="404.54" cy="636.04" r="1.5"/>
<circle class="r" cx="420.95" cy="631.32" r="1.5"/>
<circle class="r" cx="402.07" cy="635.08" r="1.5"/>
<circle class="r" cx="416.55" cy="637.35" r="1.5"/>
<circle class="t" cx="410.24" cy="628.94" r="1.5"/>
<circle class="t" cx="411.24" cy="634.86" r="1.5"/>
<circle class="t" cx="409.41" cy="629.36" r="1.5"/>
<circle class="r" cx="382.61" cy="628.13" r="1.5"/>
<circle class="t" cx="390.79" cy="632.08" r="1.5"/>
<circle class="t" cx="410.45" cy="635.4" r="1.5"/>
<circle class="r" cx="407.91" cy="633.78" r="1.5"/>
<circle class="t" cx="423.13" cy="643.9" r="1.5"/>
<circle class="r" cx="398.48" cy="639.54" r="1.5"/>
<circle class="t" cx="407.34" cy="629.6" r="1.5"/>
<circle class="t" cx="411.16" cy="633.77" r="1.5"/>
<circle class="t" cx="407.87" cy="630.53" r="1.5"/>
<circle class="t" cx="408.37" cy="637.23" r="1.5"/>
<circle class="t" cx="399.65" cy="632.64" r="1.5"/>
<circle class="t" cx="407.58" cy="640.04" r="1.5"/>
<circle class="t" cx="414.37" cy="634.4" r="1.5"/>
<circle class="r" cx="410.54" cy="637.68" r="1.5"/>
<circle class="t" cx="385.47" cy="632.62" r="1.5"/>
<circle class="r" cx="406.58" cy="634.49" r="1.5"/>
<circle class="r" cx="421.57" cy="640.75" r="1.5"/>
<circle class="t" cx="402.87" cy="634.54" r="1.5"/>
<circle class="t" cx="410.34" cy="627.73" r="1.5"/>
<circle class="t" cx="383.39" cy="627.8" r="1.5"/>
<circle class="r" cx="417.35" cy="635.85" r="1.5"/>
<circle class="t" cx="408.39" cy="629.47" r="1.5"/>
<circle class="r" cx="414.86" cy="637.26" r="1.5"/>
<circle class="t" cx="424.58" cy="633.88" r="1.5"/>
<circle class="t" cx="411.37" cy="632.61" r="1.5"/>
<circle class="r" cx="412.64" cy="639.13" r="1.5"/>
<circle class="r" cx="425.61" cy="636.97" r="1.5"/>
<circle class="r" cx="400.11" cy="633.46" r="1.5"/>
<circle class="t" cx="420.71" cy="629.26" r="1.5"/>
<circle class="t" cx="402.21" cy="635.23" r="1.5"/>
<circle class="t" cx="402.71" cy="628.03" r="1.5"/>
<circle class="r" cx="423.92" cy="639.06" r="1.5"/>
<circle class="t" cx="395.93" cy="631.01" r="1.5"/>
<circle class="r" cx="411" cy="632.41" r="1.5"/>
<circle class="t" cx="401.3" cy="631.91" r="1.5"/>
<circle class="t" cx="407.63" cy="630.99" r="1.5"/>
<circle class="t" cx="392.99" cy="636.14" r="1.5"/>
<circle class="t" cx="409.93" cy="634.43" r="1.5"/>
<circle class="t" cx="404.77" cy="628.49" r="1.5"/>
<circle class="t" cx="404.18" cy="633.5" r="1.5"/>
<circle class="t" cx="403.54" cy="632.79" r="1.5"/>
<circle class="t" cx="409.03" cy="635.03" r="1.5"/>
<circle class="t" cx="401.69" cy="631.81" r="1.5"/>
<circle class="t" cx="421.09" cy="634.74" r="1.5"/>
<circle class="t" cx="395.12" cy="631.31" r="1.5"/>
<circle class="t" cx="397.2" cy="632.57" r="1.5"/>
<circle class="r" cx="414.93" cy="636.39" r="1.5"/>
<circle class="t" cx="401.72" cy="623.87" r="1.5"/>
<circle class="t" cx="410.66" cy="631.47" r="1.5"/>
<circle class="t" cx="383.31" cy="624.98" r="1.5"/>
<circle class="t" cx="404.99" cy="632.74" r="1.5"/>
<circle class="t" cx="406.88" cy="636.94" r="1.5"/>
<circle class="t" cx="397.08" cy="641.09" r="1.5"/>
<circle class="t" cx="403.73" cy="629.05" r="1.5"/>
<circle class="t" cx="413.43" cy="641.45" r="1.5"/>
<circle class="t" cx="411.1" cy="637.75" r="1.5"/>
<circle class="t" cx="409.64" cy="630.82" r="1.5"/>
<circle class="t" cx="389.79" cy="626.11" r="1.5"/>
<circle class="t" cx="405.2" cy="632.72" r="1.5"/>
<circle class="t" cx="417.59" cy="639.75" r="1.5"/>
<circle class="t" cx="399.04" cy="633.32" r="1.5"/>
<circle class="r" cx="411.44" cy="642.06" r="1.5"/>
<circle class="t" cx="408.44" cy="635.41" r="1.5"/>
<circle class="r" cx="408.02" cy="637.24" r="1.5"/>
<circle class="t" cx="404.95" cy="637.44" r="1.5"/>
<circle class="t" cx="424.22" cy="642.54" r="1.5"/>
<circle class="t" cx="409.94" cy="631.68" r="1.5"/>
<circle class="r" cx="390.55" cy="635.15" r="1.5"/>
<circle class="t" cx="404.23" cy="633.6" r="1.5"/>
<circle class="t" cx="410.38" cy="632.8" r="1.5"/>
<circle class="r" cx="414.19" cy="637.12" r="1.5"/>
<circle class="r" cx="382.64" cy="633.77" r="1.5"/>
<circle class="t" cx="421.5" cy="639.81" r="1.5"/>
<circle class="r" cx="422.64" cy="635.39" r="1.5"/>
<circle class="r" cx="391.71" cy="635.12" r="1.5"/>
<circle class="r" cx="407.62" cy="636.72" r="1.5"/>
<circle class="r" cx="408.19" cy="629.9" r="1.5"/>
<circle class="t" cx="398.97" cy="631.71" r="1.5"/>
<circle class="t" cx="415.35" cy="634.32" r="1.5"/>
<circle class="t" cx="410.53" cy="639.07" r="1.5"/>
<circle class="t" cx="408.8" cy="634.78" r="1.5"/>
<circle class="t" cx="422.43" cy="636.92" r="1.5"/>
<circle class="t" cx="410.02" cy="634.53" r="1.5"/>
<circle class="t" cx="411.04" cy="632.37" r="1.5"/>
<circle class="t" cx="403.01" cy="637.59" r="1.5"/>
<circle class="r" cx="395.56" cy="636.1" r="1.5"/>
<circle class="t" cx="420.04" cy="638.47" r="1.5"/>
<circle class="r" cx="386.84" cy="631.33" r="1.5"/>
<circle class="t" cx="420.12" cy="637.54" r="1.5"/>
<circle class="t" cx="385.39" cy="630.92" r="1.5"/>
<circle class="t" cx="413.47" cy="634.45" r="1.5"/>
<circle class="t" cx="382.99" cy="630.53" r="1.5"/>
<circle class="r" cx="406.48" cy="630.21" r="1.5"/>
<circle class="t" cx="407.75" cy="627.75" r="1.5"/>
<circle class="t" cx="413.05" cy="631.35" r="1.5"/>
<circle class="t" cx="420.92" cy="633.18" r="1.5"/>
<circle class="t" cx="397.56" cy="636.91" r="1.5"/>
<circle class="t" cx="415.28" cy="636.92" r="1.5"/>
<circle class="t" cx="420.2" cy="634.91" r="1.5"/>
<circle class="t" cx="407.81" cy="631.17" r="1.5"/>
<circle class="t" cx="407.39" cy="629.96" r="1.5"/>
<circle class="t" cx="391.97" cy="635.9" r="1.5"/>
<circle class="t" cx="394.58" cy="632.32" r="1.5"/>
<circle class="t" cx="411.08" cy="634.79" r="1.5"/>
<circle class="t" cx="405.3" cy="635.82" r="1.5"/>
<circle class="t" cx="385.09" cy="630.34" r="1.5"/>
<circle class="r" cx="413" cy="633.69" r="1.5"/>
<circle class="t" cx="402.64" cy="631.29" r="1.5"/>
<circle class="r" cx="390.99" cy="630.82" r="1.5"/>
<circle class="t" cx="410.4" cy="631.3" r="1.5"/>
<circle class="t" cx="401.36" cy="625" r="1.5"/>
<circle class="t" cx="385.27" cy="629.08" r="1.5"/>
<circle class="t" cx="398.02" cy="629.13" r="1.5"/>
<circle class="t" cx="418.27" cy="643.9" r="1.5"/>
<circle class="t" cx="421.9" cy="631.72" r="1.5"/>
<circle class="t" cx="409.47" cy="635.91" r="1.5"/>
<circle class="r" cx="411.83" cy="633.76" r="1.5"/>
<circle class="t" cx="399.29" cy="638.94" r="1.5"/>
<circle class="r" cx="405.45" cy="631.33" r="1.5"/>
<circle class="r" cx="410.58" cy="634.73" r="1.5"/>
<circle class="t" cx="406.13" cy="633.08" r="1.5"/>
<circle class="r" cx="416.24" cy="632.58" r="1.5"/>
<circle class="r" cx="414.01" cy="631.86" r="1.5"/>
<circle class="t" cx="395.07" cy="626.55" r="1.5"/>
<circle class="r" cx="397.5" cy="637.06" r="1.5"/>
<circle class="t" cx="416.07" cy="635.89" r="1.5"/>
<circle class="t" cx="410.01" cy="642.02" r="1.5"/>
<circle class="t" cx="421.33" cy="636.63" r="1.5"/>
<circle class="r" cx="410.06" cy="633.78" r="1.5"/>
<circle class="t" cx="409.75" cy="630.92" r="1.5"/>
<circle class="r" cx="388.26" cy="632.01" r="1.5"/>
<circle class="r" cx="412.9" cy="634.77" r="1.5"/>
<circle class="t" cx="403.97" cy="641.17" r="1.5"/>
<circle class="t" cx="407.96" cy="633.04" r="1.5"/>
<circle class="t" cx="391.79" cy="626.88" r="1.5"/>
<circle class="t" cx="420.9" cy="632.27" r="1.5"/>
<circle class="r" cx="406.68" cy="630.89" r="1.5"/>
<circle class="t" cx="396.13" cy="634.96" r="1.5"/>
<circle class="t" cx="391.61" cy="631.9" r="1.5"/>
<circle class="t" cx="400.13" cy="636.18" r="1.5"/>
<circle class="r" cx="403.32" cy="633.26" r="1.5"/>
<circle class="r" cx="397.6" cy="633.21" r="1.5"/>
<circle class="r" cx="404.43" cy="635.29" r="1.5"/>
<circle class="t" cx="408.51" cy="636" r="1.5"/>
<circle class="t" cx="413.83" cy="630.09" r="1.5"/>
<circle class="t" cx="405.54" cy="628.31" r="1.5"/>
<circle class="t" cx="413.28" cy="636.08" r="1.5"/>
<circle class="r" cx="412.58" cy="635.68" r="1.5"/>
<circle class="r" cx="410.28" cy="635.68" r="1.5"/>
<circle class="t" cx="411.38" cy="629.62" r="1.5"/>
<circle class="t" cx="392.57" cy="623.41" r="1.5"/>
<circle class="r" cx="417.74" cy="637.51" r="1.5"/>
<circle class="t" cx="409.68" cy="635.91" r="1.5"/>
<circle class="t" cx="404.88" cy="630.62" r="1.5"/>
<circle class="t" cx="398.61" cy="632.71" r="1.5"/>
<circle class="t" cx="391.01" cy="630.97" r="1.5"/>
<circle class="r" cx="407.82" cy="633.53" r="1.5"/>
<circle class="t" cx="409.82" cy="633.62" r="1.5"/>
<circle class="t" cx="408.23" cy="634" r="1.5"/>
<circle class="t" cx="390.53" cy="628.45" r="1.5"/>
<circle class="r" cx="414.21" cy="634.31" r="1.5"/>
<circle class="t" cx="394.37" cy="634.22" r="1.5"/>
<circle class="t" cx="402.9" cy="626.28" r="1.5"/>
<circle class="t" cx="417.01" cy="635.9" r="1.5"/>
<circle class="t" cx="382.9" cy="623.95" r="1.5"/>
<circle class="t" cx="408.5" cy="639.19" r="1.5"/>
<circle class="r" cx="417.73" cy="639.7" r="1.5"/>
<circle class="t" cx="392.78" cy="631.16" r="1.5"/>
<circle class="t" cx="395.31" cy="630.18" r="1.5"/>
<circle class="r" cx="392.89" cy="631.42" r="1.5"/>
<circle class="t" cx="402.76" cy="636.84" r="1.5"/>
<circle class="t" cx="390.79" cy="626.7" r="1.5"/>
<circle class="t" cx="384.42" cy="628.03" r="1.5"/>
<circle class="r" cx="403.66" cy="633.52" r="1.5"/>
<circle class="t" cx="408.51" cy="637.09" r="1.5"/>
<circle class="t" cx="408.35" cy="635.63" r="1.5"/>
<circle class="t" cx="414.22" cy="638.29" r="1.5"/>
<circle class="t" cx="405.47" cy="629.74" r="1.5"/>
<circle class="t" cx="424.74" cy="640.43" r="1.5"/>
<circle class="t" cx="401.71" cy="640.13" r="1.5"/>
<circle class="t" cx="414.93" cy="640.53" r="1.5"/>
<circle class="r" cx="399.65" cy="636.3" r="1.5"/>
<circle class="t" cx="408.8" cy="631.48" r="1.5"/>
<circle class="r" cx="398.95" cy="632.85" r="1.5"/>
<circle class="t" cx="403.63" cy="637.28" r="1.5"/>
<circle class="t" cx="399.43" cy="633.89" r="1.5"/>
<circle class="t" cx="406.64" cy="639.93" r="1.5"/>
<circle class="t" cx="405" cy="635.72" r="1.5"/>
<circle class="t" cx="425.3" cy="633.28" r="1.5"/>
<circle class="t" cx="408.36" cy="636.07" r="1.5"/>
<circle class="r" cx="424.52" cy="630.59" r="1.5"/>
<circle class="r" cx="414.48" cy="637.22" r="1.5"/>
<circle class="r" cx="391.81" cy="629.66" r="1.5"/>
<circle class="t" cx="390.47" cy="628.3" r="1.5"/>
<circle class="t" cx="396.66" cy="626.81" r="1.5"/>
<circle class="r" cx="411.03" cy="636" r="1.5"/>
<circle class="t" cx="410.96" cy="636.04" r="1.5"/>
<circle class="t" cx="388.21" cy="624.24" r="1.5"/>
<circle class="t" cx="404.59" cy="631.76" r="1.5"/>
<circle class="t" cx="405.48" cy="627.22" r="1.5"/>
<circle class="t" cx="386.96" cy="628.01" r="1.5"/>
<circle class="r" cx="405.57" cy="632.43" r="1.5"/>
<circle class="t" cx="425.48" cy="634.22" r="1.5"/>
<circle class="r" cx="424.02" cy="639.17" r="1.5"/>
<circle class="t" cx="408.42" cy="631.55" r="1.5"/>
<circle class="r" cx="407.32" cy="634.03" r="1.5"/>
<circle class="t" cx="412.49" cy="631.78" r="1.5"/>
<circle class="r" cx="416.69" cy="638.55" r="1.5"/>
<circle class="t" cx="425.28" cy="636.25" r="1.5"/>
<circle class="t" cx="417.19" cy="630.66" r="1.5"/>
<circle class="t" cx="395.41" cy="628.6" r="1.5"/>
<circle class="r" cx="417.42" cy="638.16" r="1.5"/>
<circle class="r" cx="409.1" cy="640.23" r="1.5"/>
<circle class="r" cx="414.63" cy="638.8" r="1.5"/>
<circle class="t" cx="409.15" cy="640.91" r="1.5"/>
<circle class="t" cx="403.84" cy="634.68" r="1.5"/>
<circle class="t" cx="409.58" cy="635.78" r="1.5"/>
<circle class="t" cx="400.37" cy="637.01" r="1.5"/>
<circle class="t" cx="413.98" cy="634.33" r="1.5"/>
<circle class="t" cx="387.3" cy="625.42" r="1.5"/>
<circle class="t" cx="411.16" cy="632.12" r="1.5"/>
<circle class="t" cx="410.68" cy="638.34" r="1.5"/>
<circle class="t" cx="401.74" cy="637.8" r="1.5"/>
<circle class="r" cx="409.65" cy="629.03" r="1.5"/>
<circle class="t" cx="404.79" cy="630.83" r="1.5"/>
<circle class="r" cx="414.52" cy="639.21" r="1.5"/>
<circle class="r" cx="413.08" cy="636.09" r="1.5"/>
<circle class="r" cx="402.93" cy="634.13" r="1.5"/>
<circle class="t" cx="404.71" cy="640.65" r="1.5"/>
<circle class="t" cx="401.38" cy="632.31" r="1.5"/>
<circle class="t" cx="413.42" cy="637.49" r="1.5"/>
<circle class="t" cx="404.9" cy="632.55" r="1.5"/>
<circle class="t" cx="402.17" cy="636.61" r="1.5"/>
<circle class="t" cx="409.95" cy="638.85" r="1.5"/>
<circle class="r" cx="400.09" cy="634.39" r="1.5"/>
<circle class="t" cx="405.26" cy="633.18" r="1.5"/>
<circle class="r" cx="405.42" cy="633.23" r="1.5"/>
<circle class="t" cx="408.33" cy="633.82" r="1.5"/>
<circle class="t" cx="409.41" cy="638.89" r="1.5"/>
<circle class="t" cx="403.23" cy="633.13" r="1.5"/>
<circle class="r" cx="390.97" cy="625.51" r="1.5"/>
<circle class="t" cx="408.16" cy="635.05" r="1.5"/>
<circle class="r" cx="410.61" cy="636.22" r="1.5"/>
<circle class="t" cx="386.94" cy="636.21" r="1.5"/>
<circle class="t" cx="424.13" cy="634" r="1.5"/>
<circle class="t" cx="402.57" cy="634.87" r="1.5"/>
<circle class="t" cx="418.09" cy="637.04" r="1.5"/>
<circle class="t" cx="388.06" cy="630.21" r="1.5"/>
<circle class="r" cx="405.57" cy="639.04" r="1.5"/>
<circle class="t" cx="413.71" cy="631.11" r="1.5"/>
<circle class="t" cx="422.08" cy="629.23" r="1.5"/>
<circle class="t" cx="384.54" cy="623.32" r="1.5"/>
<line x1="381.73" y1="629.6" x2="425.31" y2="637.23" stroke="#F8766D" stroke-width="2.6" stroke-linecap="butt"/>
<line x1="381.73" y1="628.08" x2="425.31" y2="637.89" stroke="#00BFC4" stroke-width="2.6" stroke-linecap="butt"/>
<circle class="r" cx="465.69" cy="594.85" r="1.5"/>
<circle class="t" cx="482.2" cy="591.95" r="1.5"/>
<circle class="t" cx="491.65" cy="586.52" r="1.5"/>
<circle class="t" cx="494.44" cy="591.66" r="1.5"/>
<circle class="t" cx="495.02" cy="598.83" r="1.5"/>
<circle class="t" cx="476.04" cy="588.89" r="1.5"/>
<circle class="t" cx="476.47" cy="575.88" r="1.5"/>
<circle class="t" cx="487.36" cy="592.13" r="1.5"/>
<circle class="t" cx="485.8" cy="587.33" r="1.5"/>
<circle class="t" cx="492.78" cy="582.08" r="1.5"/>
<circle class="r" cx="488.43" cy="572.11" r="1.5"/>
<circle class="t" cx="480.97" cy="594.58" r="1.5"/>
<circle class="r" cx="492.36" cy="591.41" r="1.5"/>
<circle class="t" cx="460.33" cy="582.94" r="1.5"/>
<circle class="t" cx="488.51" cy="571.56" r="1.5"/>
<circle class="t" cx="501.56" cy="595.65" r="1.5"/>
<circle class="t" cx="469.14" cy="601.45" r="1.5"/>
<circle class="t" cx="481.06" cy="598.01" r="1.5"/>
<circle class="t" cx="487.77" cy="603.08" r="1.5"/>
<circle class="t" cx="480.66" cy="602.85" r="1.5"/>
<circle class="t" cx="498.33" cy="573.53" r="1.5"/>
<circle class="t" cx="475.45" cy="595.86" r="1.5"/>
<circle class="t" cx="462.52" cy="601.69" r="1.5"/>
<circle class="r" cx="477.54" cy="594.58" r="1.5"/>
<circle class="t" cx="461.85" cy="577.44" r="1.5"/>
<circle class="t" cx="488.59" cy="583.57" r="1.5"/>
<circle class="t" cx="489.92" cy="596.19" r="1.5"/>
<circle class="t" cx="485.66" cy="583.3" r="1.5"/>
<circle class="t" cx="487.96" cy="563.73" r="1.5"/>
<circle class="r" cx="488.46" cy="589.8" r="1.5"/>
<circle class="t" cx="481.16" cy="589.9" r="1.5"/>
<circle class="t" cx="485.76" cy="587.55" r="1.5"/>
<circle class="t" cx="479.14" cy="575.56" r="1.5"/>
<circle class="t" cx="497.47" cy="580.6" r="1.5"/>
<circle class="t" cx="482.42" cy="599.74" r="1.5"/>
<circle class="t" cx="485.79" cy="578.38" r="1.5"/>
<circle class="r" cx="491.95" cy="589.28" r="1.5"/>
<circle class="t" cx="476.72" cy="596.92" r="1.5"/>
<circle class="t" cx="462.7" cy="613.86" r="1.5"/>
<circle class="t" cx="485.87" cy="589.47" r="1.5"/>
<circle class="t" cx="478.79" cy="609.73" r="1.5"/>
<circle class="t" cx="484.77" cy="584.38" r="1.5"/>
<circle class="t" cx="473.56" cy="580.77" r="1.5"/>
<circle class="r" cx="477.08" cy="597.13" r="1.5"/>
<circle class="t" cx="485.39" cy="607.62" r="1.5"/>
<circle class="r" cx="485.62" cy="587.9" r="1.5"/>
<circle class="r" cx="501.45" cy="587.1" r="1.5"/>
<circle class="t" cx="502.01" cy="584.18" r="1.5"/>
<circle class="t" cx="485.24" cy="576.39" r="1.5"/>
<circle class="r" cx="487.71" cy="588.75" r="1.5"/>
<circle class="r" cx="469.24" cy="602.66" r="1.5"/>
<circle class="r" cx="499" cy="586.32" r="1.5"/>
<circle class="t" cx="465.49" cy="587.56" r="1.5"/>
<circle class="r" cx="490.07" cy="581.95" r="1.5"/>
<circle class="t" cx="464.73" cy="592.33" r="1.5"/>
<circle class="t" cx="486.58" cy="600.5" r="1.5"/>
<circle class="r" cx="487.49" cy="570.65" r="1.5"/>
<circle class="t" cx="482.38" cy="591.5" r="1.5"/>
<circle class="r" cx="490.43" cy="582.39" r="1.5"/>
<circle class="t" cx="469.22" cy="598.32" r="1.5"/>
<circle class="t" cx="466.78" cy="584.65" r="1.5"/>
<circle class="t" cx="487.11" cy="603.6" r="1.5"/>
<circle class="t" cx="488.59" cy="613.73" r="1.5"/>
<circle class="r" cx="488.04" cy="589.61" r="1.5"/>
<circle class="t" cx="499.86" cy="587" r="1.5"/>
<circle class="t" cx="482.02" cy="574.05" r="1.5"/>
<circle class="r" cx="494.78" cy="592.91" r="1.5"/>
<circle class="t" cx="498.35" cy="573.08" r="1.5"/>
<circle class="t" cx="474.63" cy="596.86" r="1.5"/>
<circle class="t" cx="485.01" cy="577.87" r="1.5"/>
<circle class="t" cx="467.93" cy="602.08" r="1.5"/>
<circle class="t" cx="479.15" cy="602.91" r="1.5"/>
<circle class="t" cx="500.56" cy="589.12" r="1.5"/>
<circle class="t" cx="502.73" cy="592.67" r="1.5"/>
<circle class="t" cx="461.97" cy="614.44" r="1.5"/>
<circle class="t" cx="462.82" cy="594.33" r="1.5"/>
<circle class="t" cx="487.88" cy="589.55" r="1.5"/>
<circle class="t" cx="479.6" cy="590.83" r="1.5"/>
<circle class="r" cx="483.91" cy="584.84" r="1.5"/>
<circle class="r" cx="482.88" cy="583.51" r="1.5"/>
<circle class="r" cx="476.38" cy="592.14" r="1.5"/>
<circle class="t" cx="482.22" cy="594.47" r="1.5"/>
<circle class="t" cx="488.8" cy="581.25" r="1.5"/>
<circle class="t" cx="486.84" cy="585.34" r="1.5"/>
<circle class="r" cx="482.85" cy="575.21" r="1.5"/>
<circle class="t" cx="480.3" cy="598.79" r="1.5"/>
<circle class="t" cx="467.9" cy="582.27" r="1.5"/>
<circle class="t" cx="490.71" cy="568.26" r="1.5"/>
<circle class="r" cx="485.45" cy="593.44" r="1.5"/>
<circle class="t" cx="482.97" cy="582.25" r="1.5"/>
<circle class="r" cx="490.51" cy="579.75" r="1.5"/>
<circle class="t" cx="473.36" cy="597.1" r="1.5"/>
<circle class="t" cx="464.39" cy="584.84" r="1.5"/>
<circle class="t" cx="474.51" cy="593.06" r="1.5"/>
<circle class="t" cx="480" cy="587.17" r="1.5"/>
<circle class="r" cx="493.67" cy="582.29" r="1.5"/>
<circle class="t" cx="488.53" cy="577.93" r="1.5"/>
<circle class="t" cx="475.77" cy="575.12" r="1.5"/>
<circle class="t" cx="464.37" cy="588.06" r="1.5"/>
<circle class="t" cx="485.78" cy="594.91" r="1.5"/>
<circle class="t" cx="491.8" cy="587.72" r="1.5"/>
<circle class="t" cx="474.09" cy="600.19" r="1.5"/>
<circle class="r" cx="495.16" cy="561.7" r="1.5"/>
<circle class="t" cx="482.43" cy="606.37" r="1.5"/>
<circle class="t" cx="480.07" cy="595.28" r="1.5"/>
<circle class="t" cx="487.38" cy="573.74" r="1.5"/>
<circle class="r" cx="481.09" cy="583.23" r="1.5"/>
<circle class="t" cx="482.31" cy="595.98" r="1.5"/>
<circle class="t" cx="488.67" cy="586.63" r="1.5"/>
<circle class="t" cx="502.71" cy="588.81" r="1.5"/>
<circle class="t" cx="487.67" cy="589.51" r="1.5"/>
<circle class="t" cx="480.14" cy="585.66" r="1.5"/>
<circle class="t" cx="488.09" cy="601.75" r="1.5"/>
<circle class="t" cx="476.4" cy="597.34" r="1.5"/>
<circle class="t" cx="481.66" cy="586.8" r="1.5"/>
<circle class="t" cx="482.69" cy="583.86" r="1.5"/>
<circle class="t" cx="460.82" cy="608.85" r="1.5"/>
<circle class="t" cx="482.91" cy="582.82" r="1.5"/>
<circle class="t" cx="479.17" cy="597.24" r="1.5"/>
<circle class="r" cx="475.91" cy="589.4" r="1.5"/>
<circle class="t" cx="502.91" cy="580.05" r="1.5"/>
<circle class="t" cx="482.9" cy="583.04" r="1.5"/>
<circle class="t" cx="498.76" cy="566.17" r="1.5"/>
<circle class="t" cx="490.85" cy="593.24" r="1.5"/>
<circle class="t" cx="485.93" cy="598.61" r="1.5"/>
<circle class="t" cx="487.07" cy="574.88" r="1.5"/>
<circle class="t" cx="498.14" cy="589.57" r="1.5"/>
<circle class="r" cx="464.27" cy="614.1" r="1.5"/>
<circle class="t" cx="481.61" cy="591.89" r="1.5"/>
<circle class="t" cx="477.56" cy="589.16" r="1.5"/>
<circle class="r" cx="491.44" cy="593.96" r="1.5"/>
<circle class="t" cx="480.44" cy="603.68" r="1.5"/>
<circle class="t" cx="494.62" cy="577.83" r="1.5"/>
<circle class="t" cx="460.74" cy="605.55" r="1.5"/>
<circle class="r" cx="489.26" cy="584.54" r="1.5"/>
<circle class="t" cx="468.44" cy="601.32" r="1.5"/>
<circle class="t" cx="485.3" cy="584.46" r="1.5"/>
<circle class="t" cx="487.25" cy="601.19" r="1.5"/>
<circle class="t" cx="471.8" cy="592.32" r="1.5"/>
<circle class="r" cx="485.25" cy="591.14" r="1.5"/>
<circle class="t" cx="491.41" cy="566.21" r="1.5"/>
<circle class="t" cx="470" cy="590.13" r="1.5"/>
<circle class="t" cx="482.63" cy="586.04" r="1.5"/>
<circle class="t" cx="497.55" cy="578.47" r="1.5"/>
<circle class="t" cx="479.12" cy="590.53" r="1.5"/>
<circle class="t" cx="497.63" cy="587.35" r="1.5"/>
<circle class="t" cx="488.39" cy="587.65" r="1.5"/>
<circle class="t" cx="488.81" cy="599.66" r="1.5"/>
<circle class="r" cx="484.75" cy="585.55" r="1.5"/>
<circle class="r" cx="480.36" cy="609.87" r="1.5"/>
<circle class="t" cx="484.82" cy="596.9" r="1.5"/>
<circle class="r" cx="484.01" cy="580.36" r="1.5"/>
<circle class="t" cx="460.42" cy="610.45" r="1.5"/>
<circle class="t" cx="495.7" cy="591.82" r="1.5"/>
<circle class="t" cx="502.17" cy="596.78" r="1.5"/>
<circle class="t" cx="468.22" cy="586.57" r="1.5"/>
<circle class="t" cx="465.64" cy="599.41" r="1.5"/>
<circle class="t" cx="462.9" cy="607.77" r="1.5"/>
<circle class="t" cx="478.81" cy="595.16" r="1.5"/>
<circle class="t" cx="498.93" cy="578.69" r="1.5"/>
<circle class="r" cx="460.07" cy="598.15" r="1.5"/>
<circle class="r" cx="503.04" cy="584.33" r="1.5"/>
<circle class="r" cx="480.75" cy="590.01" r="1.5"/>
<circle class="t" cx="487.81" cy="587.3" r="1.5"/>
<circle class="r" cx="483" cy="583.21" r="1.5"/>
<circle class="r" cx="468.42" cy="599.16" r="1.5"/>
<circle class="r" cx="491.64" cy="579.84" r="1.5"/>
<circle class="t" cx="485.18" cy="577.72" r="1.5"/>
<circle class="t" cx="480.33" cy="596.19" r="1.5"/>
<circle class="t" cx="495.52" cy="594.89" r="1.5"/>
<circle class="t" cx="491.26" cy="595.78" r="1.5"/>
<circle class="t" cx="468.22" cy="578.61" r="1.5"/>
<circle class="r" cx="472.99" cy="600.65" r="1.5"/>
<circle class="t" cx="482.33" cy="609.02" r="1.5"/>
<circle class="r" cx="483" cy="577.39" r="1.5"/>
<circle class="t" cx="487.45" cy="585.67" r="1.5"/>
<circle class="r" cx="485.34" cy="581.14" r="1.5"/>
<circle class="t" cx="483.56" cy="583.64" r="1.5"/>
<circle class="t" cx="490.86" cy="591.67" r="1.5"/>
<circle class="t" cx="477.8" cy="599.01" r="1.5"/>
<circle class="t" cx="488.11" cy="598.41" r="1.5"/>
<circle class="t" cx="478.21" cy="592.36" r="1.5"/>
<circle class="t" cx="472.5" cy="594.46" r="1.5"/>
<circle class="t" cx="476.86" cy="603.05" r="1.5"/>
<circle class="t" cx="469.4" cy="593.66" r="1.5"/>
<circle class="r" cx="468.4" cy="594.06" r="1.5"/>
<circle class="r" cx="474.93" cy="587.05" r="1.5"/>
<circle class="t" cx="487.44" cy="581.61" r="1.5"/>
<circle class="t" cx="479.64" cy="603.11" r="1.5"/>
<circle class="t" cx="499.51" cy="583.97" r="1.5"/>
<circle class="t" cx="486.84" cy="595.46" r="1.5"/>
<circle class="t" cx="478.73" cy="568.51" r="1.5"/>
<circle class="r" cx="488.87" cy="589.63" r="1.5"/>
<circle class="t" cx="487.37" cy="595.9" r="1.5"/>
<circle class="r" cx="485.05" cy="602.6" r="1.5"/>
<circle class="t" cx="487.01" cy="582.63" r="1.5"/>
<circle class="r" cx="460.04" cy="600.75" r="1.5"/>
<circle class="t" cx="488.47" cy="588.59" r="1.5"/>
<circle class="t" cx="470.42" cy="589.03" r="1.5"/>
<circle class="t" cx="485.94" cy="589.78" r="1.5"/>
<circle class="t" cx="486.46" cy="582.87" r="1.5"/>
<circle class="r" cx="491.91" cy="587.07" r="1.5"/>
<circle class="t" cx="493.5" cy="585" r="1.5"/>
<circle class="t" cx="487.18" cy="572.14" r="1.5"/>
<circle class="r" cx="486.53" cy="573.75" r="1.5"/>
<circle class="t" cx="484.07" cy="595.47" r="1.5"/>
<circle class="r" cx="493.98" cy="585.93" r="1.5"/>
<circle class="t" cx="485.59" cy="589.86" r="1.5"/>
<circle class="t" cx="474.99" cy="597.7" r="1.5"/>
<circle class="t" cx="484.31" cy="582.93" r="1.5"/>
<circle class="r" cx="494.85" cy="574.14" r="1.5"/>
<circle class="t" cx="482.14" cy="598.66" r="1.5"/>
<circle class="t" cx="469.04" cy="599.88" r="1.5"/>
<circle class="t" cx="472.84" cy="594.86" r="1.5"/>
<circle class="t" cx="490.48" cy="590.01" r="1.5"/>
<circle class="r" cx="494.12" cy="591.93" r="1.5"/>
<circle class="t" cx="467.96" cy="584.91" r="1.5"/>
<circle class="r" cx="475.03" cy="591.09" r="1.5"/>
<circle class="r" cx="500.07" cy="580.57" r="1.5"/>
<circle class="t" cx="480.19" cy="590.55" r="1.5"/>
<circle class="t" cx="485.06" cy="605.94" r="1.5"/>
<circle class="t" cx="498.52" cy="579.86" r="1.5"/>
<circle class="r" cx="488.01" cy="594.95" r="1.5"/>
<circle class="r" cx="481.97" cy="605.41" r="1.5"/>
<circle class="t" cx="499.33" cy="562.35" r="1.5"/>
<circle class="r" cx="498.38" cy="592.29" r="1.5"/>
<circle class="t" cx="486.23" cy="595.62" r="1.5"/>
<circle class="r" cx="470.32" cy="601.13" r="1.5"/>
<circle class="t" cx="477.08" cy="596.02" r="1.5"/>
<circle class="t" cx="472.74" cy="596.6" r="1.5"/>
<circle class="t" cx="470.21" cy="598.88" r="1.5"/>
<circle class="r" cx="487.08" cy="584.41" r="1.5"/>
<circle class="t" cx="485.94" cy="595.28" r="1.5"/>
<circle class="t" cx="499.85" cy="587.82" r="1.5"/>
<circle class="t" cx="490.9" cy="578.96" r="1.5"/>
<circle class="t" cx="492.36" cy="577.7" r="1.5"/>
<circle class="r" cx="501.95" cy="580.53" r="1.5"/>
<circle class="t" cx="486.23" cy="587.94" r="1.5"/>
<circle class="r" cx="490.33" cy="591.45" r="1.5"/>
<circle class="r" cx="492.06" cy="591.95" r="1.5"/>
<circle class="t" cx="501.65" cy="582.34" r="1.5"/>
<circle class="t" cx="487.83" cy="581.86" r="1.5"/>
<circle class="r" cx="491.62" cy="602.72" r="1.5"/>
<circle class="r" cx="479.5" cy="583.1" r="1.5"/>
<circle class="t" cx="492.71" cy="577.65" r="1.5"/>
<circle class="r" cx="477.52" cy="581.87" r="1.5"/>
<circle class="t" cx="485.82" cy="595.69" r="1.5"/>
<circle class="r" cx="501.35" cy="582" r="1.5"/>
<circle class="t" cx="491.14" cy="589.01" r="1.5"/>
<circle class="t" cx="467.22" cy="607.9" r="1.5"/>
<circle class="t" cx="481.4" cy="590.87" r="1.5"/>
<circle class="r" cx="490.01" cy="586.83" r="1.5"/>
<circle class="t" cx="486.9" cy="589.18" r="1.5"/>
<circle class="r" cx="492.29" cy="580.38" r="1.5"/>
<circle class="t" cx="481.27" cy="590.6" r="1.5"/>
<circle class="t" cx="472.01" cy="580.12" r="1.5"/>
<circle class="r" cx="481.86" cy="603.21" r="1.5"/>
<circle class="r" cx="484.11" cy="589.97" r="1.5"/>
<circle class="r" cx="495.17" cy="588.03" r="1.5"/>
<circle class="r" cx="487.97" cy="585.77" r="1.5"/>
<circle class="r" cx="469.14" cy="576.08" r="1.5"/>
<circle class="t" cx="485.85" cy="591.37" r="1.5"/>
<circle class="r" cx="467.98" cy="599.99" r="1.5"/>
<circle class="t" cx="482.73" cy="586.97" r="1.5"/>
<circle class="t" cx="472.55" cy="597.87" r="1.5"/>
<line x1="459.1" y1="597.87" x2="502.23" y2="580.33" stroke="#F8766D" stroke-width="2.6" stroke-linecap="butt"/>
<line x1="459.1" y1="599.2" x2="502.23" y2="583.67" stroke="#00BFC4" stroke-width="2.6" stroke-linecap="butt"/>
<circle class="t" cx="558.59" cy="565.11" r="1.5"/>
<circle class="r" cx="561.34" cy="566.01" r="1.5"/>
<circle class="t" cx="563.23" cy="564.28" r="1.5"/>
<circle class="t" cx="564.61" cy="562.67" r="1.5"/>
<circle class="t" cx="563.21" cy="566.85" r="1.5"/>
<circle class="t" cx="554.29" cy="564.41" r="1.5"/>
<circle class="r" cx="564.92" cy="568.67" r="1.5"/>
<circle class="r" cx="572.28" cy="558.3" r="1.5"/>
<circle class="r" cx="566.69" cy="560.14" r="1.5"/>
<circle class="t" cx="579.44" cy="560.53" r="1.5"/>
<circle class="t" cx="565.15" cy="584.91" r="1.5"/>
<circle class="r" cx="550.42" cy="564.84" r="1.5"/>
<circle class="r" cx="560.43" cy="568.14" r="1.5"/>
<circle class="r" cx="561.54" cy="562.73" r="1.5"/>
<circle class="r" cx="572.6" cy="559.65" r="1.5"/>
<circle class="t" cx="559.76" cy="569.62" r="1.5"/>
<circle class="t" cx="565.2" cy="563.64" r="1.5"/>
<circle class="t" cx="556.58" cy="564.09" r="1.5"/>
<circle class="t" cx="575.95" cy="560.14" r="1.5"/>
<circle class="t" cx="573.13" cy="557.12" r="1.5"/>
<circle class="t" cx="565.24" cy="560.62" r="1.5"/>
<circle class="r" cx="559.4" cy="560.82" r="1.5"/>
<circle class="t" cx="545.65" cy="563.29" r="1.5"/>
<circle class="t" cx="537.76" cy="564.76" r="1.5"/>
<circle class="t" cx="556.6" cy="568.37" r="1.5"/>
<circle class="t" cx="559.45" cy="563.54" r="1.5"/>
<circle class="r" cx="545.85" cy="565.92" r="1.5"/>
<circle class="r" cx="569.05" cy="560.59" r="1.5"/>
<circle class="r" cx="571.1" cy="556.54" r="1.5"/>
<circle class="t" cx="563.3" cy="563.6" r="1.5"/>
<circle class="r" cx="578.88" cy="556.04" r="1.5"/>
<circle class="t" cx="538.25" cy="562.1" r="1.5"/>
<circle class="t" cx="561.5" cy="563.27" r="1.5"/>
<circle class="t" cx="563.28" cy="560.78" r="1.5"/>
<circle class="r" cx="565.89" cy="558.88" r="1.5"/>
<circle class="r" cx="565.14" cy="561.61" r="1.5"/>
<circle class="t" cx="563.89" cy="563.12" r="1.5"/>
<circle class="t" cx="550.79" cy="564.91" r="1.5"/>
<circle class="r" cx="569.49" cy="568.59" r="1.5"/>
<circle class="t" cx="566.02" cy="575.52" r="1.5"/>
<circle class="t" cx="559.85" cy="562" r="1.5"/>
<circle class="t" cx="564.8" cy="563.04" r="1.5"/>
<circle class="t" cx="562.82" cy="569.55" r="1.5"/>
<circle class="t" cx="562.73" cy="565.39" r="1.5"/>
<circle class="t" cx="554.15" cy="561.38" r="1.5"/>
<circle class="r" cx="580.47" cy="559.58" r="1.5"/>
<circle class="t" cx="565.82" cy="562.18" r="1.5"/>
<circle class="t" cx="566.1" cy="562.73" r="1.5"/>
<circle class="t" cx="558.83" cy="560.17" r="1.5"/>
<circle class="t" cx="553.9" cy="573.87" r="1.5"/>
<circle class="t" cx="575.76" cy="555.28" r="1.5"/>
<circle class="t" cx="557.03" cy="561.51" r="1.5"/>
<circle class="r" cx="554.95" cy="567.05" r="1.5"/>
<circle class="t" cx="557.07" cy="563.76" r="1.5"/>
<circle class="t" cx="559.57" cy="577.16" r="1.5"/>
<circle class="t" cx="568.14" cy="562.72" r="1.5"/>
<circle class="r" cx="557.79" cy="561.5" r="1.5"/>
<circle class="r" cx="558.18" cy="562.79" r="1.5"/>
<circle class="t" cx="574.9" cy="563.95" r="1.5"/>
<circle class="t" cx="550.99" cy="573.17" r="1.5"/>
<circle class="t" cx="563.19" cy="571.58" r="1.5"/>
<circle class="t" cx="569.08" cy="569.51" r="1.5"/>
<circle class="t" cx="550.27" cy="563.41" r="1.5"/>
<circle class="t" cx="576.76" cy="564.21" r="1.5"/>
<circle class="t" cx="558.4" cy="572.81" r="1.5"/>
<circle class="t" cx="550.17" cy="563.63" r="1.5"/>
<circle class="r" cx="553.34" cy="567.28" r="1.5"/>
<circle class="t" cx="563.36" cy="562.08" r="1.5"/>
<circle class="t" cx="549.23" cy="578.85" r="1.5"/>
<circle class="t" cx="556.16" cy="559.96" r="1.5"/>
<circle class="r" cx="545.41" cy="562.47" r="1.5"/>
<circle class="t" cx="565.26" cy="559.38" r="1.5"/>
<circle class="r" cx="562.77" cy="558.57" r="1.5"/>
<circle class="t" cx="567.91" cy="558.77" r="1.5"/>
<circle class="t" cx="556.22" cy="559.52" r="1.5"/>
<circle class="t" cx="552.06" cy="574.58" r="1.5"/>
<circle class="t" cx="575.06" cy="565.84" r="1.5"/>
<circle class="t" cx="571.87" cy="562.23" r="1.5"/>
<circle class="t" cx="540.13" cy="567.9" r="1.5"/>
<circle class="r" cx="579.38" cy="556.68" r="1.5"/>
<circle class="r" cx="537.5" cy="566.07" r="1.5"/>
<circle class="t" cx="557.5" cy="566.19" r="1.5"/>
<circle class="t" cx="542.16" cy="563.6" r="1.5"/>
<circle class="t" cx="577.28" cy="562.37" r="1.5"/>
<circle class="r" cx="567.44" cy="558.52" r="1.5"/>
<circle class="t" cx="563.37" cy="565.27" r="1.5"/>
<circle class="t" cx="545.39" cy="561.24" r="1.5"/>
<circle class="t" cx="553.2" cy="561.45" r="1.5"/>
<circle class="t" cx="544.65" cy="564.93" r="1.5"/>
<circle class="t" cx="556.24" cy="576.73" r="1.5"/>
<circle class="t" cx="579.08" cy="566.38" r="1.5"/>
<circle class="t" cx="565.1" cy="567.58" r="1.5"/>
<circle class="t" cx="555.64" cy="565.02" r="1.5"/>
<circle class="t" cx="559.65" cy="562.12" r="1.5"/>
<circle class="t" cx="564.33" cy="572.87" r="1.5"/>
<circle class="t" cx="568.84" cy="559.11" r="1.5"/>
<circle class="t" cx="564.07" cy="597.39" r="1.5"/>
<circle class="t" cx="560.99" cy="563.84" r="1.5"/>
<circle class="t" cx="542.92" cy="565.1" r="1.5"/>
<circle class="r" cx="554.97" cy="572.92" r="1.5"/>
<circle class="r" cx="565.47" cy="563.39" r="1.5"/>
<circle class="t" cx="562.67" cy="564.06" r="1.5"/>
<circle class="t" cx="539.4" cy="567.14" r="1.5"/>
<circle class="r" cx="564.51" cy="568.24" r="1.5"/>
<circle class="t" cx="567.35" cy="572.02" r="1.5"/>
<circle class="t" cx="565.54" cy="558.87" r="1.5"/>
<circle class="t" cx="545.36" cy="564.94" r="1.5"/>
<circle class="t" cx="579.6" cy="556.74" r="1.5"/>
<circle class="r" cx="545.83" cy="563.99" r="1.5"/>
<circle class="t" cx="560.33" cy="564.06" r="1.5"/>
<circle class="t" cx="560.4" cy="568.81" r="1.5"/>
<circle class="t" cx="551.94" cy="573.31" r="1.5"/>
<circle class="t" cx="576.19" cy="568.36" r="1.5"/>
<circle class="r" cx="547.75" cy="564.44" r="1.5"/>
<circle class="t" cx="546.83" cy="573.13" r="1.5"/>
<circle class="t" cx="544.21" cy="565.16" r="1.5"/>
<circle class="t" cx="563.02" cy="570.8" r="1.5"/>
<circle class="t" cx="564.54" cy="563.01" r="1.5"/>
<circle class="t" cx="576.36" cy="561.37" r="1.5"/>
<circle class="r" cx="562.18" cy="560.91" r="1.5"/>
<circle class="t" cx="559.63" cy="571.84" r="1.5"/>
<circle class="t" cx="580.34" cy="559.71" r="1.5"/>
<circle class="t" cx="577.29" cy="565.79" r="1.5"/>
<circle class="t" cx="559.04" cy="562.18" r="1.5"/>
<circle class="t" cx="549.93" cy="561.9" r="1.5"/>
<circle class="t" cx="563.66" cy="561.43" r="1.5"/>
<circle class="r" cx="578.78" cy="560.68" r="1.5"/>
<circle class="r" cx="552.36" cy="563.38" r="1.5"/>
<circle class="t" cx="546.65" cy="564.88" r="1.5"/>
<circle class="r" cx="554.51" cy="563.66" r="1.5"/>
<circle class="t" cx="559.08" cy="605.3" r="1.5"/>
<circle class="t" cx="564.27" cy="562.96" r="1.5"/>
<circle class="t" cx="556.55" cy="578.14" r="1.5"/>
<circle class="t" cx="558.09" cy="563.55" r="1.5"/>
<circle class="t" cx="572.95" cy="558.53" r="1.5"/>
<circle class="t" cx="564.5" cy="562.24" r="1.5"/>
<circle class="r" cx="546.67" cy="564.55" r="1.5"/>
<circle class="t" cx="575.57" cy="558.99" r="1.5"/>
<circle class="t" cx="566.24" cy="575.97" r="1.5"/>
<circle class="t" cx="568.57" cy="563.52" r="1.5"/>
<circle class="t" cx="552.42" cy="564.25" r="1.5"/>
<circle class="t" cx="545.87" cy="562.95" r="1.5"/>
<circle class="r" cx="567.76" cy="560.6" r="1.5"/>
<circle class="t" cx="565.31" cy="563.4" r="1.5"/>
<circle class="r" cx="563.05" cy="558.43" r="1.5"/>
<circle class="t" cx="562.49" cy="558.69" r="1.5"/>
<circle class="t" cx="543.07" cy="573.38" r="1.5"/>
<circle class="t" cx="545.65" cy="562.32" r="1.5"/>
<circle class="r" cx="537.47" cy="573.55" r="1.5"/>
<circle class="t" cx="580.14" cy="566.56" r="1.5"/>
<circle class="t" cx="549.98" cy="564.59" r="1.5"/>
<circle class="t" cx="547.85" cy="570.48" r="1.5"/>
<circle class="t" cx="563.66" cy="570.18" r="1.5"/>
<circle class="r" cx="567.86" cy="555.12" r="1.5"/>
<circle class="t" cx="556.08" cy="609.21" r="1.5"/>
<circle class="t" cx="557.87" cy="559.42" r="1.5"/>
<circle class="t" cx="553.47" cy="582.98" r="1.5"/>
<circle class="t" cx="580.16" cy="562.38" r="1.5"/>
<circle class="t" cx="546.47" cy="563.05" r="1.5"/>
<circle class="t" cx="540.33" cy="568.38" r="1.5"/>
<circle class="r" cx="562.88" cy="559.11" r="1.5"/>
<circle class="t" cx="568.69" cy="566.87" r="1.5"/>
<circle class="t" cx="564.79" cy="565.52" r="1.5"/>
<circle class="t" cx="565.94" cy="564.56" r="1.5"/>
<circle class="t" cx="557.57" cy="560.73" r="1.5"/>
<circle class="r" cx="575.81" cy="564.14" r="1.5"/>
<circle class="t" cx="564.44" cy="566.04" r="1.5"/>
<circle class="t" cx="563.09" cy="569.63" r="1.5"/>
<circle class="r" cx="556.93" cy="563.69" r="1.5"/>
<circle class="t" cx="556.57" cy="564.77" r="1.5"/>
<circle class="r" cx="565.44" cy="563.83" r="1.5"/>
<circle class="t" cx="560.34" cy="558.91" r="1.5"/>
<circle class="t" cx="570.21" cy="561.97" r="1.5"/>
<circle class="t" cx="562.44" cy="562.93" r="1.5"/>
<circle class="t" cx="553.83" cy="564.47" r="1.5"/>
<circle class="t" cx="568.33" cy="569.48" r="1.5"/>
<circle class="r" cx="560.28" cy="565.51" r="1.5"/>
<circle class="t" cx="561.74" cy="570.56" r="1.5"/>
<circle class="t" cx="568.29" cy="561.51" r="1.5"/>
<circle class="t" cx="563.22" cy="562.93" r="1.5"/>
<circle class="t" cx="559.81" cy="563.16" r="1.5"/>
<circle class="r" cx="562.48" cy="568.07" r="1.5"/>
<circle class="t" cx="564.68" cy="568.89" r="1.5"/>
<circle class="r" cx="569.34" cy="565.08" r="1.5"/>
<circle class="t" cx="562.61" cy="558.87" r="1.5"/>
<circle class="t" cx="565.96" cy="567.22" r="1.5"/>
<circle class="t" cx="577.99" cy="562.6" r="1.5"/>
<circle class="r" cx="560.31" cy="569.97" r="1.5"/>
<circle class="t" cx="565.52" cy="560.66" r="1.5"/>
<circle class="t" cx="538.17" cy="565.31" r="1.5"/>
<circle class="r" cx="561.44" cy="562.41" r="1.5"/>
<circle class="r" cx="569.72" cy="567.09" r="1.5"/>
<circle class="t" cx="563.37" cy="562.57" r="1.5"/>
<circle class="r" cx="569.79" cy="564.27" r="1.5"/>
<circle class="t" cx="537.85" cy="564.06" r="1.5"/>
<circle class="t" cx="562.25" cy="566.34" r="1.5"/>
<circle class="t" cx="570.93" cy="562.75" r="1.5"/>
<circle class="r" cx="563.96" cy="565.29" r="1.5"/>
<circle class="t" cx="564.87" cy="559.88" r="1.5"/>
<circle class="t" cx="545.33" cy="563.82" r="1.5"/>
<circle class="t" cx="569.23" cy="569.22" r="1.5"/>
<circle class="t" cx="560.16" cy="562.83" r="1.5"/>
<circle class="t" cx="558.7" cy="560.16" r="1.5"/>
<circle class="r" cx="543.12" cy="574.26" r="1.5"/>
<circle class="t" cx="564.01" cy="558.25" r="1.5"/>
<circle class="t" cx="564.27" cy="565.6" r="1.5"/>
<circle class="t" cx="557.73" cy="576.48" r="1.5"/>
<circle class="t" cx="551.52" cy="562.14" r="1.5"/>
<circle class="t" cx="574.98" cy="565.43" r="1.5"/>
<circle class="t" cx="572.05" cy="568.54" r="1.5"/>
<circle class="t" cx="540.25" cy="566.65" r="1.5"/>
<circle class="r" cx="567.94" cy="560.13" r="1.5"/>
<circle class="t" cx="576.94" cy="563.36" r="1.5"/>
<circle class="r" cx="571.41" cy="560.25" r="1.5"/>
<circle class="t" cx="568.28" cy="568.57" r="1.5"/>
<circle class="t" cx="554.99" cy="564.54" r="1.5"/>
<circle class="t" cx="541.8" cy="563.44" r="1.5"/>
<circle class="t" cx="559.09" cy="563.18" r="1.5"/>
<circle class="t" cx="565.39" cy="563.6" r="1.5"/>
<circle class="t" cx="566.02" cy="565.69" r="1.5"/>
<circle class="t" cx="569.79" cy="558.05" r="1.5"/>
<circle class="t" cx="565.9" cy="566.89" r="1.5"/>
<circle class="r" cx="576.43" cy="563.02" r="1.5"/>
<circle class="t" cx="541.82" cy="563" r="1.5"/>
<circle class="t" cx="539.95" cy="569.54" r="1.5"/>
<circle class="r" cx="552.46" cy="566.56" r="1.5"/>
<circle class="t" cx="564.88" cy="566.19" r="1.5"/>
<circle class="r" cx="566.3" cy="560.06" r="1.5"/>
<circle class="r" cx="562.68" cy="558.99" r="1.5"/>
<circle class="r" cx="541.7" cy="563.66" r="1.5"/>
<circle class="t" cx="553.84" cy="593.96" r="1.5"/>
<circle class="r" cx="569.38" cy="559.04" r="1.5"/>
<circle class="r" cx="569.07" cy="557.08" r="1.5"/>
<circle class="t" cx="557.76" cy="578.63" r="1.5"/>
<circle class="r" cx="560.43" cy="568.56" r="1.5"/>
<circle class="t" cx="578.99" cy="571.23" r="1.5"/>
<circle class="r" cx="572.59" cy="560.51" r="1.5"/>
<circle class="r" cx="539.08" cy="603.78" r="1.5"/>
<circle class="t" cx="560.12" cy="557.15" r="1.5"/>
<circle class="r" cx="546.57" cy="561.54" r="1.5"/>
<circle class="r" cx="572.21" cy="559.74" r="1.5"/>
<circle class="t" cx="563.25" cy="562.32" r="1.5"/>
<circle class="r" cx="558.52" cy="570.13" r="1.5"/>
<circle class="t" cx="566.23" cy="563.42" r="1.5"/>
<circle class="t" cx="546.57" cy="563.34" r="1.5"/>
<circle class="t" cx="552.88" cy="564.29" r="1.5"/>
<circle class="t" cx="557.43" cy="570.97" r="1.5"/>
<circle class="t" cx="557.62" cy="570.91" r="1.5"/>
<circle class="r" cx="571.55" cy="559.7" r="1.5"/>
<circle class="t" cx="555.23" cy="561.01" r="1.5"/>
<circle class="t" cx="559.74" cy="559.79" r="1.5"/>
<circle class="t" cx="558.49" cy="560.81" r="1.5"/>
<circle class="t" cx="564.81" cy="558.28" r="1.5"/>
<circle class="t" cx="570.14" cy="568" r="1.5"/>
<circle class="t" cx="562.2" cy="565.01" r="1.5"/>
<circle class="t" cx="549.44" cy="561.81" r="1.5"/>
<circle class="r" cx="565.86" cy="561.82" r="1.5"/>
<circle class="r" cx="577.5" cy="562.26" r="1.5"/>
<circle class="r" cx="567.5" cy="565.42" r="1.5"/>
<circle class="r" cx="553.81" cy="576.61" r="1.5"/>
<circle class="r" cx="568.87" cy="561.53" r="1.5"/>
<circle class="t" cx="547.43" cy="572.69" r="1.5"/>
<circle class="t" cx="560.06" cy="577.41" r="1.5"/>
<circle class="t" cx="575.78" cy="571.27" r="1.5"/>
<circle class="r" cx="559.29" cy="560.06" r="1.5"/>
<circle class="t" cx="539.28" cy="569.23" r="1.5"/>
<circle class="t" cx="559.86" cy="571.57" r="1.5"/>
<circle class="r" cx="565.4" cy="560.59" r="1.5"/>
<circle class="t" cx="554.51" cy="562.84" r="1.5"/>
<circle class="t" cx="547.64" cy="570.73" r="1.5"/>
<circle class="t" cx="572.45" cy="565.45" r="1.5"/>
<line x1="538" y1="567.85" x2="579.92" y2="559.08" stroke="#F8766D" stroke-width="2.6" stroke-linecap="butt"/>
<line x1="536.4" y1="566.04" x2="579.92" y2="562.13" stroke="#00BFC4" stroke-width="2.6" stroke-linecap="butt"/>
<circle class="r" cx="631.94" cy="605.31" r="1.5"/>
<circle class="t" cx="622.08" cy="607.34" r="1.5"/>
<circle class="t" cx="622.82" cy="600.18" r="1.5"/>
<circle class="t" cx="638.93" cy="605.33" r="1.5"/>
<circle class="t" cx="630.9" cy="595.09" r="1.5"/>
<circle class="r" cx="635.22" cy="592.19" r="1.5"/>
<circle class="t" cx="644.78" cy="619.81" r="1.5"/>
<circle class="r" cx="642.87" cy="608.07" r="1.5"/>
<circle class="r" cx="638.87" cy="625.24" r="1.5"/>
<circle class="t" cx="636.52" cy="620.5" r="1.5"/>
<circle class="t" cx="628.22" cy="600.03" r="1.5"/>
<circle class="t" cx="642.74" cy="602.52" r="1.5"/>
<circle class="t" cx="635.3" cy="616.35" r="1.5"/>
<circle class="t" cx="637.06" cy="614.51" r="1.5"/>
<circle class="r" cx="647.15" cy="626.27" r="1.5"/>
<circle class="r" cx="637.86" cy="605.95" r="1.5"/>
<circle class="t" cx="637.55" cy="606.88" r="1.5"/>
<circle class="t" cx="615.68" cy="620.6" r="1.5"/>
<circle class="t" cx="637.29" cy="628.51" r="1.5"/>
<circle class="t" cx="623.08" cy="609.07" r="1.5"/>
<circle class="r" cx="637.86" cy="606.68" r="1.5"/>
<circle class="r" cx="644.87" cy="613.51" r="1.5"/>
<circle class="t" cx="641.44" cy="620.69" r="1.5"/>
<circle class="r" cx="642.9" cy="613.16" r="1.5"/>
<circle class="r" cx="619.13" cy="619.39" r="1.5"/>
<circle class="t" cx="637.83" cy="642.99" r="1.5"/>
<circle class="t" cx="643.37" cy="617.84" r="1.5"/>
<circle class="r" cx="638.77" cy="599.25" r="1.5"/>
<circle class="t" cx="637" cy="613.56" r="1.5"/>
<circle class="r" cx="624" cy="578.81" r="1.5"/>
<circle class="t" cx="627.7" cy="619.17" r="1.5"/>
<circle class="t" cx="652.33" cy="609.11" r="1.5"/>
<circle class="t" cx="642.63" cy="632.22" r="1.5"/>
<circle class="r" cx="641.39" cy="609.07" r="1.5"/>
<circle class="t" cx="635.92" cy="629.29" r="1.5"/>
<circle class="r" cx="646.81" cy="596.54" r="1.5"/>
<circle class="r" cx="624.1" cy="613.58" r="1.5"/>
<circle class="r" cx="632.4" cy="631.93" r="1.5"/>
<circle class="t" cx="642.82" cy="625.3" r="1.5"/>
<circle class="t" cx="642.11" cy="603.84" r="1.5"/>
<circle class="t" cx="649.3" cy="620.02" r="1.5"/>
<circle class="t" cx="640.45" cy="630.5" r="1.5"/>
<circle class="t" cx="646.66" cy="611.74" r="1.5"/>
<circle class="t" cx="641.87" cy="607.16" r="1.5"/>
<circle class="t" cx="646.51" cy="617.32" r="1.5"/>
<circle class="r" cx="627.85" cy="604.75" r="1.5"/>
<circle class="t" cx="637.76" cy="620.81" r="1.5"/>
<circle class="t" cx="657.03" cy="615.65" r="1.5"/>
<circle class="r" cx="635.61" cy="614.08" r="1.5"/>
<circle class="t" cx="628.42" cy="617.46" r="1.5"/>
<circle class="r" cx="639.61" cy="631.93" r="1.5"/>
<circle class="t" cx="639.92" cy="627.28" r="1.5"/>
<circle class="t" cx="652.49" cy="621.97" r="1.5"/>
<circle class="t" cx="634" cy="618.11" r="1.5"/>
<circle class="t" cx="624" cy="620.5" r="1.5"/>
<circle class="t" cx="615.19" cy="606.83" r="1.5"/>
<circle class="t" cx="648.36" cy="601.65" r="1.5"/>
<circle class="r" cx="632.38" cy="595.96" r="1.5"/>
<circle class="t" cx="650.38" cy="630.65" r="1.5"/>
<circle class="r" cx="629.89" cy="626.64" r="1.5"/>
<circle class="t" cx="653.19" cy="636.24" r="1.5"/>
<circle class="t" cx="619.23" cy="621.13" r="1.5"/>
<circle class="r" cx="654.93" cy="612.67" r="1.5"/>
<circle class="t" cx="647.57" cy="609.5" r="1.5"/>
<circle class="r" cx="646.3" cy="624.98" r="1.5"/>
<circle class="t" cx="639.68" cy="632.98" r="1.5"/>
<circle class="t" cx="616.83" cy="592.39" r="1.5"/>
<circle class="t" cx="647.64" cy="635.66" r="1.5"/>
<circle class="t" cx="657.57" cy="625.42" r="1.5"/>
<circle class="t" cx="637.77" cy="618.99" r="1.5"/>
<circle class="t" cx="624.86" cy="615.55" r="1.5"/>
<circle class="r" cx="622.84" cy="586.66" r="1.5"/>
<circle class="t" cx="641.7" cy="628.34" r="1.5"/>
<circle class="t" cx="626.87" cy="602.25" r="1.5"/>
<circle class="t" cx="646.27" cy="621.02" r="1.5"/>
<circle class="t" cx="643.67" cy="631.94" r="1.5"/>
<circle class="r" cx="614.9" cy="604.99" r="1.5"/>
<circle class="t" cx="645.34" cy="612.07" r="1.5"/>
<circle class="t" cx="636.47" cy="612.15" r="1.5"/>
<circle class="t" cx="634.46" cy="605.36" r="1.5"/>
<circle class="r" cx="643.32" cy="610.66" r="1.5"/>
<circle class="t" cx="628.95" cy="580.9" r="1.5"/>
<circle class="r" cx="648.84" cy="622.54" r="1.5"/>
<circle class="t" cx="656.87" cy="617.58" r="1.5"/>
<circle class="t" cx="635.05" cy="624.43" r="1.5"/>
<circle class="r" cx="635.95" cy="614.21" r="1.5"/>
<circle class="t" cx="615.28" cy="589.62" r="1.5"/>
<circle class="t" cx="631.72" cy="634.6" r="1.5"/>
<circle class="t" cx="639.63" cy="602.03" r="1.5"/>
<circle class="r" cx="647.22" cy="615.3" r="1.5"/>
<circle class="t" cx="641.09" cy="625.24" r="1.5"/>
<circle class="r" cx="645.37" cy="604.74" r="1.5"/>
<circle class="t" cx="642.24" cy="635.64" r="1.5"/>
<circle class="t" cx="640.04" cy="633.29" r="1.5"/>
<circle class="t" cx="647.22" cy="604.9" r="1.5"/>
<circle class="t" cx="630.31" cy="615.56" r="1.5"/>
<circle class="r" cx="656.31" cy="620.1" r="1.5"/>
<circle class="t" cx="623.3" cy="621.65" r="1.5"/>
<circle class="t" cx="621.64" cy="600.9" r="1.5"/>
<circle class="r" cx="634.36" cy="607.11" r="1.5"/>
<circle class="r" cx="642.35" cy="620.66" r="1.5"/>
<circle class="t" cx="626.66" cy="624.24" r="1.5"/>
<circle class="t" cx="657.59" cy="623.38" r="1.5"/>
<circle class="t" cx="619.59" cy="609.02" r="1.5"/>
<circle class="r" cx="643.73" cy="614.26" r="1.5"/>
<circle class="t" cx="655.42" cy="620.05" r="1.5"/>
<circle class="t" cx="654.19" cy="624.99" r="1.5"/>
<circle class="t" cx="641.7" cy="618.46" r="1.5"/>
<circle class="t" cx="620.35" cy="620.61" r="1.5"/>
<circle class="t" cx="635.19" cy="625.33" r="1.5"/>
<circle class="t" cx="634.86" cy="620.34" r="1.5"/>
<circle class="r" cx="646.5" cy="606.59" r="1.5"/>
<circle class="t" cx="640.16" cy="624.14" r="1.5"/>
<circle class="t" cx="637.19" cy="606.74" r="1.5"/>
<circle class="t" cx="643.66" cy="638.34" r="1.5"/>
<circle class="r" cx="653.24" cy="622.91" r="1.5"/>
<circle class="t" cx="640.71" cy="606.64" r="1.5"/>
<circle class="t" cx="654.71" cy="641.64" r="1.5"/>
<circle class="t" cx="637.17" cy="608.08" r="1.5"/>
<circle class="r" cx="623.26" cy="612.45" r="1.5"/>
<circle class="t" cx="639.87" cy="604.52" r="1.5"/>
<circle class="t" cx="627.41" cy="621.82" r="1.5"/>
<circle class="t" cx="636.26" cy="626.14" r="1.5"/>
<circle class="t" cx="617.68" cy="597.76" r="1.5"/>
<circle class="t" cx="640.52" cy="629.89" r="1.5"/>
<circle class="t" cx="616.71" cy="622.58" r="1.5"/>
<circle class="t" cx="634.01" cy="599.96" r="1.5"/>
<circle class="t" cx="631.58" cy="627.29" r="1.5"/>
<circle class="r" cx="642.83" cy="632.24" r="1.5"/>
<circle class="t" cx="640.1" cy="607.56" r="1.5"/>
<circle class="t" cx="640.62" cy="618.56" r="1.5"/>
<circle class="t" cx="641.32" cy="615.82" r="1.5"/>
<circle class="t" cx="649.88" cy="607.8" r="1.5"/>
<circle class="t" cx="641.76" cy="642.35" r="1.5"/>
<circle class="r" cx="631.24" cy="623.84" r="1.5"/>
<circle class="t" cx="645.72" cy="613.29" r="1.5"/>
<circle class="t" cx="653.79" cy="630.23" r="1.5"/>
<circle class="t" cx="635.16" cy="609.85" r="1.5"/>
<circle class="r" cx="648.98" cy="635.89" r="1.5"/>
<circle class="r" cx="657.9" cy="625.46" r="1.5"/>
<circle class="t" cx="641.09" cy="611.96" r="1.5"/>
<circle class="r" cx="636.83" cy="596.38" r="1.5"/>
<circle class="r" cx="646.77" cy="616.96" r="1.5"/>
<circle class="r" cx="645.29" cy="623.5" r="1.5"/>
<circle class="t" cx="641.97" cy="620.95" r="1.5"/>
<circle class="t" cx="641.93" cy="617.52" r="1.5"/>
<circle class="t" cx="640.8" cy="620.07" r="1.5"/>
<circle class="r" cx="638.97" cy="611.43" r="1.5"/>
<circle class="t" cx="617.38" cy="618.95" r="1.5"/>
<circle class="r" cx="614.93" cy="609.64" r="1.5"/>
<circle class="t" cx="645.57" cy="607.03" r="1.5"/>
<circle class="t" cx="633.07" cy="601.74" r="1.5"/>
<circle class="t" cx="635" cy="602.56" r="1.5"/>
<circle class="t" cx="642.53" cy="628.57" r="1.5"/>
<circle class="t" cx="645.76" cy="633.06" r="1.5"/>
<circle class="t" cx="642.23" cy="604.41" r="1.5"/>
<circle class="t" cx="620.5" cy="599.13" r="1.5"/>
<circle class="r" cx="646.92" cy="621.95" r="1.5"/>
<circle class="t" cx="636.13" cy="597.3" r="1.5"/>
<circle class="t" cx="633.59" cy="613.25" r="1.5"/>
<circle class="r" cx="643.29" cy="607.17" r="1.5"/>
<circle class="t" cx="640.65" cy="618.19" r="1.5"/>
<circle class="t" cx="634.03" cy="599.17" r="1.5"/>
<circle class="t" cx="625.28" cy="617.55" r="1.5"/>
<circle class="t" cx="634.5" cy="619.59" r="1.5"/>
<circle class="t" cx="640.8" cy="626.42" r="1.5"/>
<circle class="t" cx="639.17" cy="614.15" r="1.5"/>
<circle class="r" cx="649.64" cy="623.78" r="1.5"/>
<circle class="t" cx="630.63" cy="624.91" r="1.5"/>
<circle class="t" cx="622.76" cy="595.75" r="1.5"/>
<circle class="r" cx="640.2" cy="602.59" r="1.5"/>
<circle class="t" cx="632.66" cy="618.08" r="1.5"/>
<circle class="t" cx="633.67" cy="608.29" r="1.5"/>
<circle class="t" cx="637.28" cy="625.06" r="1.5"/>
<circle class="t" cx="637.24" cy="631.4" r="1.5"/>
<circle class="t" cx="617.56" cy="617.52" r="1.5"/>
<circle class="t" cx="632.42" cy="610.58" r="1.5"/>
<circle class="t" cx="642.67" cy="620.69" r="1.5"/>
<circle class="t" cx="638.42" cy="621.3" r="1.5"/>
<circle class="t" cx="619.25" cy="613.24" r="1.5"/>
<circle class="t" cx="640.25" cy="609.74" r="1.5"/>
<circle class="t" cx="642.97" cy="619.92" r="1.5"/>
<circle class="t" cx="650.56" cy="632.89" r="1.5"/>
<circle class="r" cx="656.81" cy="628.6" r="1.5"/>
<circle class="r" cx="642.57" cy="623.36" r="1.5"/>
<circle class="t" cx="633.65" cy="622.83" r="1.5"/>
<circle class="t" cx="642.04" cy="623.31" r="1.5"/>
<circle class="t" cx="642.22" cy="620.45" r="1.5"/>
<circle class="t" cx="615.6" cy="586.38" r="1.5"/>
<circle class="t" cx="642.95" cy="614.44" r="1.5"/>
<circle class="t" cx="643.33" cy="598.49" r="1.5"/>
<circle class="t" cx="631.33" cy="614.79" r="1.5"/>
<circle class="t" cx="656.51" cy="616.73" r="1.5"/>
<circle class="t" cx="636.02" cy="624.68" r="1.5"/>
<circle class="t" cx="654.72" cy="629.33" r="1.5"/>
<circle class="t" cx="627.6" cy="628.78" r="1.5"/>
<circle class="r" cx="649.71" cy="626.2" r="1.5"/>
<circle class="t" cx="642.31" cy="612.46" r="1.5"/>
<circle class="t" cx="649.48" cy="610.85" r="1.5"/>
<circle class="t" cx="635.83" cy="619.7" r="1.5"/>
<circle class="t" cx="629.85" cy="613.3" r="1.5"/>
<circle class="t" cx="634.93" cy="607.21" r="1.5"/>
<circle class="r" cx="645.19" cy="597.96" r="1.5"/>
<circle class="t" cx="654.37" cy="635.62" r="1.5"/>
<circle class="t" cx="637.08" cy="600.82" r="1.5"/>
<circle class="r" cx="650.03" cy="615.7" r="1.5"/>
<circle class="r" cx="644.12" cy="621.02" r="1.5"/>
<circle class="t" cx="643.25" cy="612.84" r="1.5"/>
<circle class="t" cx="633.98" cy="624.81" r="1.5"/>
<circle class="r" cx="640.31" cy="617.6" r="1.5"/>
<circle class="t" cx="642.3" cy="601.41" r="1.5"/>
<circle class="t" cx="629.49" cy="617.39" r="1.5"/>
<circle class="r" cx="640.11" cy="619.12" r="1.5"/>
<circle class="t" cx="617.76" cy="615.65" r="1.5"/>
<circle class="r" cx="640.48" cy="615.08" r="1.5"/>
<circle class="t" cx="652.41" cy="609.36" r="1.5"/>
<circle class="t" cx="624.08" cy="614.1" r="1.5"/>
<circle class="r" cx="656.21" cy="633.37" r="1.5"/>
<circle class="t" cx="643.53" cy="612.37" r="1.5"/>
<circle class="t" cx="636.88" cy="615.74" r="1.5"/>
<circle class="t" cx="622.79" cy="621.32" r="1.5"/>
<circle class="r" cx="644.93" cy="624.26" r="1.5"/>
<circle class="t" cx="645.71" cy="623.93" r="1.5"/>
<circle class="t" cx="646.12" cy="611.27" r="1.5"/>
<circle class="r" cx="636.72" cy="614.29" r="1.5"/>
<circle class="t" cx="643.39" cy="602.66" r="1.5"/>
<circle class="r" cx="623.28" cy="592.7" r="1.5"/>
<circle class="r" cx="620.55" cy="603.86" r="1.5"/>
<circle class="t" cx="642.69" cy="603.06" r="1.5"/>
<circle class="t" cx="640.79" cy="622.69" r="1.5"/>
<circle class="t" cx="624.26" cy="626.81" r="1.5"/>
<circle class="t" cx="653.62" cy="614.88" r="1.5"/>
<circle class="t" cx="653.38" cy="627.4" r="1.5"/>
<circle class="r" cx="650.02" cy="633.9" r="1.5"/>
<circle class="r" cx="637.71" cy="607.81" r="1.5"/>
<circle class="t" cx="627.36" cy="600.71" r="1.5"/>
<circle class="r" cx="641.94" cy="610.66" r="1.5"/>
<circle class="t" cx="643.45" cy="606.04" r="1.5"/>
<circle class="t" cx="643.45" cy="614.17" r="1.5"/>
<circle class="t" cx="623.9" cy="607.57" r="1.5"/>
<circle class="t" cx="625.07" cy="631.21" r="1.5"/>
<circle class="t" cx="635.52" cy="615.65" r="1.5"/>
<circle class="r" cx="630.77" cy="605.39" r="1.5"/>
<circle class="t" cx="640.73" cy="631.47" r="1.5"/>
<circle class="r" cx="648.53" cy="625.2" r="1.5"/>
<circle class="t" cx="637.59" cy="617.37" r="1.5"/>
<circle class="t" cx="629.37" cy="612.11" r="1.5"/>
<circle class="t" cx="631.94" cy="613.8" r="1.5"/>
<circle class="t" cx="657.77" cy="629.15" r="1.5"/>
<circle class="t" cx="646" cy="615.22" r="1.5"/>
<circle class="r" cx="629.79" cy="616.43" r="1.5"/>
<circle class="t" cx="640.68" cy="613.59" r="1.5"/>
<circle class="t" cx="653.21" cy="617.58" r="1.5"/>
<circle class="r" cx="637.74" cy="638.05" r="1.5"/>
<circle class="r" cx="625.18" cy="595.63" r="1.5"/>
<circle class="r" cx="639.91" cy="620.01" r="1.5"/>
<circle class="r" cx="646.48" cy="621.01" r="1.5"/>
<circle class="r" cx="653.86" cy="620.91" r="1.5"/>
<circle class="t" cx="653" cy="630.27" r="1.5"/>
<circle class="t" cx="631.26" cy="627.75" r="1.5"/>
<circle class="t" cx="656.42" cy="611.92" r="1.5"/>
<circle class="t" cx="623.08" cy="612.34" r="1.5"/>
<circle class="t" cx="637.49" cy="614.38" r="1.5"/>
<circle class="t" cx="640.66" cy="604.18" r="1.5"/>
<circle class="t" cx="640.64" cy="608.75" r="1.5"/>
<line x1="614.28" y1="601.49" x2="656.9" y2="621.31" stroke="#F8766D" stroke-width="2.6" stroke-linecap="butt"/>
<line x1="613.83" y1="605.97" x2="656.9" y2="623.6" stroke="#00BFC4" stroke-width="2.6" stroke-linecap="butt"/>
<circle class="r" cx="245.32" cy="673.46" r="1.5"/>
<circle class="r" cx="257.59" cy="673" r="1.5"/>
<circle class="t" cx="243.34" cy="675.36" r="1.5"/>
<circle class="t" cx="245.18" cy="680.83" r="1.5"/>
<circle class="t" cx="242.74" cy="677.02" r="1.5"/>
<circle class="t" cx="248.15" cy="667.86" r="1.5"/>
<circle class="r" cx="259.95" cy="666.74" r="1.5"/>
<circle class="r" cx="257.72" cy="667.3" r="1.5"/>
<circle class="r" cx="263.85" cy="671.02" r="1.5"/>
<circle class="r" cx="253.05" cy="672.24" r="1.5"/>
<circle class="t" cx="246.89" cy="681.92" r="1.5"/>
<circle class="r" cx="249.3" cy="673.23" r="1.5"/>
<circle class="r" cx="260.19" cy="670.76" r="1.5"/>
<circle class="t" cx="237.29" cy="690.54" r="1.5"/>
<circle class="r" cx="251.62" cy="668.05" r="1.5"/>
<circle class="t" cx="247.26" cy="676.48" r="1.5"/>
<circle class="t" cx="249.64" cy="677.72" r="1.5"/>
<circle class="r" cx="258.75" cy="670.32" r="1.5"/>
<circle class="t" cx="238.11" cy="688.88" r="1.5"/>
<circle class="r" cx="237.62" cy="672.05" r="1.5"/>
<circle class="r" cx="245.06" cy="671.1" r="1.5"/>
<circle class="t" cx="240.51" cy="678.53" r="1.5"/>
<circle class="t" cx="243.73" cy="677.82" r="1.5"/>
<circle class="t" cx="248.29" cy="682.33" r="1.5"/>
<circle class="r" cx="235.87" cy="677.8" r="1.5"/>
<circle class="t" cx="254.67" cy="675.78" r="1.5"/>
<circle class="r" cx="251.7" cy="675.07" r="1.5"/>
<line x1="235.69" y1="675.39" x2="264.7" y2="669.67" stroke="#F8766D" stroke-width="2.6" stroke-linecap="butt"/>
<line x1="237.48" y1="681.01" x2="258.37" y2="671.48" stroke="#00BFC4" stroke-width="2.6" stroke-linecap="butt"/>
<circle class="t" cx="403.15" cy="732.52" r="1.5"/>
<circle class="t" cx="404.5" cy="733.62" r="1.5"/>
<circle class="t" cx="409.53" cy="736.81" r="1.5"/>
<circle class="t" cx="402.12" cy="740.23" r="1.5"/>
<circle class="r" cx="406.56" cy="742.66" r="1.5"/>
<circle class="r" cx="412.45" cy="736.67" r="1.5"/>
<circle class="r" cx="404.16" cy="742.02" r="1.5"/>
<circle class="r" cx="414.81" cy="743.1" r="1.5"/>
<circle class="r" cx="412.58" cy="746.1" r="1.5"/>
<circle class="r" cx="390.73" cy="728.59" r="1.5"/>
<circle class="t" cx="397.6" cy="721.83" r="1.5"/>
<circle class="t" cx="395.37" cy="738.77" r="1.5"/>
<circle class="t" cx="398.59" cy="732.96" r="1.5"/>
<circle class="r" cx="392.48" cy="732.12" r="1.5"/>
<circle class="r" cx="418.71" cy="737.43" r="1.5"/>
<circle class="r" cx="399.92" cy="735.64" r="1.5"/>
<circle class="t" cx="392.97" cy="731.36" r="1.5"/>
<circle class="t" cx="401.75" cy="736.78" r="1.5"/>
<circle class="t" cx="398.2" cy="731.79" r="1.5"/>
<circle class="r" cx="415.05" cy="745.5" r="1.5"/>
<circle class="r" cx="407.91" cy="744.27" r="1.5"/>
<circle class="r" cx="413.61" cy="738.32" r="1.5"/>
<circle class="t" cx="400.04" cy="729.88" r="1.5"/>
<circle class="r" cx="406.48" cy="731.96" r="1.5"/>
<circle class="r" cx="400.18" cy="728.36" r="1.5"/>
<line x1="390.36" y1="731.33" x2="419.11" y2="743.82" stroke="#F8766D" stroke-width="2.6" stroke-linecap="butt"/>
<line x1="391.96" y1="728.47" x2="413.49" y2="741.43" stroke="#00BFC4" stroke-width="2.6" stroke-linecap="butt"/>
<circle class="t" cx="481.93" cy="688.61" r="1.5"/>
<circle class="r" cx="477.61" cy="698.28" r="1.5"/>
<circle class="t" cx="479.18" cy="699.89" r="1.5"/>
<circle class="t" cx="479.55" cy="693.84" r="1.5"/>
<circle class="r" cx="496.14" cy="687.17" r="1.5"/>
<circle class="r" cx="481.59" cy="690.84" r="1.5"/>
<circle class="t" cx="480.58" cy="693.84" r="1.5"/>
<circle class="r" cx="483.91" cy="683.86" r="1.5"/>
<circle class="r" cx="477.35" cy="692.4" r="1.5"/>
<circle class="t" cx="470.4" cy="699.37" r="1.5"/>
<circle class="r" cx="485.34" cy="687.74" r="1.5"/>
<circle class="r" cx="492.24" cy="689.25" r="1.5"/>
<circle class="t" cx="476.02" cy="694.17" r="1.5"/>
<circle class="r" cx="469.91" cy="698.79" r="1.5"/>
<circle class="t" cx="475.03" cy="701.29" r="1.5"/>
<circle class="r" cx="468.16" cy="700.99" r="1.5"/>
<circle class="r" cx="483.99" cy="692.14" r="1.5"/>
<circle class="t" cx="475.63" cy="693.39" r="1.5"/>
<circle class="r" cx="490.01" cy="688.11" r="1.5"/>
<circle class="t" cx="486.96" cy="690.01" r="1.5"/>
<circle class="r" cx="489.88" cy="691.83" r="1.5"/>
<circle class="r" cx="492.48" cy="691.43" r="1.5"/>
<circle class="t" cx="472.8" cy="698.08" r="1.5"/>
<circle class="r" cx="491.04" cy="689.67" r="1.5"/>
<circle class="t" cx="477.47" cy="701.08" r="1.5"/>
<line x1="467.79" y1="696.64" x2="497.05" y2="679.39" stroke="#F8766D" stroke-width="2.6" stroke-linecap="butt"/>
<line x1="468.87" y1="698.93" x2="490.86" y2="688.45" stroke="#00BFC4" stroke-width="2.6" stroke-linecap="butt"/>
<circle class="t" cx="559.36" cy="675.34" r="1.5"/>
<circle class="t" cx="550.23" cy="682.25" r="1.5"/>
<circle class="t" cx="554.9" cy="680.74" r="1.5"/>
<circle class="t" cx="553.06" cy="680.59" r="1.5"/>
<circle class="r" cx="567.31" cy="673.63" r="1.5"/>
<circle class="r" cx="562.77" cy="675.48" r="1.5"/>
<circle class="t" cx="552.46" cy="682.6" r="1.5"/>
<circle class="t" cx="556.98" cy="678.42" r="1.5"/>
<circle class="r" cx="567.44" cy="670.87" r="1.5"/>
<circle class="r" cx="561.42" cy="678.52" r="1.5"/>
<circle class="r" cx="573.57" cy="674.99" r="1.5"/>
<circle class="t" cx="558.01" cy="676.62" r="1.5"/>
<circle class="r" cx="555.04" cy="676.31" r="1.5"/>
<circle class="t" cx="564.39" cy="677.35" r="1.5"/>
<circle class="r" cx="568.47" cy="674.64" r="1.5"/>
<circle class="r" cx="547.34" cy="677.04" r="1.5"/>
<circle class="r" cx="561.34" cy="678.42" r="1.5"/>
<circle class="t" cx="556.61" cy="679.22" r="1.5"/>
<circle class="t" cx="553.45" cy="677.39" r="1.5"/>
<circle class="r" cx="559.02" cy="675.08" r="1.5"/>
<circle class="r" cx="569.67" cy="669.95" r="1.5"/>
<circle class="r" cx="545.59" cy="678.28" r="1.5"/>
<circle class="r" cx="569.91" cy="675.53" r="1.5"/>
<circle class="t" cx="547.83" cy="681.01" r="1.5"/>
<circle class="r" cx="554.78" cy="677.95" r="1.5"/>
<line x1="544.39" y1="678.82" x2="574.93" y2="672.44" stroke="#F8766D" stroke-width="2.6" stroke-linecap="butt"/>
<line x1="547.07" y1="682.16" x2="568.54" y2="674.72" stroke="#00BFC4" stroke-width="2.6" stroke-linecap="butt"/>
<text x="-0.8" y="818.2" font-size="16" fill="#000" text-anchor="start">c</text>
<text x="51.2" y="831.5" font-size="11.7" fill="#000" text-anchor="start">ROC granulocytes</text>
<line x1="51" y1="840.3" x2="51" y2="951.2" stroke="#000" stroke-width="1.1"/>
<line x1="50.45" y1="950.6" x2="171.2" y2="950.6" stroke="#000" stroke-width="1.1"/>
<text x="44.6" y="949.5" font-size="10.4" fill="#4D4D4D" text-anchor="end">0.00</text>
<text x="55.6" y="964.3" font-size="10.4" fill="#4D4D4D" text-anchor="middle">0.00</text>
<text x="44.6" y="924.62" font-size="10.4" fill="#4D4D4D" text-anchor="end">0.25</text>
<text x="82.85" y="964.3" font-size="10.4" fill="#4D4D4D" text-anchor="middle">0.25</text>
<text x="44.6" y="899.75" font-size="10.4" fill="#4D4D4D" text-anchor="end">0.50</text>
<text x="110.1" y="964.3" font-size="10.4" fill="#4D4D4D" text-anchor="middle">0.50</text>
<text x="44.6" y="874.88" font-size="10.4" fill="#4D4D4D" text-anchor="end">0.75</text>
<text x="137.35" y="964.3" font-size="10.4" fill="#4D4D4D" text-anchor="middle">0.75</text>
<text x="44.6" y="850" font-size="10.4" fill="#4D4D4D" text-anchor="end">1.00</text>
<text x="164.6" y="964.3" font-size="10.4" fill="#4D4D4D" text-anchor="middle">1.00</text>
<text x="17.5" y="895.5" font-size="13.0" fill="#000" text-anchor="middle" transform="rotate(-90 17.5 895.5)">Sensitivity</text>
<text x="110.1" y="979.9" font-size="13.0" fill="#000" text-anchor="middle">1 – Specificity</text>
<line x1="55.6" y1="945" x2="164.6" y2="845.5" stroke="#A0A0A0" stroke-width="1.1"/>
<polyline points="55.7,945.4 55.7,937.5 57,937.5 57,936.4 58.8,936.4 58.8,935 59.8,935 59.8,934 60.8,934 60.8,932.7 62.8,932.7 62.8,931.2 64.3,931.2 64.3,929.7 71,929.7 71,921.8 73.6,921.8 73.6,920 78,920 78,912.1 78.9,912.1 78.9,910.4 80.6,910.4 80.6,908.6 82.5,908.6 82.5,906.5 85,906.5 85,897.7 87.7,897.7 87.7,896.3 89.5,896.3 89.5,895.1 92.9,895.1 92.9,893.3 96,893.3 96,892.6 100,892.6 100,891.6 102,891.6 102,890.1 103.1,890.1 103.1,885.5 107.2,885.5 107.2,883.4 112.3,883.4 112.3,882.4 115.3,882.4 115.3,881.4 118.4,881.4 118.4,878.8 139.3,878.8 139.3,875.3 143.9,875.3 143.9,869.6 154.2,869.6 154.2,867.4 158.2,867.4 158.2,861.5 161.8,861.5 161.8,846.1 163.5,846.1 163.5,845.3 164.6,845.3" fill="none" stroke="#000" stroke-width="1.8" stroke-linejoin="miter"/>
<polyline points="55.7,945.4 55.92,945.4 55.92,943.93 56.13,943.93 56.35,943.93 56.35,942.47 56.57,942.47 56.78,942.47 56.78,941 57,941 57.16,941 57.16,939.48 57.33,939.48 57.49,939.48 57.49,937.95 57.65,937.95 57.81,937.95 57.81,936.42 57.97,936.42 58.14,936.42 58.14,934.9 58.3,934.9 58.67,934.9 58.67,933.43 59.03,933.43 59.4,933.43 59.4,931.97 59.77,931.97 60.13,931.97 60.13,930.5 60.5,930.5 61.25,930.5 61.25,930.5 62,930.5 62.55,930.5 62.55,929 63.1,929 63.43,929 63.43,927.6 63.75,927.6 64.08,927.6 64.08,926.2 64.4,926.2 65.3,926.2 65.3,924.4 66.2,924.4 66.75,924.4 66.75,922.65 67.3,922.65 67.85,922.65 67.85,920.9 68.4,920.9 68.83,920.9 68.83,919.13 69.27,919.13 69.7,919.13 69.7,917.37 70.13,917.37 70.57,917.37 70.57,915.6 71,915.6 71.65,915.6 71.65,913.85 72.3,913.85 72.95,913.85 72.95,912.1 73.6,912.1 74.27,912.1 74.27,911.25 74.95,911.25 75.62,911.25 75.62,910.4 76.3,910.4 76.72,910.4 76.72,909.1 77.15,909.1 77.58,909.1 77.58,907.8 78,907.8 78.45,907.8 78.45,906 78.9,906 79.55,906 79.55,905.8 80.2,905.8 80.85,905.8 80.85,905.6 81.5,905.6 82.05,905.6 82.05,904.3 82.6,904.3 83.15,904.3 83.15,903 83.7,903 83.95,903 83.95,900.8 84.2,900.8 84.85,900.8 84.85,900.1 85.5,900.1 86.15,900.1 86.15,899.4 86.8,899.4 87.45,899.4 87.45,898.75 88.1,898.75 88.75,898.75 88.75,898.1 89.4,898.1 90.05,898.1 90.05,896.8 90.7,896.8 91.35,896.8 91.35,895.5 92,895.5 92.88,895.5 92.88,894.65 93.75,894.65 94.62,894.65 94.62,893.8 95.5,893.8 96.38,893.8 96.38,892.9 97.25,892.9 98.12,892.9 98.12,892 99,892 99.5,892 99.5,890.1 100,890.1 100.78,890.1 100.78,889.05 101.55,889.05 102.32,889.05 102.32,888 103.1,888 103.85,888 103.85,886.5 104.6,886.5 105.35,886.5 105.35,885 106.1,885 106.78,885 106.78,884.67 107.47,884.67 108.15,884.67 108.15,884.33 108.83,884.33 109.52,884.33 109.52,884 110.2,884 111.25,884 111.25,881.9 112.3,881.9 112.42,881.9 112.42,880.35 112.55,880.35 112.67,880.35 112.67,878.8 112.8,878.8 113.42,878.8 113.42,878.55 114.05,878.55 114.67,878.55 114.67,878.3 115.3,878.3 116.08,878.3 116.08,877.55 116.85,877.55 117.62,877.55 117.62,876.8 118.4,876.8 118.65,876.8 118.65,874.7 118.9,874.7 119.55,874.7 119.55,874.2 120.2,874.2 120.85,874.2 120.85,873.7 121.5,873.7 122.5,873.7 122.5,873.45 123.5,873.45 124.5,873.45 124.5,873.2 125.5,873.2 126.55,873.2 126.55,871.7 127.6,871.7 127.85,871.7 127.85,869.6 128.1,869.6 128.75,869.6 128.75,867.85 129.4,867.85 130.05,867.85 130.05,866.1 130.7,866.1 131.2,866.1 131.2,864.5 131.7,864.5 132.45,864.5 132.45,863.75 133.2,863.75 133.95,863.75 133.95,863 134.7,863 135.35,863 135.35,862.25 136,862.25 136.65,862.25 136.65,861.5 137.3,861.5 138.2,861.5 138.2,861.2 139.1,861.2 140,861.2 140,860.9 140.9,860.9 141.15,860.9 141.15,859.65 141.4,859.65 141.65,859.65 141.65,858.4 141.9,858.4 142.4,858.4 142.4,856.3 142.9,856.3 143.68,856.3 143.68,855.8 144.45,855.8 145.22,855.8 145.22,855.3 146,855.3 146.75,855.3 146.75,854.8 147.5,854.8 148.25,854.8 148.25,854.3 149,854.3 149.65,854.3 149.65,853.55 150.3,853.55 150.95,853.55 150.95,852.8 151.6,852.8 151.72,852.8 151.72,851.25 151.85,851.25 151.97,851.25 151.97,849.7 152.1,849.7 152.88,849.7 152.88,848.95 153.65,848.95 154.42,848.95 154.42,848.2 155.2,848.2 155.88,848.2 155.88,848.03 156.57,848.03 157.25,848.03 157.25,847.87 157.93,847.87 158.62,847.87 158.62,847.7 159.3,847.7 160.3,847.7 160.3,846.6 161.3,846.6 162.12,846.6 162.12,846 162.95,846 163.78,846 163.78,845.4 164.6,845.4" fill="none" stroke="#F4A582" stroke-width="1.9" stroke-linejoin="miter"/>
<rect x="161.9" y="874.6" width="92.6" height="24.2" rx="1.5" fill="#000"/>
<text x="165.2" y="884" font-size="9.4" fill="#fff" text-anchor="start">AUC (WANG) = 0.55</text>
<text x="165.2" y="895.2" font-size="9.4" fill="#fff" text-anchor="start">(95% CI: 0.42–0.67)</text>
<rect x="161.9" y="905.9" width="109.6" height="24.6" rx="1.5" fill="#F4A582" stroke="#333" stroke-width="0.9"/>
<text x="165.6" y="916.2" font-size="9.4" fill="#000" text-anchor="start">AUC (FORECEE) = 0.61</text>
<text x="165.2" y="926.9" font-size="9.4" fill="#000" text-anchor="start">(95% CI: 0.54–0.67)</text>
<rect x="50.6" y="433.6" width="70.3" height="103.9" fill="none" stroke="#555" stroke-width="1.1"/>
<rect x="128.03" y="433.6" width="70.3" height="103.9" fill="none" stroke="#555" stroke-width="1.1"/>
<rect x="205.46" y="433.6" width="70.3" height="103.9" fill="none" stroke="#555" stroke-width="1.1"/>
<rect x="282.89" y="433.6" width="70.3" height="103.9" fill="none" stroke="#555" stroke-width="1.1"/>
<rect x="360.32" y="433.6" width="70.3" height="103.9" fill="none" stroke="#555" stroke-width="1.1"/>
<rect x="437.75" y="433.6" width="70.3" height="103.9" fill="none" stroke="#555" stroke-width="1.1"/>
<rect x="515.18" y="433.6" width="70.3" height="103.9" fill="none" stroke="#555" stroke-width="1.1"/>
<rect x="592.61" y="433.6" width="70.3" height="103.9" fill="none" stroke="#555" stroke-width="1.1"/>
<rect x="50.6" y="545.05" width="70.3" height="103.9" fill="none" stroke="#555" stroke-width="1.1"/>
<rect x="128.03" y="545.05" width="70.3" height="103.9" fill="none" stroke="#555" stroke-width="1.1"/>
<rect x="205.46" y="545.05" width="70.3" height="103.9" fill="none" stroke="#555" stroke-width="1.1"/>
<rect x="282.89" y="545.05" width="70.3" height="103.9" fill="none" stroke="#555" stroke-width="1.1"/>
<rect x="360.32" y="545.05" width="70.3" height="103.9" fill="none" stroke="#555" stroke-width="1.1"/>
<rect x="437.75" y="545.05" width="70.3" height="103.9" fill="none" stroke="#555" stroke-width="1.1"/>
<rect x="515.18" y="545.05" width="70.3" height="103.9" fill="none" stroke="#555" stroke-width="1.1"/>
<rect x="592.61" y="545.05" width="70.3" height="103.9" fill="none" stroke="#555" stroke-width="1.1"/>
<rect x="50.6" y="656.5" width="70.3" height="103.9" fill="none" stroke="#555" stroke-width="1.1"/>
<rect x="128.03" y="656.5" width="70.3" height="103.9" fill="none" stroke="#555" stroke-width="1.1"/>
<rect x="205.46" y="656.5" width="70.3" height="103.9" fill="none" stroke="#555" stroke-width="1.1"/>
<rect x="282.89" y="656.5" width="70.3" height="103.9" fill="none" stroke="#555" stroke-width="1.1"/>
<rect x="360.32" y="656.5" width="70.3" height="103.9" fill="none" stroke="#555" stroke-width="1.1"/>
<rect x="437.75" y="656.5" width="70.3" height="103.9" fill="none" stroke="#555" stroke-width="1.1"/>
<rect x="515.18" y="656.5" width="70.3" height="103.9" fill="none" stroke="#555" stroke-width="1.1"/>
<rect x="592.61" y="656.5" width="70.3" height="103.9" fill="none" stroke="#555" stroke-width="1.1"/>
</svg></body></html>
